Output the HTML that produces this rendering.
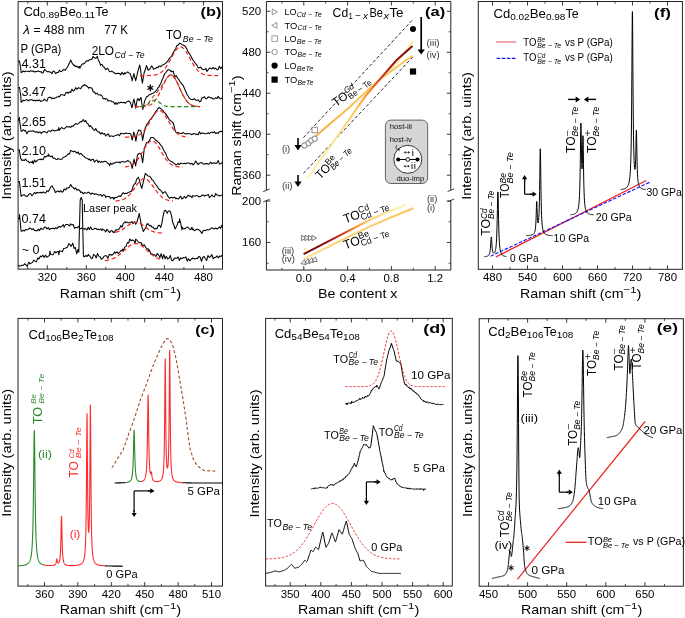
<!DOCTYPE html>
<html><head><meta charset="utf-8"><style>
html,body{margin:0;padding:0;background:#fff;}
svg{display:block;}
text{font-family:"Liberation Sans", sans-serif;}
</style></head><body>
<svg width="685" height="618" viewBox="0 0 685 618">
<rect width="685" height="618" fill="#fff"/>
<rect x="18.10" y="1.60" width="204.40" height="267.50" fill="none" stroke="#222" stroke-width="1.0"/>
<line x1="47.28" y1="269.10" x2="47.28" y2="265.10" stroke="#222" stroke-width="0.9"/>
<line x1="47.28" y1="1.60" x2="47.28" y2="5.60" stroke="#222" stroke-width="0.9"/>
<line x1="86.32" y1="269.10" x2="86.32" y2="265.10" stroke="#222" stroke-width="0.9"/>
<line x1="86.32" y1="1.60" x2="86.32" y2="5.60" stroke="#222" stroke-width="0.9"/>
<line x1="125.36" y1="269.10" x2="125.36" y2="265.10" stroke="#222" stroke-width="0.9"/>
<line x1="125.36" y1="1.60" x2="125.36" y2="5.60" stroke="#222" stroke-width="0.9"/>
<line x1="164.40" y1="269.10" x2="164.40" y2="265.10" stroke="#222" stroke-width="0.9"/>
<line x1="164.40" y1="1.60" x2="164.40" y2="5.60" stroke="#222" stroke-width="0.9"/>
<line x1="203.44" y1="269.10" x2="203.44" y2="265.10" stroke="#222" stroke-width="0.9"/>
<line x1="203.44" y1="1.60" x2="203.44" y2="5.60" stroke="#222" stroke-width="0.9"/>
<line x1="27.76" y1="269.10" x2="27.76" y2="266.90" stroke="#222" stroke-width="0.8"/>
<line x1="27.76" y1="1.60" x2="27.76" y2="3.80" stroke="#222" stroke-width="0.8"/>
<line x1="66.80" y1="269.10" x2="66.80" y2="266.90" stroke="#222" stroke-width="0.8"/>
<line x1="66.80" y1="1.60" x2="66.80" y2="3.80" stroke="#222" stroke-width="0.8"/>
<line x1="105.84" y1="269.10" x2="105.84" y2="266.90" stroke="#222" stroke-width="0.8"/>
<line x1="105.84" y1="1.60" x2="105.84" y2="3.80" stroke="#222" stroke-width="0.8"/>
<line x1="144.88" y1="269.10" x2="144.88" y2="266.90" stroke="#222" stroke-width="0.8"/>
<line x1="144.88" y1="1.60" x2="144.88" y2="3.80" stroke="#222" stroke-width="0.8"/>
<line x1="183.92" y1="269.10" x2="183.92" y2="266.90" stroke="#222" stroke-width="0.8"/>
<line x1="183.92" y1="1.60" x2="183.92" y2="3.80" stroke="#222" stroke-width="0.8"/>
<line x1="150.30" y1="84.60" x2="150.30" y2="91.20" stroke="#000" stroke-width="1.3"/>
<line x1="147.44" y1="86.25" x2="153.16" y2="89.55" stroke="#000" stroke-width="1.3"/>
<line x1="147.44" y1="89.55" x2="153.16" y2="86.25" stroke="#000" stroke-width="1.3"/>
<line x1="266.40" y1="1.50" x2="450.80" y2="1.50" stroke="#222" stroke-width="1.0"/>
<line x1="266.40" y1="1.50" x2="266.40" y2="190.00" stroke="#222" stroke-width="1.0"/>
<line x1="450.80" y1="1.50" x2="450.80" y2="190.00" stroke="#222" stroke-width="1.0"/>
<line x1="266.40" y1="200.50" x2="266.40" y2="270.00" stroke="#222" stroke-width="1.0"/>
<line x1="450.80" y1="200.50" x2="450.80" y2="270.00" stroke="#222" stroke-width="1.0"/>
<line x1="266.40" y1="270.00" x2="450.80" y2="270.00" stroke="#222" stroke-width="1.0"/>
<line x1="263.20" y1="191.60" x2="269.60" y2="189.00" stroke="#222" stroke-width="0.9"/>
<line x1="263.20" y1="201.90" x2="269.60" y2="199.30" stroke="#222" stroke-width="0.9"/>
<line x1="447.60" y1="191.50" x2="454.00" y2="188.90" stroke="#222" stroke-width="0.9"/>
<line x1="447.60" y1="201.70" x2="454.00" y2="199.10" stroke="#222" stroke-width="0.9"/>
<line x1="303.80" y1="1.50" x2="303.80" y2="5.50" stroke="#222" stroke-width="0.9"/>
<line x1="303.80" y1="270.00" x2="303.80" y2="266.00" stroke="#222" stroke-width="0.9"/>
<line x1="347.60" y1="1.50" x2="347.60" y2="5.50" stroke="#222" stroke-width="0.9"/>
<line x1="347.60" y1="270.00" x2="347.60" y2="266.00" stroke="#222" stroke-width="0.9"/>
<line x1="391.40" y1="1.50" x2="391.40" y2="5.50" stroke="#222" stroke-width="0.9"/>
<line x1="391.40" y1="270.00" x2="391.40" y2="266.00" stroke="#222" stroke-width="0.9"/>
<line x1="435.20" y1="1.50" x2="435.20" y2="5.50" stroke="#222" stroke-width="0.9"/>
<line x1="435.20" y1="270.00" x2="435.20" y2="266.00" stroke="#222" stroke-width="0.9"/>
<line x1="281.90" y1="1.50" x2="281.90" y2="3.70" stroke="#222" stroke-width="0.8"/>
<line x1="281.90" y1="270.00" x2="281.90" y2="267.80" stroke="#222" stroke-width="0.8"/>
<line x1="325.70" y1="1.50" x2="325.70" y2="3.70" stroke="#222" stroke-width="0.8"/>
<line x1="325.70" y1="270.00" x2="325.70" y2="267.80" stroke="#222" stroke-width="0.8"/>
<line x1="369.50" y1="1.50" x2="369.50" y2="3.70" stroke="#222" stroke-width="0.8"/>
<line x1="369.50" y1="270.00" x2="369.50" y2="267.80" stroke="#222" stroke-width="0.8"/>
<line x1="413.30" y1="1.50" x2="413.30" y2="3.70" stroke="#222" stroke-width="0.8"/>
<line x1="413.30" y1="270.00" x2="413.30" y2="267.80" stroke="#222" stroke-width="0.8"/>
<line x1="266.40" y1="11.30" x2="270.40" y2="11.30" stroke="#222" stroke-width="0.9"/>
<line x1="450.80" y1="11.30" x2="446.80" y2="11.30" stroke="#222" stroke-width="0.9"/>
<line x1="266.40" y1="52.28" x2="270.40" y2="52.28" stroke="#222" stroke-width="0.9"/>
<line x1="450.80" y1="52.28" x2="446.80" y2="52.28" stroke="#222" stroke-width="0.9"/>
<line x1="266.40" y1="93.25" x2="270.40" y2="93.25" stroke="#222" stroke-width="0.9"/>
<line x1="450.80" y1="93.25" x2="446.80" y2="93.25" stroke="#222" stroke-width="0.9"/>
<line x1="266.40" y1="134.23" x2="270.40" y2="134.23" stroke="#222" stroke-width="0.9"/>
<line x1="450.80" y1="134.23" x2="446.80" y2="134.23" stroke="#222" stroke-width="0.9"/>
<line x1="266.40" y1="175.20" x2="270.40" y2="175.20" stroke="#222" stroke-width="0.9"/>
<line x1="450.80" y1="175.20" x2="446.80" y2="175.20" stroke="#222" stroke-width="0.9"/>
<line x1="266.40" y1="31.79" x2="268.60" y2="31.79" stroke="#222" stroke-width="0.8"/>
<line x1="450.80" y1="31.79" x2="448.60" y2="31.79" stroke="#222" stroke-width="0.8"/>
<line x1="266.40" y1="72.76" x2="268.60" y2="72.76" stroke="#222" stroke-width="0.8"/>
<line x1="450.80" y1="72.76" x2="448.60" y2="72.76" stroke="#222" stroke-width="0.8"/>
<line x1="266.40" y1="113.74" x2="268.60" y2="113.74" stroke="#222" stroke-width="0.8"/>
<line x1="450.80" y1="113.74" x2="448.60" y2="113.74" stroke="#222" stroke-width="0.8"/>
<line x1="266.40" y1="154.72" x2="268.60" y2="154.72" stroke="#222" stroke-width="0.8"/>
<line x1="450.80" y1="154.72" x2="448.60" y2="154.72" stroke="#222" stroke-width="0.8"/>
<line x1="266.40" y1="201.00" x2="270.40" y2="201.00" stroke="#222" stroke-width="0.9"/>
<line x1="450.80" y1="201.00" x2="446.80" y2="201.00" stroke="#222" stroke-width="0.9"/>
<line x1="266.40" y1="242.50" x2="270.40" y2="242.50" stroke="#222" stroke-width="0.9"/>
<line x1="450.80" y1="242.50" x2="446.80" y2="242.50" stroke="#222" stroke-width="0.9"/>
<line x1="266.40" y1="221.75" x2="268.60" y2="221.75" stroke="#222" stroke-width="0.8"/>
<line x1="450.80" y1="221.75" x2="448.60" y2="221.75" stroke="#222" stroke-width="0.8"/>
<line x1="266.40" y1="263.25" x2="268.60" y2="263.25" stroke="#222" stroke-width="0.8"/>
<line x1="450.80" y1="263.25" x2="448.60" y2="263.25" stroke="#222" stroke-width="0.8"/>
<rect x="478.30" y="1.50" width="204.10" height="267.80" fill="none" stroke="#222" stroke-width="1.0"/>
<line x1="492.50" y1="269.30" x2="492.50" y2="265.30" stroke="#222" stroke-width="0.9"/>
<line x1="492.50" y1="1.50" x2="492.50" y2="5.50" stroke="#222" stroke-width="0.9"/>
<line x1="527.50" y1="269.30" x2="527.50" y2="265.30" stroke="#222" stroke-width="0.9"/>
<line x1="527.50" y1="1.50" x2="527.50" y2="5.50" stroke="#222" stroke-width="0.9"/>
<line x1="562.50" y1="269.30" x2="562.50" y2="265.30" stroke="#222" stroke-width="0.9"/>
<line x1="562.50" y1="1.50" x2="562.50" y2="5.50" stroke="#222" stroke-width="0.9"/>
<line x1="597.49" y1="269.30" x2="597.49" y2="265.30" stroke="#222" stroke-width="0.9"/>
<line x1="597.49" y1="1.50" x2="597.49" y2="5.50" stroke="#222" stroke-width="0.9"/>
<line x1="632.49" y1="269.30" x2="632.49" y2="265.30" stroke="#222" stroke-width="0.9"/>
<line x1="632.49" y1="1.50" x2="632.49" y2="5.50" stroke="#222" stroke-width="0.9"/>
<line x1="667.49" y1="269.30" x2="667.49" y2="265.30" stroke="#222" stroke-width="0.9"/>
<line x1="667.49" y1="1.50" x2="667.49" y2="5.50" stroke="#222" stroke-width="0.9"/>
<line x1="510.00" y1="269.30" x2="510.00" y2="267.10" stroke="#222" stroke-width="0.8"/>
<line x1="510.00" y1="1.50" x2="510.00" y2="3.70" stroke="#222" stroke-width="0.8"/>
<line x1="545.00" y1="269.30" x2="545.00" y2="267.10" stroke="#222" stroke-width="0.8"/>
<line x1="545.00" y1="1.50" x2="545.00" y2="3.70" stroke="#222" stroke-width="0.8"/>
<line x1="580.00" y1="269.30" x2="580.00" y2="267.10" stroke="#222" stroke-width="0.8"/>
<line x1="580.00" y1="1.50" x2="580.00" y2="3.70" stroke="#222" stroke-width="0.8"/>
<line x1="614.99" y1="269.30" x2="614.99" y2="267.10" stroke="#222" stroke-width="0.8"/>
<line x1="614.99" y1="1.50" x2="614.99" y2="3.70" stroke="#222" stroke-width="0.8"/>
<line x1="649.99" y1="269.30" x2="649.99" y2="267.10" stroke="#222" stroke-width="0.8"/>
<line x1="649.99" y1="1.50" x2="649.99" y2="3.70" stroke="#222" stroke-width="0.8"/>
<rect x="18.00" y="318.40" width="204.50" height="267.70" fill="none" stroke="#222" stroke-width="1.0"/>
<line x1="44.50" y1="586.10" x2="44.50" y2="582.10" stroke="#222" stroke-width="0.9"/>
<line x1="44.50" y1="318.40" x2="44.50" y2="322.40" stroke="#222" stroke-width="0.9"/>
<line x1="77.90" y1="586.10" x2="77.90" y2="582.10" stroke="#222" stroke-width="0.9"/>
<line x1="77.90" y1="318.40" x2="77.90" y2="322.40" stroke="#222" stroke-width="0.9"/>
<line x1="111.30" y1="586.10" x2="111.30" y2="582.10" stroke="#222" stroke-width="0.9"/>
<line x1="111.30" y1="318.40" x2="111.30" y2="322.40" stroke="#222" stroke-width="0.9"/>
<line x1="144.70" y1="586.10" x2="144.70" y2="582.10" stroke="#222" stroke-width="0.9"/>
<line x1="144.70" y1="318.40" x2="144.70" y2="322.40" stroke="#222" stroke-width="0.9"/>
<line x1="178.10" y1="586.10" x2="178.10" y2="582.10" stroke="#222" stroke-width="0.9"/>
<line x1="178.10" y1="318.40" x2="178.10" y2="322.40" stroke="#222" stroke-width="0.9"/>
<line x1="211.50" y1="586.10" x2="211.50" y2="582.10" stroke="#222" stroke-width="0.9"/>
<line x1="211.50" y1="318.40" x2="211.50" y2="322.40" stroke="#222" stroke-width="0.9"/>
<line x1="27.80" y1="586.10" x2="27.80" y2="583.90" stroke="#222" stroke-width="0.8"/>
<line x1="27.80" y1="318.40" x2="27.80" y2="320.60" stroke="#222" stroke-width="0.8"/>
<line x1="61.20" y1="586.10" x2="61.20" y2="583.90" stroke="#222" stroke-width="0.8"/>
<line x1="61.20" y1="318.40" x2="61.20" y2="320.60" stroke="#222" stroke-width="0.8"/>
<line x1="94.60" y1="586.10" x2="94.60" y2="583.90" stroke="#222" stroke-width="0.8"/>
<line x1="94.60" y1="318.40" x2="94.60" y2="320.60" stroke="#222" stroke-width="0.8"/>
<line x1="128.00" y1="586.10" x2="128.00" y2="583.90" stroke="#222" stroke-width="0.8"/>
<line x1="128.00" y1="318.40" x2="128.00" y2="320.60" stroke="#222" stroke-width="0.8"/>
<line x1="161.40" y1="586.10" x2="161.40" y2="583.90" stroke="#222" stroke-width="0.8"/>
<line x1="161.40" y1="318.40" x2="161.40" y2="320.60" stroke="#222" stroke-width="0.8"/>
<line x1="194.80" y1="586.10" x2="194.80" y2="583.90" stroke="#222" stroke-width="0.8"/>
<line x1="194.80" y1="318.40" x2="194.80" y2="320.60" stroke="#222" stroke-width="0.8"/>
<rect x="265.60" y="318.40" width="186.70" height="267.60" fill="none" stroke="#222" stroke-width="1.0"/>
<line x1="290.20" y1="586.00" x2="290.20" y2="582.00" stroke="#222" stroke-width="0.9"/>
<line x1="290.20" y1="318.40" x2="290.20" y2="322.40" stroke="#222" stroke-width="0.9"/>
<line x1="320.80" y1="586.00" x2="320.80" y2="582.00" stroke="#222" stroke-width="0.9"/>
<line x1="320.80" y1="318.40" x2="320.80" y2="322.40" stroke="#222" stroke-width="0.9"/>
<line x1="351.40" y1="586.00" x2="351.40" y2="582.00" stroke="#222" stroke-width="0.9"/>
<line x1="351.40" y1="318.40" x2="351.40" y2="322.40" stroke="#222" stroke-width="0.9"/>
<line x1="382.00" y1="586.00" x2="382.00" y2="582.00" stroke="#222" stroke-width="0.9"/>
<line x1="382.00" y1="318.40" x2="382.00" y2="322.40" stroke="#222" stroke-width="0.9"/>
<line x1="412.60" y1="586.00" x2="412.60" y2="582.00" stroke="#222" stroke-width="0.9"/>
<line x1="412.60" y1="318.40" x2="412.60" y2="322.40" stroke="#222" stroke-width="0.9"/>
<line x1="443.20" y1="586.00" x2="443.20" y2="582.00" stroke="#222" stroke-width="0.9"/>
<line x1="443.20" y1="318.40" x2="443.20" y2="322.40" stroke="#222" stroke-width="0.9"/>
<line x1="274.90" y1="586.00" x2="274.90" y2="583.80" stroke="#222" stroke-width="0.8"/>
<line x1="274.90" y1="318.40" x2="274.90" y2="320.60" stroke="#222" stroke-width="0.8"/>
<line x1="305.50" y1="586.00" x2="305.50" y2="583.80" stroke="#222" stroke-width="0.8"/>
<line x1="305.50" y1="318.40" x2="305.50" y2="320.60" stroke="#222" stroke-width="0.8"/>
<line x1="336.10" y1="586.00" x2="336.10" y2="583.80" stroke="#222" stroke-width="0.8"/>
<line x1="336.10" y1="318.40" x2="336.10" y2="320.60" stroke="#222" stroke-width="0.8"/>
<line x1="366.70" y1="586.00" x2="366.70" y2="583.80" stroke="#222" stroke-width="0.8"/>
<line x1="366.70" y1="318.40" x2="366.70" y2="320.60" stroke="#222" stroke-width="0.8"/>
<line x1="397.30" y1="586.00" x2="397.30" y2="583.80" stroke="#222" stroke-width="0.8"/>
<line x1="397.30" y1="318.40" x2="397.30" y2="320.60" stroke="#222" stroke-width="0.8"/>
<line x1="427.90" y1="586.00" x2="427.90" y2="583.80" stroke="#222" stroke-width="0.8"/>
<line x1="427.90" y1="318.40" x2="427.90" y2="320.60" stroke="#222" stroke-width="0.8"/>
<rect x="479.20" y="318.70" width="204.20" height="267.50" fill="none" stroke="#222" stroke-width="1.0"/>
<line x1="488.50" y1="586.20" x2="488.50" y2="582.20" stroke="#222" stroke-width="0.9"/>
<line x1="488.50" y1="318.70" x2="488.50" y2="322.70" stroke="#222" stroke-width="0.9"/>
<line x1="527.60" y1="586.20" x2="527.60" y2="582.20" stroke="#222" stroke-width="0.9"/>
<line x1="527.60" y1="318.70" x2="527.60" y2="322.70" stroke="#222" stroke-width="0.9"/>
<line x1="566.70" y1="586.20" x2="566.70" y2="582.20" stroke="#222" stroke-width="0.9"/>
<line x1="566.70" y1="318.70" x2="566.70" y2="322.70" stroke="#222" stroke-width="0.9"/>
<line x1="605.80" y1="586.20" x2="605.80" y2="582.20" stroke="#222" stroke-width="0.9"/>
<line x1="605.80" y1="318.70" x2="605.80" y2="322.70" stroke="#222" stroke-width="0.9"/>
<line x1="644.90" y1="586.20" x2="644.90" y2="582.20" stroke="#222" stroke-width="0.9"/>
<line x1="644.90" y1="318.70" x2="644.90" y2="322.70" stroke="#222" stroke-width="0.9"/>
<line x1="508.05" y1="586.20" x2="508.05" y2="584.00" stroke="#222" stroke-width="0.8"/>
<line x1="508.05" y1="318.70" x2="508.05" y2="320.90" stroke="#222" stroke-width="0.8"/>
<line x1="547.15" y1="586.20" x2="547.15" y2="584.00" stroke="#222" stroke-width="0.8"/>
<line x1="547.15" y1="318.70" x2="547.15" y2="320.90" stroke="#222" stroke-width="0.8"/>
<line x1="586.25" y1="586.20" x2="586.25" y2="584.00" stroke="#222" stroke-width="0.8"/>
<line x1="586.25" y1="318.70" x2="586.25" y2="320.90" stroke="#222" stroke-width="0.8"/>
<line x1="625.35" y1="586.20" x2="625.35" y2="584.00" stroke="#222" stroke-width="0.8"/>
<line x1="625.35" y1="318.70" x2="625.35" y2="320.90" stroke="#222" stroke-width="0.8"/>
<line x1="664.45" y1="586.20" x2="664.45" y2="584.00" stroke="#222" stroke-width="0.8"/>
<line x1="664.45" y1="318.70" x2="664.45" y2="320.90" stroke="#222" stroke-width="0.8"/>
<g>
<polyline points="18.20,60.80 19.45,61.50 19.50,61.08 20.70,68.00 21.10,72.68 21.95,72.11 23.20,71.01 24.45,71.72 25.50,71.31 26.95,71.34 28.20,71.18 29.45,71.70 30.70,70.66 31.95,71.23 33.20,71.02 34.45,72.03 35.70,71.62 36.95,71.40 38.20,71.05 39.45,71.57 40.70,71.87 41.30,71.66 41.95,73.02 43.20,72.77 44.45,69.56 45.70,70.27 46.95,71.75 48.20,71.54 49.45,72.08 50.70,72.09 51.95,73.73 53.20,70.94 54.45,71.57 55.70,73.66 56.95,72.46 58.20,72.47 58.80,71.46 59.45,70.31 60.70,71.56 61.95,71.18 63.20,69.71 64.45,69.86 65.70,70.06 65.80,69.29 66.95,67.76 68.20,65.48 69.45,62.98 70.70,60.06 71.95,62.71 73.20,64.67 74.45,65.87 74.60,65.09 75.70,66.79 76.95,66.14 78.20,67.74 79.45,66.46 79.80,68.29 80.70,66.58 81.95,64.27 83.20,63.83 83.30,64.05 84.45,63.51 85.70,61.64 86.95,60.75 88.20,61.09 89.45,59.73 90.30,59.80 91.95,59.22 93.00,56.48 94.45,57.82 95.70,58.39 96.95,56.82 97.30,56.30 98.20,59.68 99.45,62.07 100.70,65.45 100.80,64.60 101.95,64.58 103.20,66.80 104.45,67.55 105.70,69.64 106.10,69.47 106.95,68.23 108.20,69.10 109.45,71.39 110.70,71.72 111.95,71.07 113.20,72.12 114.45,73.01 114.90,73.20 115.70,73.71 116.95,73.42 118.20,73.36 119.45,73.47 120.70,74.84 121.95,72.24 123.20,74.30 123.60,74.53 124.45,72.78 125.00,73.79 125.70,73.06 126.95,72.63 127.70,71.87 128.20,72.43 129.00,73.13 129.45,73.35 130.30,73.86 131.95,79.47 132.10,80.87 133.20,76.28 133.90,73.51 134.45,75.91 135.70,80.75 136.95,75.47 137.50,72.81 138.20,70.26 139.45,65.52 139.70,64.93 140.70,70.68 141.00,72.98 141.95,80.47 142.40,83.09 143.20,77.80 144.10,72.97 145.70,68.55 146.40,65.43 146.95,66.71 148.20,70.26 149.45,69.21 149.90,69.06 150.70,67.55 151.70,65.84 153.20,68.51 153.50,69.27 154.45,68.90 155.00,68.57 155.70,68.46 156.95,67.27 158.20,67.64 158.30,66.63 159.45,65.97 160.70,66.72 161.95,65.40 163.20,64.65 164.45,64.12 165.70,63.02 166.00,62.91 166.95,61.96 168.20,60.33 169.45,58.21 170.70,57.38 171.95,55.27 172.10,54.90 173.20,52.76 174.45,50.45 175.70,48.71 176.70,45.66 178.20,45.09 179.45,43.34 180.50,43.40 181.95,44.68 183.20,45.06 184.45,45.72 185.70,46.86 185.90,47.16 186.95,49.13 188.20,51.98 189.45,53.67 190.70,55.73 191.95,58.26 192.00,58.37 193.20,60.22 194.45,62.02 195.70,63.96 196.95,65.11 198.20,67.91 199.45,67.63 200.70,67.08 201.95,68.89 203.20,69.72 204.45,69.26 205.70,69.22 205.80,68.30 206.95,71.53 208.20,69.76 209.45,67.96 210.70,68.22 211.95,68.92 213.20,67.45 214.45,68.88 215.70,68.29 216.95,69.69 218.20,69.41 219.45,66.19 220.70,68.51 221.95,67.03 222.50,69.36" fill="none" stroke="#000" stroke-width="1.05" stroke-linejoin="round"/>
<polyline points="140.00,75.60 140.50,75.60 141.00,75.60 141.50,75.60 142.00,75.59 142.50,75.59 143.00,75.59 143.50,75.59 144.00,75.59 144.50,75.58 145.00,75.58 145.50,75.58 146.00,75.57 146.50,75.56 147.00,75.56 147.50,75.55 148.00,75.54 148.50,75.52 149.00,75.51 149.50,75.49 150.00,75.47 150.50,75.44 151.00,75.41 151.50,75.38 152.00,75.34 152.50,75.29 153.00,75.24 153.50,75.18 154.00,75.10 154.50,75.02 155.00,74.93 155.50,74.83 156.00,74.71 156.50,74.57 157.00,74.42 157.50,74.25 158.00,74.06 158.50,73.85 159.00,73.62 159.50,73.36 160.00,73.07 160.50,72.76 161.00,72.41 161.50,72.04 162.00,71.63 162.50,71.19 163.00,70.71 163.50,70.20 164.00,69.65 164.50,69.07 165.00,68.44 165.50,67.78 166.00,67.09 166.50,66.36 167.00,65.59 167.50,64.80 168.00,63.97 168.50,63.12 169.00,62.24 169.50,61.34 170.00,60.43 170.50,59.50 171.00,58.57 171.50,57.63 172.00,56.70 172.50,55.78 173.00,54.87 173.50,53.98 174.00,53.12 174.50,52.29 175.00,51.50 175.50,50.76 176.00,50.07 176.50,49.44 177.00,48.86 177.50,48.36 178.00,47.92 178.50,47.56 179.00,47.27 179.50,47.07 180.00,46.94 180.50,46.90 181.00,46.94 181.50,47.07 182.00,47.27 182.50,47.56 183.00,47.92 183.50,48.36 184.00,48.86 184.50,49.44 185.00,50.07 185.50,50.76 186.00,51.50 186.50,52.29 187.00,53.12 187.50,53.98 188.00,54.87 188.50,55.78 189.00,56.70 189.50,57.63 190.00,58.57 190.50,59.50 191.00,60.43 191.50,61.34 192.00,62.24 192.50,63.12 193.00,63.97 193.50,64.80 194.00,65.59 194.50,66.36 195.00,67.09 195.50,67.78 196.00,68.44 196.50,69.07 197.00,69.65 197.50,70.20 198.00,70.71 198.50,71.19 199.00,71.63 199.50,72.04 200.00,72.41 200.50,72.76 201.00,73.07 201.50,73.36 202.00,73.62 202.50,73.85 203.00,74.06 203.50,74.25 204.00,74.42 204.50,74.57 205.00,74.71 205.50,74.83 206.00,74.93 206.50,75.02 207.00,75.10 207.50,75.18 208.00,75.24 208.50,75.29 209.00,75.34 209.50,75.38 210.00,75.41 210.50,75.44 211.00,75.47 211.50,75.49 212.00,75.51 212.50,75.52 213.00,75.54 213.50,75.55 214.00,75.56 214.50,75.56 215.00,75.57 215.50,75.58 216.00,75.58 216.50,75.58 217.00,75.59 217.50,75.59 218.00,75.59" fill="none" stroke="#f01c1c" stroke-width="1.2" stroke-linejoin="round" stroke-dasharray="4.2,2.6"/>
<polyline points="18.20,87.86 19.45,87.55 19.50,87.65 20.70,95.54 21.10,102.32 21.95,101.59 23.20,100.10 24.45,100.77 25.50,100.14 26.95,99.51 28.20,100.88 29.45,99.86 30.70,99.92 31.95,99.60 33.20,100.72 34.45,100.33 35.70,100.94 36.95,100.04 38.20,100.73 39.45,99.94 40.70,101.48 41.30,100.96 41.95,100.92 43.20,100.67 44.45,99.15 45.70,100.35 46.95,101.12 48.20,97.68 49.45,97.29 50.70,97.17 51.95,98.83 53.20,97.92 54.45,98.40 55.70,97.79 56.95,97.04 58.20,96.79 58.80,96.26 59.45,96.87 60.70,94.69 61.95,94.79 63.20,94.86 64.45,95.67 65.70,93.01 66.95,92.25 67.60,92.42 68.20,93.41 69.45,91.77 70.70,92.45 71.95,89.12 73.20,91.02 74.45,90.31 75.70,87.61 76.30,88.63 76.95,89.27 78.20,87.82 79.45,88.09 80.70,88.76 81.95,86.48 83.20,85.52 84.45,84.61 85.10,85.55 85.70,85.30 86.95,86.28 88.20,87.30 88.60,88.25 89.45,87.40 90.70,87.88 91.95,87.99 93.20,91.94 94.45,91.86 95.70,93.95 96.95,93.55 97.30,93.17 98.20,94.75 99.45,95.03 100.70,94.79 101.95,95.85 103.20,98.85 104.45,98.41 105.70,99.21 106.10,98.87 106.95,98.93 108.20,100.88 109.45,100.65 110.70,100.71 111.95,101.85 113.20,101.80 114.45,103.34 114.90,104.35 115.70,102.62 116.95,104.42 118.20,102.53 119.45,103.11 120.70,102.16 121.95,102.56 123.20,102.68 123.60,102.23 124.45,102.55 125.00,103.32 125.70,102.78 126.95,101.68 128.20,101.12 128.60,101.01 129.45,101.79 130.30,102.37 131.95,107.71 132.10,107.58 133.20,101.94 133.90,99.09 134.45,101.20 135.70,108.26 136.95,101.22 137.50,98.69 138.20,98.82 139.20,100.64 140.70,98.11 141.00,97.44 141.95,104.27 142.80,109.50 144.45,101.98 144.60,101.10 145.70,98.60 146.40,96.86 146.95,96.71 148.20,95.86 149.00,94.92 149.45,94.81 150.70,94.34 151.70,93.70 153.20,92.98 154.40,92.37 155.70,91.07 156.95,89.78 158.20,87.48 159.00,87.00 159.45,85.63 160.70,83.76 161.95,80.18 162.80,78.49 164.45,74.22 164.70,73.70 165.70,72.77 166.95,70.93 168.00,69.83 169.45,69.78 170.70,71.17 171.30,70.87 171.95,71.84 173.20,71.09 174.45,75.62 175.10,76.78 175.70,76.62 176.10,75.57 176.95,76.91 178.20,78.86 179.45,80.49 179.80,81.20 180.70,82.56 181.95,84.16 182.70,84.87 183.20,85.53 184.45,88.56 185.70,91.62 186.50,92.72 186.95,94.53 188.20,96.27 189.30,98.11 190.70,99.35 191.95,99.43 193.20,99.36 194.45,98.64 195.70,100.06 196.90,100.39 198.20,99.70 199.45,101.65 200.70,101.53 201.95,97.67 203.10,97.80 204.45,96.67 205.70,98.73 206.95,98.48 208.20,96.90 209.45,97.12 210.70,97.98 211.95,97.73 213.20,99.25 214.45,98.62 215.70,97.79 216.95,98.54 218.20,96.37 219.45,98.38 220.70,98.89 221.95,98.03 222.50,97.60" fill="none" stroke="#000" stroke-width="1.05" stroke-linejoin="round"/>
<polyline points="135.00,106.69 135.50,106.69 136.00,106.69 136.50,106.68 137.00,106.67 137.50,106.66 138.00,106.65 138.50,106.64 139.00,106.62 139.50,106.59 140.00,106.56 140.50,106.52 141.00,106.47 141.50,106.40 142.00,106.32 142.50,106.22 143.00,106.10 143.50,105.96 144.00,105.78 144.50,105.58 145.00,105.34 145.50,105.07 146.00,104.75 146.50,104.39 147.00,104.00 147.50,103.55 148.00,103.07 148.50,102.54 149.00,101.98 149.50,101.38 150.00,100.76 150.50,100.11 151.00,99.44 151.50,98.77 152.00,98.09 152.50,97.41 153.00,96.75 153.50,96.10 154.00,95.46 154.50,94.85 155.00,94.25 155.50,93.67 156.00,93.11 156.50,92.56 157.00,92.01 157.50,91.47 158.00,90.92 158.50,90.36 159.00,89.77 159.50,89.17 160.00,88.53 160.50,87.86 161.00,87.16 161.50,86.42 162.00,85.65 162.50,84.85 163.00,84.03 163.50,83.19 164.00,82.34 164.50,81.49 165.00,80.66 165.50,79.84 166.00,79.06 166.50,78.32 167.00,77.63 167.50,77.00 168.00,76.44 168.50,75.97 169.00,75.58 169.50,75.28 170.00,75.08 170.50,74.97 171.00,74.98 171.50,75.08 172.00,75.29 172.50,75.60 173.00,76.01 173.50,76.52 174.00,77.12 174.50,77.80 175.00,78.56 175.50,79.40 176.00,80.30 176.50,81.25 177.00,82.25 177.50,83.30 178.00,84.37 178.50,85.47 179.00,86.58 179.50,87.70 180.00,88.81 180.50,89.92 181.00,91.01 181.50,92.08 182.00,93.12 182.50,94.14 183.00,95.11 183.50,96.05 184.00,96.94 184.50,97.79 185.00,98.59 185.50,99.34 186.00,100.05 186.50,100.71 187.00,101.32 187.50,101.89 188.00,102.41 188.50,102.89 189.00,103.32 189.50,103.72 190.00,104.08 190.50,104.40 191.00,104.69 191.50,104.95 192.00,105.18 192.50,105.39 193.00,105.57 193.50,105.73 194.00,105.87 194.50,105.99 195.00,106.10 195.50,106.19 196.00,106.27 196.50,106.34 197.00,106.39 197.50,106.44 198.00,106.49 198.50,106.52 199.00,106.55 199.50,106.58 200.00,106.60" fill="none" stroke="#a0522d" stroke-width="1.1" stroke-linejoin="round" stroke-dasharray="4.2,2.6"/>
<polyline points="168.00,76.44 168.50,75.97 169.00,75.58 169.50,75.28 170.00,75.08 170.50,74.97 171.00,74.98 171.50,75.08 172.00,75.29 172.50,75.60 173.00,76.01 173.50,76.52 174.00,77.12 174.50,77.80 175.00,78.56 175.50,79.40 176.00,80.30 176.50,81.25 177.00,82.25 177.50,83.30 178.00,84.37 178.50,85.47 179.00,86.58 179.50,87.70 180.00,88.81 180.50,89.92 181.00,91.01 181.50,92.08 182.00,93.12 182.50,94.14 183.00,95.11 183.50,96.05 184.00,96.94 184.50,97.79 185.00,98.59 185.50,99.34 186.00,100.05 186.50,100.71 187.00,101.32 187.50,101.89 188.00,102.41 188.50,102.89 189.00,103.32 189.50,103.72 190.00,104.08 190.50,104.40 191.00,104.69 191.50,104.95 192.00,105.18 192.50,105.39 193.00,105.57 193.50,105.73 194.00,105.87 194.50,105.99 195.00,106.10 195.50,106.19 196.00,106.27 196.50,106.34 197.00,106.39 197.50,106.44 198.00,106.49 198.50,106.52 199.00,106.55 199.50,106.58 200.00,106.60" fill="none" stroke="#a0522d" stroke-width="0.9" stroke-linejoin="round"/>
<polyline points="135.00,106.69 135.50,106.69 136.00,106.69 136.50,106.69 137.00,106.69 137.50,106.68 138.00,106.68 138.50,106.67 139.00,106.67 139.50,106.66 140.00,106.65 140.50,106.64 141.00,106.62 141.50,106.60 142.00,106.58 142.50,106.56 143.00,106.53 143.50,106.49 144.00,106.45 144.50,106.40 145.00,106.35 145.50,106.28 146.00,106.20 146.50,106.11 147.00,106.01 147.50,105.89 148.00,105.76 148.50,105.60 149.00,105.42 149.50,105.22 150.00,105.00 150.50,104.74 151.00,104.46 151.50,104.14 152.00,103.79 152.50,103.41 153.00,102.98 153.50,102.51 154.00,102.00 154.50,101.44 155.00,100.84 155.50,100.19 156.00,99.49 156.50,98.74 157.00,97.95 157.50,97.11 158.00,96.23 158.50,95.30 159.00,94.33 159.50,93.33 160.00,92.29 160.50,91.23 161.00,90.14 161.50,89.03 162.00,87.92 162.50,86.80 163.00,85.69 163.50,84.59 164.00,83.51 164.50,82.46 165.00,81.45 165.50,80.48 166.00,79.57 166.50,78.72 167.00,77.95 167.50,77.25 168.00,76.64 168.50,76.11 169.00,75.69 169.50,75.36 170.00,75.14 170.50,75.02 171.00,75.01 171.50,75.10 172.00,75.31 172.50,75.61 173.00,76.02 173.50,76.52 174.00,77.12 174.50,77.80 175.00,78.56 175.50,79.40 176.00,80.30 176.50,81.25 177.00,82.25 177.50,83.30 178.00,84.37 178.50,85.47 179.00,86.58 179.50,87.70 180.00,88.81 180.50,89.92 181.00,91.01 181.50,92.08 182.00,93.12 182.50,94.14 183.00,95.11 183.50,96.05 184.00,96.94 184.50,97.79 185.00,98.59 185.50,99.34 186.00,100.05 186.50,100.71 187.00,101.32 187.50,101.89 188.00,102.41 188.50,102.89 189.00,103.32 189.50,103.72 190.00,104.08 190.50,104.40 191.00,104.69 191.50,104.95 192.00,105.18 192.50,105.39 193.00,105.57 193.50,105.73 194.00,105.87 194.50,105.99 195.00,106.10 195.50,106.19 196.00,106.27 196.50,106.34 197.00,106.39 197.50,106.44 198.00,106.49 198.50,106.52 199.00,106.55 199.50,106.58 200.00,106.60" fill="none" stroke="#f01c1c" stroke-width="1.2" stroke-linejoin="round" stroke-dasharray="4.2,2.6"/>
<polyline points="140.00,106.61 140.50,106.58 141.00,106.55 141.50,106.50 142.00,106.44 142.50,106.36 143.00,106.27 143.50,106.16 144.00,106.03 144.50,105.88 145.00,105.69 145.50,105.49 146.00,105.25 146.50,104.98 147.00,104.68 147.50,104.36 148.00,104.01 148.50,103.64 149.00,103.25 149.50,102.86 150.00,102.46 150.50,102.06 151.00,101.68 151.50,101.32 152.00,101.00 152.50,100.71 153.00,100.47 153.50,100.29 154.00,100.16 154.50,100.11 155.00,100.11 155.50,100.18 156.00,100.32 156.50,100.51 157.00,100.76 157.50,101.06 158.00,101.39 158.50,101.76 159.00,102.14 159.50,102.54 160.00,102.94 160.50,103.33 161.00,103.72 161.50,104.08 162.00,104.43 162.50,104.75 163.00,105.04 163.50,105.30 164.00,105.53 164.50,105.73 165.00,105.91 165.50,106.06 166.00,106.19 166.50,106.29 167.00,106.38 167.50,106.45 168.00,106.51 168.50,106.55 169.00,106.59 169.50,106.62 170.00,106.64 170.50,106.66 171.00,106.67 171.50,106.68 172.00,106.68 172.50,106.69 173.00,106.69 173.50,106.69 174.00,106.70 174.50,106.70 175.00,106.70 175.50,106.70 176.00,106.70 176.50,106.70 177.00,106.70 177.50,106.70 178.00,106.70 178.50,106.70 179.00,106.70 179.50,106.70 180.00,106.70 180.50,106.70 181.00,106.70 181.50,106.70 182.00,106.70 182.50,106.70 183.00,106.70 183.50,106.70 184.00,106.70 184.50,106.70 185.00,106.70 185.50,106.70 186.00,106.70 186.50,106.70 187.00,106.70 187.50,106.70 188.00,106.70 188.50,106.70 189.00,106.70 189.50,106.70 190.00,106.70 190.50,106.70 191.00,106.70 191.50,106.70 192.00,106.70 192.50,106.70 193.00,106.70 193.50,106.70 194.00,106.70 194.50,106.70 195.00,106.70 195.50,106.70 196.00,106.70 196.50,106.70 197.00,106.70" fill="none" stroke="#1f8a1f" stroke-width="1.2" stroke-linejoin="round" stroke-dasharray="4.2,2.6"/>
<polyline points="18.20,120.76 19.45,117.53 19.50,119.82 20.70,128.07 21.10,131.15 21.95,131.24 23.20,129.71 24.45,130.94 25.50,130.34 26.95,133.67 28.20,131.40 29.45,131.05 30.70,131.21 31.95,131.02 33.20,130.83 34.45,131.44 35.70,132.21 36.95,131.76 38.20,132.78 39.45,131.99 40.70,132.27 41.30,133.48 41.95,132.62 43.20,131.63 44.45,131.69 45.70,132.06 46.95,132.94 48.20,131.07 49.45,130.90 50.70,131.67 51.95,130.04 53.20,130.31 54.45,131.02 55.70,130.61 56.95,130.04 58.20,130.30 58.80,127.53 59.45,130.30 60.70,128.42 61.95,127.53 63.20,128.66 64.45,128.63 65.70,127.40 66.95,126.56 68.20,127.05 69.45,126.63 70.70,127.39 71.10,126.77 71.95,125.99 73.20,126.17 74.45,124.64 75.70,123.56 76.95,124.20 78.20,123.67 79.45,122.54 80.70,121.58 81.60,121.98 83.20,119.52 84.45,121.68 85.10,121.38 85.70,120.45 86.95,123.22 88.20,123.90 89.45,126.68 90.30,125.54 91.95,127.37 93.20,129.36 94.45,130.44 95.70,128.64 96.95,130.65 98.20,132.02 99.10,131.83 100.70,134.14 101.95,132.49 103.20,134.15 104.45,133.56 105.70,135.92 106.10,134.98 106.95,134.78 108.20,133.84 109.45,136.54 110.70,135.93 111.95,136.02 113.20,136.41 114.45,135.90 115.70,135.24 116.60,135.19 118.20,134.59 119.45,135.79 120.70,133.16 121.95,133.68 122.00,133.72 123.20,133.70 124.45,133.62 125.70,133.03 125.90,132.89 126.95,133.30 128.20,133.59 128.80,133.48 129.45,133.52 130.70,133.72 131.95,139.12 132.20,140.04 133.20,135.10 133.70,132.11 134.45,134.00 134.60,134.27 135.70,140.18 135.90,141.15 136.95,134.74 137.00,134.16 138.20,131.44 138.50,129.91 139.45,130.32 140.40,130.25 141.40,132.43 141.95,135.33 142.60,140.38 143.20,137.46 143.80,133.99 144.45,131.34 145.30,127.81 146.95,124.19 147.20,123.81 148.20,122.93 149.45,120.48 150.70,119.10 151.10,118.35 151.95,117.68 153.20,115.57 154.20,114.36 155.70,111.51 156.95,110.11 158.20,108.22 159.30,107.50 160.70,108.70 161.95,109.70 163.20,110.98 164.40,112.56 165.70,113.93 166.95,115.55 168.20,117.71 169.45,120.07 170.30,120.32 171.95,121.92 173.20,123.01 174.45,127.50 175.40,131.58 176.95,132.63 178.20,132.45 179.45,133.16 180.50,133.39 181.95,133.57 183.20,132.44 184.45,133.40 185.70,133.98 186.95,133.44 188.20,133.82 189.20,133.67 190.70,133.91 191.95,134.71 193.20,133.64 194.45,133.72 195.70,134.36 196.95,134.12 198.20,134.81 199.45,131.81 200.70,133.95 201.95,132.82 203.20,133.18 204.45,133.61 205.70,133.69 206.95,133.55 208.20,132.76 209.45,133.77 210.70,132.21 211.95,132.21 213.20,132.82 214.45,131.68 215.70,133.65 216.95,132.66 218.20,133.44 219.45,131.65 220.70,131.26 221.95,131.58 222.50,131.96" fill="none" stroke="#000" stroke-width="1.05" stroke-linejoin="round"/>
<polyline points="125.00,137.18 125.50,137.17 126.00,137.17 126.50,137.16 127.00,137.15 127.50,137.14 128.00,137.13 128.50,137.11 129.00,137.10 129.50,137.07 130.00,137.05 130.50,137.02 131.00,136.99 131.50,136.95 132.00,136.90 132.50,136.85 133.00,136.79 133.50,136.72 134.00,136.64 134.50,136.55 135.00,136.44 135.50,136.33 136.00,136.19 136.50,136.04 137.00,135.87 137.50,135.69 138.00,135.47 138.50,135.24 139.00,134.98 139.50,134.70 140.00,134.38 140.50,134.04 141.00,133.67 141.50,133.26 142.00,132.82 142.50,132.34 143.00,131.83 143.50,131.29 144.00,130.70 144.50,130.09 145.00,129.43 145.50,128.74 146.00,128.02 146.50,127.27 147.00,126.49 147.50,125.68 148.00,124.85 148.50,124.00 149.00,123.13 149.50,122.25 150.00,121.36 150.50,120.47 151.00,119.59 151.50,118.71 152.00,117.85 152.50,117.00 153.00,116.19 153.50,115.41 154.00,114.67 154.50,113.97 155.00,113.32 155.50,112.73 156.00,112.20 156.50,111.73 157.00,111.34 157.50,111.02 158.00,110.77 158.50,110.60 159.00,110.51 159.50,110.51 160.00,110.58 160.50,110.73 161.00,110.96 161.50,111.27 162.00,111.65 162.50,112.10 163.00,112.62 163.50,113.20 164.00,113.83 164.50,114.52 165.00,115.26 165.50,116.03 166.00,116.84 166.50,117.68 167.00,118.53 167.50,119.41 168.00,120.29 168.50,121.18 169.00,122.07 169.50,122.95 170.00,123.83 170.50,124.68 171.00,125.52 171.50,126.33 172.00,127.12 172.50,127.88 173.00,128.60 173.50,129.30 174.00,129.96 174.50,130.58 175.00,131.17 175.50,131.73 176.00,132.24 176.50,132.73 177.00,133.17 177.50,133.59 178.00,133.97 178.50,134.32 179.00,134.64 179.50,134.93 180.00,135.19 180.50,135.43 181.00,135.65 181.50,135.84 182.00,136.01 182.50,136.16 183.00,136.30 183.50,136.42 184.00,136.53 184.50,136.62 185.00,136.71 185.50,136.78 186.00,136.84 186.50,136.89 187.00,136.94 187.50,136.98 188.00,137.02 188.50,137.04" fill="none" stroke="#f01c1c" stroke-width="1.2" stroke-linejoin="round" stroke-dasharray="4.2,2.6"/>
<polyline points="18.20,149.38 19.45,150.05 19.50,151.52 20.70,158.37 21.10,159.10 21.95,160.40 23.20,159.91 24.45,160.52 25.50,159.12 26.95,160.96 28.20,161.28 29.45,162.66 30.70,161.99 31.95,162.46 32.50,161.02 33.20,163.77 34.45,160.08 35.70,162.09 36.95,160.57 38.20,159.75 39.45,159.55 40.70,159.15 41.30,159.80 41.95,159.06 43.20,159.64 44.45,156.34 45.70,157.11 46.95,155.73 48.20,156.37 48.30,154.02 49.45,155.84 50.70,156.74 51.95,155.84 53.20,158.25 54.45,158.07 55.70,159.18 56.95,159.59 58.20,158.51 58.80,158.87 59.45,159.10 60.70,159.39 61.95,159.00 63.20,157.30 64.45,156.92 65.70,156.30 65.80,156.44 66.95,155.28 68.20,153.81 69.45,153.99 70.70,150.40 71.95,150.95 73.20,151.92 74.45,151.18 75.70,152.03 76.30,152.51 76.95,153.29 78.20,151.96 79.45,154.42 80.70,153.38 81.60,154.03 83.20,155.85 84.45,156.70 85.70,158.02 86.95,158.32 88.20,159.16 88.60,159.75 89.45,158.86 90.70,160.82 91.95,159.46 93.20,159.29 94.45,162.13 95.70,160.61 96.95,160.00 98.20,162.61 99.10,161.04 100.70,162.54 101.95,161.35 103.20,162.12 104.45,161.29 105.70,161.42 106.95,162.47 108.20,163.49 109.45,164.50 109.60,165.82 110.70,162.99 111.95,164.50 113.20,163.11 114.45,163.36 115.70,162.20 116.95,162.10 118.20,162.55 119.45,162.11 120.10,163.00 120.70,161.97 121.95,161.85 122.00,161.54 123.20,161.66 124.45,162.03 125.70,162.01 125.90,161.89 126.95,161.10 127.80,160.47 129.45,161.85 130.70,162.59 131.95,167.41 132.20,168.50 133.20,163.27 134.10,159.13 135.60,165.95 136.95,158.39 137.50,154.72 138.20,154.22 139.45,153.39 139.50,153.20 140.70,154.08 141.40,154.99 141.95,158.49 142.60,162.67 143.20,158.03 144.30,148.38 145.70,145.31 146.30,142.94 146.95,142.37 148.20,141.88 149.20,140.85 150.70,137.85 151.10,137.42 151.95,137.46 152.50,137.58 153.20,137.56 154.45,138.74 155.70,140.21 156.95,140.96 158.20,142.21 158.60,142.51 159.45,143.20 160.70,145.19 161.95,146.47 163.20,149.19 164.40,151.56 165.70,153.32 166.95,156.63 168.20,159.05 168.80,159.88 169.45,160.32 170.70,161.17 171.95,161.65 173.20,162.54 174.45,163.54 175.40,164.69 176.95,164.69 178.20,163.37 179.45,164.50 180.70,163.12 181.95,163.49 183.20,163.81 183.40,163.48 184.45,163.38 185.70,163.67 186.95,163.00 188.20,162.90 189.45,163.23 190.70,164.13 191.95,163.27 193.20,164.83 194.45,163.47 195.70,160.92 196.95,162.91 198.20,164.56 199.45,163.22 200.70,162.84 201.95,162.48 203.20,164.20 204.45,163.92 205.70,163.63 206.95,163.42 208.20,164.20 209.45,163.68 210.70,162.04 211.95,163.60 213.20,163.10 214.45,162.86 215.70,163.53 216.95,162.92 218.20,160.55 219.45,164.09 220.70,163.66 221.95,162.71 222.50,162.50" fill="none" stroke="#000" stroke-width="1.05" stroke-linejoin="round"/>
<polyline points="125.00,166.88 125.50,166.82 126.00,166.76 126.50,166.68 127.00,166.60 127.50,166.50 128.00,166.39 128.50,166.26 129.00,166.12 129.50,165.96 130.00,165.78 130.50,165.59 131.00,165.37 131.50,165.12 132.00,164.85 132.50,164.55 133.00,164.23 133.50,163.87 134.00,163.48 134.50,163.06 135.00,162.61 135.50,162.12 136.00,161.59 136.50,161.03 137.00,160.44 137.50,159.81 138.00,159.15 138.50,158.45 139.00,157.72 139.50,156.96 140.00,156.18 140.50,155.37 141.00,154.53 141.50,153.68 142.00,152.82 142.50,151.95 143.00,151.07 143.50,150.20 144.00,149.33 144.50,148.47 145.00,147.64 145.50,146.82 146.00,146.04 146.50,145.29 147.00,144.58 147.50,143.93 148.00,143.32 148.50,142.78 149.00,142.29 149.50,141.87 150.00,141.53 150.50,141.25 151.00,141.06 151.50,140.94 152.00,140.90 152.50,140.94 153.00,141.06 153.50,141.25 154.00,141.53 154.50,141.87 155.00,142.29 155.50,142.78 156.00,143.32 156.50,143.93 157.00,144.58 157.50,145.29 158.00,146.04 158.50,146.82 159.00,147.64 159.50,148.47 160.00,149.33 160.50,150.20 161.00,151.07 161.50,151.95 162.00,152.82 162.50,153.68 163.00,154.53 163.50,155.37 164.00,156.18 164.50,156.96 165.00,157.72 165.50,158.45 166.00,159.15 166.50,159.81 167.00,160.44 167.50,161.03 168.00,161.59 168.50,162.12 169.00,162.61 169.50,163.06 170.00,163.48 170.50,163.87 171.00,164.23 171.50,164.55 172.00,164.85 172.50,165.12 173.00,165.37 173.50,165.59 174.00,165.78 174.50,165.96 175.00,166.12 175.50,166.26 176.00,166.39 176.50,166.50 177.00,166.60 177.50,166.68 178.00,166.76 178.50,166.82 179.00,166.88 179.50,166.93 180.00,166.97 180.50,167.00 181.00,167.04 181.50,167.06 182.00,167.09 182.50,167.10" fill="none" stroke="#f01c1c" stroke-width="1.2" stroke-linejoin="round" stroke-dasharray="4.2,2.6"/>
<polyline points="18.20,181.61 19.45,181.44 19.50,182.39 20.70,192.56 21.10,196.38 21.95,195.49 23.20,194.92 24.45,194.72 25.50,196.05 26.95,196.57 28.20,195.19 29.45,193.68 30.70,193.72 31.95,195.72 33.20,194.31 34.45,192.43 35.70,193.65 36.95,192.51 38.20,192.77 39.45,192.68 40.70,192.28 41.30,193.28 41.95,192.66 43.20,192.05 44.45,192.75 45.70,192.95 46.95,190.65 48.20,191.69 48.30,191.05 49.45,189.90 50.70,186.93 51.95,186.06 52.10,185.77 53.20,187.94 54.45,190.03 55.30,192.46 56.95,191.46 58.20,190.94 59.45,192.00 60.70,190.55 61.95,192.22 63.20,191.53 64.10,188.97 65.70,189.87 66.95,187.85 68.20,188.00 69.45,187.17 70.70,184.58 71.95,186.76 73.20,187.40 74.45,189.11 75.70,187.92 76.95,190.23 78.20,189.31 79.45,190.63 79.80,190.37 80.70,192.52 81.95,191.99 83.20,193.83 84.45,192.52 85.70,192.93 86.95,193.15 88.20,192.14 89.45,192.83 90.70,194.29 91.95,193.01 93.20,193.75 93.80,193.68 94.45,194.38 95.70,193.83 96.95,194.30 98.20,194.93 99.45,195.10 100.70,194.55 101.95,196.37 103.20,194.76 104.45,195.13 105.00,195.19 105.70,197.34 106.95,196.56 108.20,196.41 109.45,196.63 110.70,198.35 111.95,197.44 113.20,197.62 113.80,199.43 114.45,197.54 115.70,197.66 116.95,197.30 118.20,196.29 119.45,196.00 120.70,196.57 121.95,194.33 122.50,193.41 123.20,192.71 124.45,193.75 125.70,193.25 126.95,193.41 128.20,192.41 129.45,192.03 130.70,191.45 131.30,191.45 131.95,190.01 133.00,186.27 134.45,183.98 135.70,183.20 136.00,181.21 136.95,178.67 138.20,177.92 138.30,177.15 139.45,180.34 140.70,185.21 141.80,188.41 143.20,182.33 144.45,177.15 145.30,173.47 146.95,174.89 148.20,176.06 149.45,176.19 150.60,177.18 151.95,179.84 153.20,180.37 154.45,182.89 155.70,184.52 156.95,186.07 157.60,187.06 158.20,188.10 159.45,189.57 160.70,190.20 161.95,191.98 162.80,193.42 164.45,191.91 165.40,191.75 166.95,194.44 168.10,196.72 169.45,198.21 170.70,197.47 171.95,197.35 173.20,198.15 174.45,197.05 175.10,197.71 175.70,198.63 176.95,198.37 178.20,199.04 179.45,197.59 180.70,196.19 181.95,199.02 183.20,198.16 184.45,196.18 185.70,198.16 186.95,196.88 188.20,195.16 189.45,196.24 190.70,196.04 191.95,197.74 192.60,195.62 193.20,196.06 194.45,196.01 195.70,195.88 196.95,195.38 198.20,196.32 199.45,197.02 200.70,196.60 201.95,195.22 203.20,194.99 204.45,196.05 205.70,195.29 206.95,195.32 208.20,194.38 209.45,197.48 210.70,196.55 211.95,194.88 213.20,196.47 214.45,196.80 215.70,193.54 216.95,195.09 218.20,195.19 219.45,196.05 220.70,195.35 221.95,195.22 222.50,195.35" fill="none" stroke="#000" stroke-width="1.05" stroke-linejoin="round"/>
<polyline points="115.50,200.98 116.00,200.94 116.50,200.90 117.00,200.85 117.50,200.79 118.00,200.73 118.50,200.66 119.00,200.57 119.50,200.48 120.00,200.37 120.50,200.25 121.00,200.12 121.50,199.97 122.00,199.81 122.50,199.63 123.00,199.43 123.50,199.21 124.00,198.97 124.50,198.70 125.00,198.42 125.50,198.10 126.00,197.77 126.50,197.40 127.00,197.01 127.50,196.60 128.00,196.15 128.50,195.68 129.00,195.18 129.50,194.65 130.00,194.10 130.50,193.52 131.00,192.92 131.50,192.29 132.00,191.64 132.50,190.98 133.00,190.30 133.50,189.60 134.00,188.90 134.50,188.19 135.00,187.47 135.50,186.76 136.00,186.05 136.50,185.35 137.00,184.66 137.50,183.99 138.00,183.35 138.50,182.73 139.00,182.14 139.50,181.59 140.00,181.08 140.50,180.61 141.00,180.19 141.50,179.82 142.00,179.50 142.50,179.24 143.00,179.04 143.50,178.90 144.00,178.82 144.50,178.80 145.00,178.84 145.50,178.95 146.00,179.12 146.50,179.34 147.00,179.62 147.50,179.96 148.00,180.35 148.50,180.79 149.00,181.28 149.50,181.81 150.00,182.37 150.50,182.97 151.00,183.60 151.50,184.26 152.00,184.93 152.50,185.63 153.00,186.33 153.50,187.04 154.00,187.76 154.50,188.47 155.00,189.18 155.50,189.88 156.00,190.57 156.50,191.25 157.00,191.90 157.50,192.54 158.00,193.16 158.50,193.75 159.00,194.32 159.50,194.87 160.00,195.38 160.50,195.87 161.00,196.33 161.50,196.77 162.00,197.17 162.50,197.55 163.00,197.91 163.50,198.23 164.00,198.53 164.50,198.81 165.00,199.07 165.50,199.30 166.00,199.51 166.50,199.70 167.00,199.88 167.50,200.03 168.00,200.18 168.50,200.30 169.00,200.42 169.50,200.52 170.00,200.61 170.50,200.69 171.00,200.76 171.50,200.82 172.00,200.87 172.50,200.92 173.00,200.96" fill="none" stroke="#f01c1c" stroke-width="1.2" stroke-linejoin="round" stroke-dasharray="4.2,2.6"/>
<polyline points="18.20,217.99 19.45,219.03 19.50,214.55 20.70,226.66 21.10,231.05 21.95,231.25 23.20,230.30 24.45,230.95 25.50,229.50 26.95,229.77 28.20,229.39 29.45,228.08 30.70,228.32 31.95,229.59 33.20,228.60 34.45,230.52 35.70,230.54 36.95,231.07 38.20,229.17 39.45,230.64 40.70,228.26 41.30,228.35 41.95,229.22 43.20,229.30 44.45,227.22 45.70,226.95 46.95,228.99 48.20,227.59 49.45,229.62 50.70,228.64 51.95,228.42 53.20,228.19 54.45,228.78 55.70,227.56 56.95,228.72 58.20,226.92 58.80,227.17 59.45,226.41 60.70,227.20 61.95,226.07 63.20,224.60 64.10,227.18 65.70,224.45 66.95,224.49 68.20,224.81 69.45,226.00 70.70,223.81 71.10,224.63 71.95,224.85 73.20,224.48 74.45,228.07 74.60,228.46 75.70,227.38 76.95,227.86 78.20,226.58 79.00,226.72 79.45,227.89 80.70,228.95 81.95,227.81 83.20,228.60 84.45,229.31 85.10,228.40 85.70,228.95 86.95,229.98 88.20,227.31 89.45,229.50 90.70,226.89 91.95,229.41 93.20,229.30 94.45,228.64 95.70,228.21 96.95,229.39 98.20,229.15 99.45,229.80 100.70,228.87 101.95,230.50 102.60,228.92 103.20,229.80 104.45,229.96 105.70,231.93 106.95,229.30 108.20,230.67 109.45,232.57 110.70,230.91 111.95,230.55 113.20,232.38 113.80,231.90 114.45,232.56 115.70,229.75 116.95,229.92 118.20,229.43 119.45,228.83 120.70,225.62 121.95,227.27 123.20,223.87 124.45,222.25 125.70,221.84 126.00,222.76 126.95,222.14 128.20,222.77 129.45,222.67 130.70,222.33 131.95,221.57 133.00,223.58 134.45,221.76 135.70,224.30 136.95,221.93 138.20,217.51 139.20,213.25 140.70,221.67 141.95,227.22 142.70,228.76 143.20,231.38 144.45,229.80 145.70,227.70 146.95,223.85 147.00,224.45 148.20,223.73 149.45,225.72 150.70,225.42 151.95,227.17 153.20,227.00 154.10,228.87 155.70,228.45 156.95,228.72 158.20,225.61 159.45,225.22 160.70,227.37 161.10,226.30 161.95,222.66 163.00,216.59 164.30,210.85 165.60,210.27 166.95,212.87 167.20,213.34 168.20,211.31 168.80,211.11 169.45,210.82 170.20,211.33 170.70,212.83 171.50,215.88 171.95,218.20 172.40,221.03 173.20,223.55 174.45,226.75 175.10,229.01 175.70,228.12 176.95,225.40 178.20,221.75 179.45,222.46 179.50,218.88 180.70,223.23 181.95,229.88 182.10,227.11 183.20,228.78 184.45,228.89 185.70,228.20 186.95,227.15 188.20,227.23 189.45,229.05 190.70,229.71 191.95,227.25 192.60,229.76 193.20,228.97 194.45,230.67 195.70,230.02 196.95,229.10 198.20,229.59 199.45,230.17 200.70,231.62 201.95,233.48 203.10,230.78 204.45,230.24 205.70,230.56 206.95,229.59 208.20,230.01 209.45,229.48 210.70,228.81 211.95,227.70 213.20,228.42 214.45,228.92 215.70,227.78 216.95,229.00 218.20,228.13 219.45,226.74 220.70,228.41 221.95,225.16 222.50,227.42" fill="none" stroke="#000" stroke-width="1.05" stroke-linejoin="round"/>
<polyline points="115.50,232.31 116.00,232.20 116.50,232.07 117.00,231.93 117.50,231.78 118.00,231.61 118.50,231.43 119.00,231.23 119.50,231.02 120.00,230.80 120.50,230.56 121.00,230.30 121.50,230.03 122.00,229.75 122.50,229.45 123.00,229.14 123.50,228.81 124.00,228.47 124.50,228.13 125.00,227.77 125.50,227.41 126.00,227.05 126.50,226.68 127.00,226.31 127.50,225.94 128.00,225.57 128.50,225.21 129.00,224.86 129.50,224.52 130.00,224.20 130.50,223.89 131.00,223.60 131.50,223.33 132.00,223.09 132.50,222.87 133.00,222.68 133.50,222.52 134.00,222.39 134.50,222.30 135.00,222.23 135.50,222.20 136.00,222.21 136.50,222.24 137.00,222.31 137.50,222.42 138.00,222.55 138.50,222.72 139.00,222.92 139.50,223.14 140.00,223.39 140.50,223.66 141.00,223.95 141.50,224.26 142.00,224.59 142.50,224.93 143.00,225.28 143.50,225.64 144.00,226.01 144.50,226.38 145.00,226.75 145.50,227.12 146.00,227.49 146.50,227.85 147.00,228.20 147.50,228.54 148.00,228.88 148.50,229.20 149.00,229.51 149.50,229.80 150.00,230.09 150.50,230.35 151.00,230.61 151.50,230.84 152.00,231.07 152.50,231.27 153.00,231.47 153.50,231.64 154.00,231.81 154.50,231.96 155.00,232.10 155.50,232.22 156.00,232.34 156.50,232.44 157.00,232.53 157.50,232.61 158.00,232.69 158.50,232.76 159.00,232.81 159.50,232.87 160.00,232.91 160.50,232.95 161.00,232.99 161.50,233.02 162.00,233.05 162.50,233.07" fill="none" stroke="#f01c1c" stroke-width="1.2" stroke-linejoin="round" stroke-dasharray="4.2,2.6"/>
<polyline points="18.20,265.10 19.50,266.19 20.80,265.79 22.00,265.28 23.40,265.32 24.70,263.75 26.00,264.90 27.30,266.44 28.60,262.66 29.00,262.24 29.90,263.82 31.20,263.14 32.50,262.26 33.80,260.03 35.10,261.12 36.40,261.90 37.70,257.96 39.00,259.02 40.30,256.10 41.30,256.79 42.90,255.19 44.20,257.40 45.50,255.09 46.80,257.19 48.10,256.45 49.40,255.33 50.00,251.10 50.70,254.27 52.00,254.73 53.30,254.62 54.60,251.42 55.90,252.84 57.20,251.60 58.50,251.51 58.80,254.61 59.80,250.73 61.10,251.15 62.40,251.82 63.70,248.41 65.00,248.31 66.30,247.79 67.60,246.81 68.90,243.64 70.20,244.90 71.10,246.42 72.80,243.15 74.10,248.57 74.60,247.80 75.40,247.58 76.70,253.85 77.20,252.40 78.00,249.50 78.80,252.13 79.30,233.43 80.20,200.00 81.20,197.50 81.90,199.25 82.20,200.00 83.20,246.92 83.40,256.30 84.50,256.65 85.80,255.51 87.10,256.52 88.40,254.27 88.60,255.31 89.70,256.04 91.00,257.99 92.30,258.50 93.60,254.36 94.90,255.35 96.20,257.89 97.50,253.46 98.80,256.16 100.10,256.87 101.40,259.27 102.60,258.38 104.00,256.25 105.30,255.82 106.60,255.66 107.90,258.34 109.20,254.64 110.50,254.49 111.80,255.26 113.10,254.09 113.80,253.76 114.40,251.89 115.70,253.12 117.00,251.72 118.30,253.82 119.60,252.28 120.90,250.47 122.20,250.99 122.50,249.12 123.50,250.37 124.80,247.10 126.10,246.37 127.40,242.55 128.70,243.14 129.50,239.68 130.00,239.11 131.30,240.92 132.60,239.82 133.90,240.80 135.20,243.05 135.70,239.06 136.50,239.78 137.80,241.56 139.10,242.67 140.40,242.58 141.70,243.28 141.80,244.48 143.00,245.45 144.30,244.80 145.60,247.30 146.90,248.74 148.20,248.68 148.80,250.93 149.50,250.13 150.80,254.01 152.10,253.81 153.40,254.76 154.70,254.73 155.80,256.50 157.30,253.42 158.60,255.03 159.90,257.70 161.20,253.56 162.50,258.77 163.80,254.46 165.10,258.86 166.40,256.24 167.70,259.14 169.00,258.16 170.30,255.42 171.60,260.31 172.90,260.76 174.20,258.30 175.10,258.03 176.80,258.30 178.10,256.97 179.40,260.58 180.70,257.83 182.00,258.73 183.30,257.52 184.60,257.86 185.90,256.81 187.20,261.20 188.50,258.85 189.80,260.82 191.10,259.25 192.40,258.10 192.60,258.74 193.70,258.25 195.00,259.10 196.30,258.34 197.60,258.35 198.90,256.39 200.20,257.26 201.50,261.35 202.80,257.27 204.10,256.50 205.40,258.76 206.70,260.48 208.00,255.47 209.30,257.49 210.60,256.65 211.90,254.61 213.20,258.77 214.50,257.36 215.80,257.40 217.10,255.88 218.40,257.83 219.70,256.02 221.00,256.59 222.30,254.82 222.50,254.62" fill="none" stroke="#000" stroke-width="1.05" stroke-linejoin="round"/>
<polyline points="105.00,260.60 105.50,260.54 106.00,260.48 106.50,260.40 107.00,260.32 107.50,260.23 108.00,260.14 108.50,260.03 109.00,259.92 109.50,259.79 110.00,259.66 110.50,259.51 111.00,259.36 111.50,259.19 112.00,259.01 112.50,258.81 113.00,258.61 113.50,258.38 114.00,258.15 114.50,257.90 115.00,257.64 115.50,257.36 116.00,257.07 116.50,256.76 117.00,256.43 117.50,256.10 118.00,255.75 118.50,255.38 119.00,255.00 119.50,254.61 120.00,254.21 120.50,253.79 121.00,253.37 121.50,252.93 122.00,252.49 122.50,252.04 123.00,251.59 123.50,251.13 124.00,250.67 124.50,250.21 125.00,249.75 125.50,249.29 126.00,248.84 126.50,248.39 127.00,247.96 127.50,247.53 128.00,247.11 128.50,246.71 129.00,246.33 129.50,245.97 130.00,245.62 130.50,245.30 131.00,245.00 131.50,244.73 132.00,244.48 132.50,244.26 133.00,244.08 133.50,243.92 134.00,243.79 134.50,243.70 135.00,243.63 135.50,243.60 136.00,243.61 136.50,243.64 137.00,243.71 137.50,243.81 138.00,243.95 138.50,244.11 139.00,244.31 139.50,244.53 140.00,244.78 140.50,245.06 141.00,245.36 141.50,245.69 142.00,246.04 142.50,246.41 143.00,246.79 143.50,247.20 144.00,247.61 144.50,248.04 145.00,248.48 145.50,248.93 146.00,249.38 146.50,249.84 147.00,250.30 147.50,250.76 148.00,251.22 148.50,251.68 149.00,252.13 149.50,252.58 150.00,253.02 150.50,253.45 151.00,253.88 151.50,254.29 152.00,254.69 152.50,255.08 153.00,255.46 153.50,255.82 154.00,256.17 154.50,256.50 155.00,256.82 155.50,257.13 156.00,257.42 156.50,257.69 157.00,257.95 157.50,258.20 158.00,258.43 158.50,258.65 159.00,258.85 159.50,259.04 160.00,259.22 160.50,259.39 161.00,259.54 161.50,259.69" fill="none" stroke="#f01c1c" stroke-width="1.2" stroke-linejoin="round" stroke-dasharray="4.2,2.6"/>
</g>
<line x1="303.40" y1="137.60" x2="413.70" y2="18.60" stroke="#111" stroke-width="0.9" stroke-dasharray="3.2,2.2"/>
<line x1="303.40" y1="173.40" x2="412.90" y2="56.80" stroke="#111" stroke-width="0.9" stroke-dasharray="3.2,2.2"/>
<polyline points="384.50,77.00 400.00,58.80 413.20,40.60" fill="none" stroke="#fde9a6" stroke-width="1.8" stroke-linejoin="round"/>
<defs><linearGradient id="ga1" gradientUnits="userSpaceOnUse" x1="315.8" y1="136" x2="412.5" y2="55.8"><stop offset="0" stop-color="#f7ab3c"/><stop offset="0.5" stop-color="#fbc55c"/><stop offset="1" stop-color="#fbc560"/></linearGradient></defs>
<polyline points="315.80,136.00 331.60,122.60 348.60,108.00 365.60,92.20 380.20,78.90 397.20,66.70 412.50,55.80" fill="none" stroke="url(#ga1)" stroke-width="2.0" stroke-linejoin="round" stroke-linecap="butt"/>
<defs><linearGradient id="ga2" gradientUnits="userSpaceOnUse" x1="307.3" y1="178.4" x2="412.5" y2="46.1"><stop offset="0" stop-color="#fff4b8"/><stop offset="0.3" stop-color="#fee391"/><stop offset="0.5" stop-color="#fdc25a"/><stop offset="0.62" stop-color="#f98a2a"/><stop offset="0.72" stop-color="#e4441e"/><stop offset="0.82" stop-color="#a31515"/><stop offset="1" stop-color="#7a0a0a"/></linearGradient></defs>
<polyline points="307.30,178.40 331.60,144.40 348.60,120.20 365.60,95.90 380.20,78.90 397.20,59.40 412.50,46.10" fill="none" stroke="url(#ga2)" stroke-width="2.0" stroke-linejoin="round" stroke-linecap="butt"/>
<polyline points="303.60,250.00 307.00,248.30" fill="none" stroke="#fde9a6" stroke-width="2.0" stroke-linejoin="round"/>
<defs><linearGradient id="ga3" gradientUnits="userSpaceOnUse" x1="303.6" y1="254.1" x2="406.7" y2="204.5"><stop offset="0" stop-color="#7a0a0a"/><stop offset="0.22" stop-color="#8f0f0f"/><stop offset="0.38" stop-color="#d3361b"/><stop offset="0.5" stop-color="#f7902f"/><stop offset="0.62" stop-color="#fcc65e"/><stop offset="0.8" stop-color="#fee8a0"/><stop offset="1" stop-color="#fff3bd"/></linearGradient></defs>
<polyline points="303.60,254.10 336.00,237.40 370.00,219.80 388.00,212.00 406.70,204.50" fill="none" stroke="url(#ga3)" stroke-width="2.1" stroke-linejoin="round" stroke-linecap="butt"/>
<defs><linearGradient id="ga4" gradientUnits="userSpaceOnUse" x1="303.6" y1="259.2" x2="413.3" y2="208.2"><stop offset="0" stop-color="#fde49a"/><stop offset="0.3" stop-color="#fcd47a"/><stop offset="1" stop-color="#fbc560"/></linearGradient></defs>
<polyline points="303.60,259.20 336.00,243.00 370.00,226.40 392.00,217.00 413.30,208.20" fill="none" stroke="url(#ga4)" stroke-width="2.1" stroke-linejoin="round" stroke-linecap="butt"/>
<circle cx="304.5" cy="145.5" r="2.7" fill="#fff" stroke="#666" stroke-width="0.9"/>
<circle cx="308.5" cy="143.2" r="2.7" fill="#fff" stroke="#666" stroke-width="0.9"/>
<circle cx="311.3" cy="140.4" r="2.7" fill="#fff" stroke="#666" stroke-width="0.9"/>
<circle cx="314.7" cy="138.7" r="2.7" fill="#fff" stroke="#666" stroke-width="0.9"/>
<rect x="312.0" y="127.3" width="5.4" height="5.4" fill="#fff" stroke="#888" stroke-width="0.9"/>
<circle cx="413" cy="29.1" r="3.0" fill="#000"/>
<rect x="409.9" y="68.4" width="6.2" height="6.2" fill="#000"/>
<polygon points="301.42,235.40 301.42,240.60 306.10,238.00" fill="#fff" stroke="#555" stroke-width="0.8"/>
<polygon points="304.92,235.40 304.92,240.60 309.60,238.00" fill="#fff" stroke="#555" stroke-width="0.8"/>
<polygon points="308.42,235.40 308.42,240.60 313.10,238.00" fill="#fff" stroke="#555" stroke-width="0.8"/>
<polygon points="311.92,235.40 311.92,240.60 316.60,238.00" fill="#fff" stroke="#555" stroke-width="0.8"/>
<polygon points="304.57,259.65 306.34,264.53 301.06,263.69" fill="#fff" stroke="#555" stroke-width="0.8"/>
<polygon points="308.27,258.65 310.04,263.53 304.76,262.69" fill="#fff" stroke="#555" stroke-width="0.8"/>
<polygon points="311.87,257.65 313.64,262.53 308.36,261.69" fill="#fff" stroke="#555" stroke-width="0.8"/>
<polygon points="315.47,256.85 317.24,261.73 311.96,260.89" fill="#fff" stroke="#555" stroke-width="0.8"/>
<line x1="298.00" y1="138.00" x2="298.00" y2="146.00" stroke="#000" stroke-width="1.6"/>
<polygon points="294.40,145.00 301.60,145.00 298.00,150.50" fill="#000"/>
<line x1="298.00" y1="175.00" x2="298.00" y2="182.50" stroke="#000" stroke-width="1.6"/>
<polygon points="294.40,181.50 301.60,181.50 298.00,187.00" fill="#000"/>
<line x1="421.20" y1="17.00" x2="421.20" y2="50.50" stroke="#000" stroke-width="1.7"/>
<polygon points="417.50,49.50 424.90,49.50 421.20,54.50" fill="#000"/>
<polygon points="272.28,8.95 272.28,14.75 277.50,11.85" fill="#fff" stroke="#888" stroke-width="0.9"/>
<polygon points="276.92,22.50 276.92,28.30 271.70,25.40" fill="#fff" stroke="#888" stroke-width="0.9"/>
<rect x="271.9" y="35.800000000000004" width="5.6" height="5.6" fill="#fff" stroke="#999" stroke-width="0.9"/>
<circle cx="274.6" cy="52.0" r="2.7" fill="#fff" stroke="#888" stroke-width="0.9"/>
<circle cx="274.6" cy="65.6" r="3.1" fill="#000"/>
<rect x="271.5" y="76.5" width="6.2" height="6.2" fill="#000"/>
<rect x="385.4" y="120.1" width="42.3" height="63.4" rx="5.5" ry="5.5" fill="#d5d5d5" stroke="#555" stroke-width="0.9"/>
<circle cx="407.8" cy="159.3" r="14.0" fill="#fff" stroke="#222" stroke-width="0.9"/>
<line x1="398.20" y1="159.50" x2="417.50" y2="159.50" stroke="#000" stroke-width="1.0"/>
<circle cx="398.2" cy="159.5" r="2.1" fill="#000"/>
<circle cx="417.5" cy="159.5" r="2.1" fill="#000"/>
<circle cx="407.8" cy="159.5" r="1.9" fill="#fff" stroke="#000" stroke-width="0.9"/>
<line x1="404.60" y1="152.40" x2="409.20" y2="152.40" stroke="#333" stroke-width="0.7"/>
<polygon points="403.60,152.40 405.80,151.10 405.80,153.70" fill="#333"/>
<polygon points="410.20,152.40 408.00,151.10 408.00,153.70" fill="#333"/>
<line x1="404.40" y1="166.20" x2="409.00" y2="166.20" stroke="#333" stroke-width="0.7"/>
<polygon points="403.40,166.20 405.60,164.90 405.60,167.50" fill="#333"/>
<polygon points="410.00,166.20 407.80,164.90 407.80,167.50" fill="#333"/>
<path d="M396.8,145.2 q-2.0,2.4 0.2,4.4 l2.8,0" fill="none" stroke="#222" stroke-width="0.8"/>
<path d="M398.0,149.5 l1.6,-1.2 m-1.6,1.2 l1.6,1.2" fill="none" stroke="#222" stroke-width="0.8"/>
<line x1="495.80" y1="257.00" x2="646.30" y2="180.50" stroke="#ee2222" stroke-width="1.3"/>
<line x1="490.50" y1="256.20" x2="649.50" y2="182.30" stroke="#1a1aee" stroke-width="1.15" stroke-dasharray="3.6,1.6"/>
<polyline points="484.20,256.76 484.40,256.74 484.60,256.72 484.80,256.70 485.00,256.67 485.20,256.65 485.40,256.62 485.60,256.59 485.80,256.56 486.00,256.52 486.20,256.48 486.40,256.44 486.60,256.39 486.80,256.33 487.00,256.27 487.20,256.20 487.40,256.12 487.60,256.03 487.80,255.93 488.00,255.81 488.20,255.68 488.40,255.51 488.60,255.32 488.80,255.08 489.00,254.80 489.20,254.44 489.40,253.99 489.60,253.42 489.80,252.66 490.00,251.66 490.20,250.31 490.40,248.47 490.60,246.00 490.80,242.87 491.00,239.51 491.20,237.11 491.40,237.06 491.60,239.34 491.80,242.58 492.00,245.59 492.20,247.93 492.40,249.64 492.60,250.86 492.80,251.72 493.00,252.31 493.20,252.71 493.40,252.97 493.60,253.12 493.80,253.17 494.00,253.14 494.20,253.03 494.40,252.84 494.60,252.58 494.80,252.22 495.00,251.76 495.20,251.18 495.40,250.44 495.60,249.50 495.80,248.31 496.00,246.78 496.20,244.79 496.40,242.17 496.60,238.69 496.80,234.01 497.00,227.74 497.20,219.51 497.40,209.45 497.60,199.06 497.80,191.96 498.00,191.97 498.20,199.11 498.40,209.52 498.60,219.62 498.80,227.88 499.00,234.18 499.20,238.90 499.40,242.42 499.60,245.08 499.80,247.11 500.00,248.69 500.20,249.94 500.40,250.94 500.60,251.75 500.80,252.41 501.00,252.96 501.20,253.43 501.40,253.82 501.60,254.15 501.80,254.44 502.00,254.68 502.20,254.90 502.40,255.09 502.60,255.26 502.80,255.40 503.00,255.54 503.20,255.65 503.40,255.76 503.60,255.85 503.80,255.94 504.00,256.02 504.20,256.09 504.40,256.15 504.60,256.21 504.80,256.26 505.00,256.31 505.20,256.36 505.40,256.40 505.60,256.44 505.80,256.48 506.00,256.51 506.20,256.54 506.40,256.57" fill="none" stroke="#000" stroke-width="1.0" stroke-linejoin="round"/>
<polyline points="526.00,235.69 526.20,235.68 526.40,235.67 526.60,235.66 526.80,235.65 527.00,235.63 527.20,235.62 527.40,235.61 527.60,235.59 527.80,235.58 528.00,235.56 528.20,235.55 528.40,235.53 528.60,235.51 528.80,235.49 529.00,235.47 529.20,235.45 529.40,235.42 529.60,235.40 529.80,235.37 530.00,235.34 530.20,235.31 530.40,235.27 530.60,235.24 530.80,235.20 531.00,235.15 531.20,235.11 531.40,235.05 531.60,235.00 531.80,234.93 532.00,234.87 532.20,234.79 532.40,234.70 532.60,234.61 532.80,234.50 533.00,234.38 533.20,234.24 533.40,234.08 533.60,233.89 533.80,233.68 534.00,233.42 534.20,233.11 534.40,232.74 534.60,232.28 534.80,231.70 535.00,230.95 535.20,229.96 535.40,228.62 535.60,226.75 535.80,224.07 536.00,220.18 536.20,214.62 536.40,207.65 536.60,201.82 536.80,201.48 537.00,206.61 537.20,212.85 537.40,217.60 537.60,220.61 537.80,222.26 538.00,222.92 538.20,222.79 538.40,221.94 538.60,220.34 538.80,217.85 539.00,214.18 539.20,208.89 539.40,201.32 539.60,190.69 539.80,176.57 540.00,160.63 540.20,148.85 540.40,148.94 540.60,160.92 540.80,177.06 541.00,191.39 541.20,202.27 541.40,210.12 541.60,215.75 541.80,219.83 542.00,222.84 542.20,225.11 542.40,226.85 542.60,228.21 542.80,229.30 543.00,230.17 543.20,230.88 543.40,231.48 543.60,231.97 543.80,232.39 544.00,232.74 544.20,233.05 544.40,233.31 544.60,233.54 544.80,233.75 545.00,233.92 545.20,234.08 545.40,234.22 545.60,234.35 545.80,234.46 546.00,234.56 546.20,234.65 546.40,234.73 546.60,234.81 546.80,234.88 547.00,234.94 547.20,235.00 547.40,235.05 547.60,235.10 547.80,235.15 548.00,235.19 548.20,235.23 548.40,235.26 548.60,235.30 548.80,235.33 549.00,235.36 549.20,235.39 549.40,235.41 549.60,235.44 549.80,235.46 550.00,235.48 550.20,235.50 550.40,235.52 550.60,235.54 550.80,235.55 551.00,235.57 551.20,235.58 551.40,235.60 551.60,235.61 551.80,235.62 552.00,235.64 552.20,235.65 552.40,235.66 552.60,235.67" fill="none" stroke="#000" stroke-width="1.0" stroke-linejoin="round"/>
<polyline points="570.50,214.82 570.70,214.80 570.90,214.77 571.10,214.75 571.30,214.72 571.50,214.70 571.70,214.67 571.90,214.64 572.10,214.60 572.30,214.57 572.50,214.53 572.70,214.49 572.90,214.45 573.10,214.40 573.30,214.35 573.50,214.30 573.70,214.24 573.90,214.18 574.10,214.12 574.30,214.04 574.50,213.96 574.70,213.88 574.90,213.78 575.10,213.68 575.30,213.57 575.50,213.44 575.70,213.30 575.90,213.15 576.10,212.98 576.30,212.78 576.50,212.56 576.70,212.32 576.90,212.04 577.10,211.71 577.30,211.34 577.50,210.91 577.70,210.41 577.90,209.81 578.10,209.10 578.30,208.24 578.50,207.19 578.70,205.89 578.90,204.25 579.10,202.16 579.30,199.43 579.50,195.80 579.70,190.88 579.90,184.09 580.10,174.66 580.30,161.88 580.50,146.01 580.70,130.57 580.90,123.11 581.10,128.35 581.30,141.39 581.50,154.44 581.70,163.71 581.90,168.48 582.10,168.88 582.30,164.86 582.50,156.35 582.70,144.75 582.90,135.68 583.10,137.16 583.30,149.30 583.50,164.35 583.70,177.00 583.90,186.28 584.10,192.84 584.30,197.50 584.50,200.88 584.70,203.39 584.90,205.30 585.10,206.78 585.30,207.95 585.50,208.89 585.70,209.66 585.90,210.30 586.10,210.84 586.30,211.29 586.50,211.68 586.70,212.01 586.90,212.30 587.10,212.55 587.30,212.77 587.50,212.97 587.70,213.15 587.90,213.30 588.10,213.44 588.30,213.57 588.50,213.68 588.70,213.79 588.90,213.88 589.10,213.97 589.30,214.05 589.50,214.12 589.70,214.19 589.90,214.25 590.10,214.31 590.30,214.36 590.50,214.41 590.70,214.45 590.90,214.50 591.10,214.54 591.30,214.57 591.50,214.61 591.70,214.64 591.90,214.67 592.10,214.70 592.30,214.73 592.50,214.75 592.70,214.78 592.90,214.80 593.10,214.82 593.30,214.84 593.50,214.86 593.70,214.88" fill="none" stroke="#000" stroke-width="1.0" stroke-linejoin="round"/>
<polyline points="620.70,189.57 620.90,189.55 621.10,189.52 621.30,189.49 621.50,189.47 621.70,189.44 621.90,189.40 622.10,189.37 622.30,189.33 622.50,189.30 622.70,189.26 622.90,189.21 623.10,189.17 623.30,189.12 623.50,189.07 623.70,189.01 623.90,188.95 624.10,188.89 624.30,188.82 624.50,188.75 624.70,188.67 624.90,188.58 625.10,188.49 625.30,188.39 625.50,188.29 625.70,188.17 625.90,188.04 626.10,187.90 626.30,187.75 626.50,187.58 626.70,187.40 626.90,187.19 627.10,186.96 627.30,186.71 627.50,186.43 627.70,186.11 627.90,185.75 628.10,185.34 628.30,184.87 628.50,184.33 628.70,183.71 628.90,182.98 629.10,182.13 629.30,181.12 629.50,179.91 629.70,178.45 629.90,176.67 630.10,174.45 630.30,171.66 630.50,168.10 630.70,163.45 630.90,157.27 631.10,148.91 631.30,137.36 631.50,121.25 631.70,98.90 631.90,69.47 632.10,36.32 632.30,11.75 632.50,11.63 632.70,35.95 632.90,68.85 633.10,98.01 633.30,120.05 633.50,135.83 633.70,146.98 633.90,154.88 634.10,160.49 634.30,164.44 634.50,167.12 634.70,168.75 634.90,169.42 635.10,169.07 635.30,167.49 635.50,164.29 635.70,158.79 635.90,150.29 636.10,139.25 636.30,130.16 636.50,130.69 636.70,140.83 636.90,152.97 637.10,162.65 637.30,169.45 637.50,174.11 637.70,177.36 637.90,179.69 638.10,181.41 638.30,182.71 638.50,183.72 638.70,184.52 638.90,185.17 639.10,185.71 639.30,186.16 639.50,186.54 639.70,186.86 639.90,187.14 640.10,187.38 640.30,187.60 640.50,187.78 640.70,187.95 640.90,188.10 641.10,188.24 641.30,188.36 641.50,188.47 641.70,188.57 641.90,188.66 642.10,188.75 642.30,188.83 642.50,188.90 642.70,188.96 642.90,189.03 643.10,189.08 643.30,189.14 643.50,189.19 643.70,189.23 643.90,189.28 644.10,189.32 644.30,189.35 644.50,189.39 644.70,189.42 644.90,189.46 645.10,189.49 645.30,189.52 645.50,189.54 645.70,189.57 645.90,189.59" fill="none" stroke="#000" stroke-width="1.0" stroke-linejoin="round"/>
<line x1="568.10" y1="99.40" x2="576.50" y2="99.40" stroke="#000" stroke-width="1.4"/>
<polygon points="575.70,102.40 575.70,96.40 580.20,99.40" fill="#000"/>
<line x1="596.00" y1="99.40" x2="587.60" y2="99.40" stroke="#000" stroke-width="1.4"/>
<polygon points="588.40,96.40 588.40,102.40 583.90,99.40" fill="#000"/>
<line x1="524.60" y1="194.20" x2="524.60" y2="179.00" stroke="#000" stroke-width="1.2"/>
<line x1="524.60" y1="194.20" x2="532.50" y2="194.20" stroke="#000" stroke-width="1.2"/>
<line x1="524.60" y1="182.00" x2="524.60" y2="178.50" stroke="#000" stroke-width="1.2"/>
<polygon points="527.20,179.30 522.00,179.30 524.60,175.10" fill="#000"/>
<line x1="530.00" y1="194.20" x2="533.30" y2="194.20" stroke="#000" stroke-width="1.2"/>
<polygon points="532.50,196.80 532.50,191.60 536.70,194.20" fill="#000"/>
<line x1="496.10" y1="42.00" x2="516.30" y2="42.00" stroke="#f39a9a" stroke-width="1.7"/>
<line x1="496.60" y1="58.40" x2="515.60" y2="58.40" stroke="#1010ee" stroke-width="1.15" stroke-dasharray="3.6,1.5"/>
<polyline points="18.00,565.85 18.15,565.84 18.30,565.84 18.45,565.83 18.60,565.82 18.75,565.81 18.90,565.80 19.05,565.79 19.20,565.78 19.35,565.77 19.50,565.76 19.65,565.75 19.80,565.74 19.95,565.73 20.10,565.72 20.25,565.71 20.40,565.69 20.55,565.68 20.70,565.67 20.85,565.66 21.00,565.64 21.15,565.63 21.30,565.61 21.45,565.60 21.60,565.58 21.75,565.56 21.90,565.55 22.05,565.53 22.20,565.51 22.35,565.49 22.50,565.47 22.65,565.45 22.80,565.43 22.95,565.41 23.10,565.39 23.25,565.36 23.40,565.34 23.55,565.31 23.70,565.28 23.85,565.26 24.00,565.23 24.15,565.20 24.30,565.16 24.45,565.13 24.60,565.09 24.75,565.06 24.90,565.02 25.05,564.98 25.20,564.94 25.35,564.89 25.50,564.85 25.65,564.80 25.80,564.75 25.95,564.69 26.10,564.63 26.25,564.57 26.40,564.51 26.55,564.44 26.70,564.37 26.85,564.30 27.00,564.21 27.15,564.13 27.30,564.04 27.45,563.94 27.60,563.84 27.75,563.73 27.90,563.61 28.05,563.49 28.20,563.35 28.35,563.21 28.50,563.05 28.65,562.88 28.80,562.70 28.95,562.50 29.10,562.29 29.25,562.06 29.40,561.81 29.55,561.53 29.70,561.23 29.85,560.90 30.00,560.54 30.15,560.13 30.30,559.69 30.45,559.20 30.60,558.64 30.75,558.03 30.90,557.34 31.05,556.55 31.20,555.67 31.35,554.66 31.50,553.50 31.65,552.17 31.80,550.64 31.95,548.84 32.10,546.74 32.25,544.26 32.40,541.31 32.55,537.79 32.70,533.55 32.85,528.41 33.00,522.17 33.15,514.58 33.30,505.37 33.45,494.35 33.60,481.49 33.75,467.21 33.90,452.66 34.05,439.97 34.20,431.89 34.35,430.65 34.50,436.63 34.65,448.09 34.80,462.30 34.95,476.85 35.10,490.25 35.25,501.90 35.40,511.69 35.55,519.79 35.70,526.46 35.85,531.93 36.00,536.45 36.15,540.20 36.30,543.32 36.45,545.94 36.60,548.16 36.75,550.05 36.90,551.67 37.05,553.06 37.20,554.27 37.35,555.32 37.50,556.25 37.65,557.06 37.80,557.78 37.95,558.42 38.10,558.99 38.25,559.50 38.40,559.96 38.55,560.37 38.70,560.75 38.85,561.09 39.00,561.40 39.15,561.68 39.30,561.94 39.45,562.17 39.60,562.39 39.75,562.59 39.90,562.78 40.05,562.95 40.20,563.11 40.35,563.25 40.50,563.39 40.65,563.52 40.80,563.64 40.95,563.75 41.10,563.85 41.25,563.95 41.40,564.04 41.55,564.12 41.70,564.20 41.85,564.28 42.00,564.35 42.15,564.42 42.30,564.48 42.45,564.54 42.60,564.60 42.75,564.65 42.90,564.70 43.05,564.75 43.20,564.80 43.35,564.84 43.50,564.88 43.65,564.92 43.80,564.96 43.95,564.99 44.10,565.02" fill="none" stroke="#2a8a2a" stroke-width="1.1" stroke-linejoin="round"/>
<polyline points="44.10,565.02 44.25,565.06 44.40,565.09 44.55,565.12 44.70,565.14 44.85,565.17 45.00,565.19 45.15,565.22 45.30,565.24 45.45,565.26 45.60,565.28 45.75,565.30 45.90,565.32 46.05,565.34 46.20,565.36 46.35,565.37 46.50,565.39 46.65,565.40 46.80,565.42 46.95,565.43 47.10,565.44 47.25,565.45 47.40,565.47 47.55,565.48 47.70,565.49 47.85,565.50 48.00,565.51 48.15,565.51 48.30,565.52 48.45,565.53 48.60,565.54 48.75,565.54 48.90,565.55 49.05,565.55 49.20,565.56 49.35,565.56 49.50,565.57 49.65,565.57 49.80,565.57 49.95,565.57 50.10,565.58 50.25,565.58 50.40,565.58 50.55,565.58 50.70,565.58 50.85,565.58 51.00,565.57 51.15,565.57 51.30,565.57 51.45,565.56 51.60,565.56 51.75,565.55 51.90,565.55 52.05,565.54 52.20,565.53 52.35,565.52 52.50,565.51 52.65,565.50 52.80,565.48 52.95,565.47 53.10,565.45 53.25,565.43 53.40,565.41 53.55,565.38 53.70,565.35 53.85,565.32 54.00,565.28 54.15,565.24 54.30,565.19 54.45,565.14 54.60,565.07 54.75,565.00 54.90,564.91 55.05,564.80 55.20,564.66 55.35,564.50 55.50,564.29 55.65,564.03 55.80,563.68 55.95,563.23 56.10,562.63 56.25,561.85 56.40,560.89 56.55,559.85 56.70,559.05 56.85,558.87 57.00,559.38 57.15,560.27 57.30,561.16 57.45,561.89 57.60,562.41 57.75,562.77 57.90,563.00 58.05,563.13 58.20,563.18 58.35,563.16 58.50,563.08 58.65,562.95 58.80,562.77 58.95,562.53 59.10,562.22 59.25,561.83 59.40,561.36 59.55,560.77 59.70,560.03 59.85,559.12 60.00,557.96 60.15,556.49 60.30,554.59 60.45,552.12 60.60,548.88 60.75,544.63 60.90,539.14 61.05,532.42 61.20,525.08 61.35,518.90 61.50,516.40 61.65,518.91 61.80,525.11 61.95,532.46 62.10,539.20 62.25,544.69 62.40,548.96 62.55,552.22 62.70,554.71 62.85,556.62 63.00,558.12 63.15,559.29 63.30,560.23 63.45,561.00 63.60,561.62 63.75,562.14 63.90,562.57 64.05,562.93 64.20,563.24 64.35,563.50 64.50,563.73 64.65,563.93 64.80,564.10 64.95,564.26 65.10,564.39 65.25,564.51 65.40,564.61 65.55,564.71 65.70,564.79 65.85,564.87 66.00,564.94 66.15,565.00 66.30,565.05 66.45,565.11 66.60,565.15 66.75,565.19 66.90,565.23 67.05,565.27 67.20,565.30 67.35,565.33 67.50,565.36 67.65,565.38 67.80,565.41 67.95,565.43 68.10,565.45 68.25,565.47 68.40,565.48 68.55,565.50 68.70,565.51 68.85,565.52 69.00,565.54 69.15,565.55 69.30,565.56 69.45,565.57 69.60,565.57 69.75,565.58 69.90,565.59 70.05,565.59 70.20,565.60 70.35,565.60 70.50,565.61 70.65,565.61 70.80,565.61 70.95,565.62 71.10,565.62 71.25,565.62 71.40,565.62 71.55,565.62 71.70,565.62 71.85,565.62 72.00,565.62 72.15,565.62 72.30,565.62 72.45,565.61 72.60,565.61 72.75,565.61 72.90,565.60 73.05,565.60 73.20,565.60 73.35,565.59 73.50,565.58 73.65,565.58 73.80,565.57 73.95,565.57 74.10,565.56 74.25,565.55 74.40,565.54 74.55,565.53 74.70,565.52 74.85,565.51 75.00,565.50 75.15,565.49 75.30,565.48 75.45,565.47 75.60,565.46 75.75,565.44 75.90,565.43 76.05,565.41 76.20,565.40 76.35,565.38 76.50,565.36 76.65,565.35 76.80,565.33 76.95,565.31 77.10,565.29 77.25,565.26 77.40,565.24 77.55,565.22 77.70,565.19 77.85,565.16 78.00,565.14 78.15,565.11 78.30,565.08 78.45,565.04 78.60,565.01 78.75,564.97 78.90,564.93 79.05,564.89 79.20,564.85 79.35,564.81 79.50,564.76 79.65,564.71 79.80,564.65 79.95,564.60 80.10,564.54 80.25,564.47 80.40,564.41 80.55,564.33 80.70,564.26 80.85,564.17 81.00,564.08 81.15,563.99 81.30,563.89 81.45,563.78 81.60,563.66 81.75,563.53 81.90,563.39 82.05,563.24 82.20,563.08 82.35,562.90 82.50,562.71 82.65,562.50 82.80,562.27 82.95,562.01 83.10,561.72 83.25,561.41 83.40,561.06 83.55,560.66 83.70,560.22 83.85,559.71 84.00,559.14 84.15,558.49 84.30,557.73 84.45,556.86 84.60,555.84 84.75,554.63 84.90,553.19 85.05,551.45 85.20,549.34 85.35,546.73 85.50,543.47 85.65,539.33 85.80,533.98 85.95,526.97 86.10,517.67 86.25,505.23 86.40,488.75 86.55,467.76 86.70,443.78 86.85,422.54 87.00,413.45 87.15,421.72 87.30,442.12 87.45,465.23 87.60,485.29 87.75,500.77 87.90,512.09 88.05,520.13 88.20,525.69 88.35,529.35 88.50,531.49 88.65,532.33 88.80,531.95 88.95,530.33 89.10,527.32 89.25,522.60 89.40,515.71 89.55,505.93 89.70,492.35 89.85,474.10 90.00,451.16 90.15,426.43 90.30,407.77 90.45,404.98 90.60,420.04 90.75,444.66 90.90,469.57 91.05,490.37 91.20,506.40 91.35,518.42 91.50,527.43 91.65,534.23 91.80,539.45 91.95,543.51 92.10,546.72 92.25,549.30 92.40,551.39 92.55,553.12 92.70,554.56 92.85,555.76 93.00,556.79 93.15,557.67 93.30,558.43 93.45,559.09 93.60,559.67 93.75,560.18 93.90,560.63 94.05,561.03 94.20,561.38 94.35,561.71 94.50,561.99 94.65,562.26 94.80,562.49 94.95,562.71 95.10,562.91 95.25,563.09 95.40,563.26 95.55,563.41 95.70,563.55 95.85,563.68 96.00,563.80 96.15,563.92 96.30,564.02 96.45,564.12 96.60,564.21 96.75,564.30 96.90,564.38 97.05,564.45 97.20,564.52 97.35,564.59 97.50,564.65 97.65,564.71 97.80,564.77 97.95,564.82 98.10,564.87 98.25,564.92 98.40,564.96 98.55,565.01 98.70,565.05 98.85,565.09 99.00,565.12 99.15,565.16 99.30,565.19 99.45,565.22 99.60,565.25 99.75,565.28 99.90,565.31 100.05,565.34 100.20,565.36 100.35,565.39 100.50,565.41 100.65,565.44 100.80,565.46 100.95,565.48 101.10,565.50 101.25,565.52 101.40,565.54 101.55,565.55 101.70,565.57 101.85,565.59 102.00,565.60 102.15,565.62 102.30,565.63 102.45,565.65 102.60,565.66 102.75,565.68 102.90,565.69 103.05,565.70 103.20,565.71 103.35,565.73 103.50,565.74 103.65,565.75 103.80,565.76 103.95,565.77 104.10,565.78 104.25,565.79 104.40,565.80 104.55,565.81 104.70,565.82 104.85,565.83 105.00,565.84 105.15,565.84" fill="none" stroke="#ff2a2a" stroke-width="1.1" stroke-linejoin="round"/>
<polyline points="105.15,565.84 105.30,565.85 105.45,565.86 105.60,565.87 105.75,565.87 105.90,565.88 106.05,565.89 106.20,565.90 106.35,565.90 106.50,565.91 106.65,565.91 106.80,565.92 106.95,565.93 107.10,565.93 107.25,565.94 107.40,565.94 107.55,565.95 107.70,565.95 107.85,565.96 108.00,565.97 108.15,565.97 108.30,565.97 108.45,565.98 108.60,565.98 108.75,565.99 108.90,565.99 109.05,566.00 109.20,566.00 109.35,566.01 109.50,566.01 109.65,566.01 109.80,566.02 109.95,566.02 110.10,566.02 110.25,566.03 110.40,566.03 110.55,566.04 110.70,566.04 110.85,566.04 111.00,566.05 111.15,566.05 111.30,566.05 111.45,566.06 111.60,566.06 111.75,566.06 111.90,566.06 112.05,566.07 112.20,566.07 112.35,566.07 112.50,566.07 112.65,566.08 112.80,566.08 112.95,566.08 113.10,566.09 113.25,566.09 113.40,566.09 113.55,566.09 113.70,566.09 113.85,566.10 114.00,566.10 114.15,566.10 114.30,566.10 114.45,566.11 114.60,566.11 114.75,566.11 114.90,566.11 115.05,566.11 115.20,566.12 115.35,566.12 115.50,566.12 115.65,566.12 115.80,566.12 115.95,566.13 116.10,566.13 116.25,566.13 116.40,566.13 116.55,566.13 116.70,566.13 116.85,566.14 117.00,566.14 117.15,566.14 117.30,566.14 117.45,566.14 117.60,566.14 117.75,566.14 117.90,566.15 118.05,566.15 118.20,566.15 118.35,566.15 118.50,566.15 118.65,566.15 118.80,566.15 118.95,566.16 119.10,566.16 119.25,566.16 119.40,566.16 119.55,566.16 119.70,566.16 119.85,566.16 120.00,566.16 120.15,566.17 120.30,566.17 120.45,566.17 120.60,566.17 120.75,566.17 120.90,566.17 121.05,566.17 121.20,566.17 121.35,566.17 121.50,566.18 121.65,566.18 121.80,566.18 121.95,566.18 122.10,566.18 122.25,566.18 122.40,566.18 122.55,566.18 122.70,566.18 122.85,566.18 123.00,566.19" fill="none" stroke="#000" stroke-width="1.1" stroke-linejoin="round"/>
<polyline points="114.70,482.95 114.85,482.95 115.00,482.95 115.15,482.95 115.30,482.94 115.45,482.94 115.60,482.94 115.75,482.94 115.90,482.94 116.05,482.93 116.20,482.93 116.35,482.93 116.50,482.93 116.65,482.93 116.80,482.92 116.95,482.92 117.10,482.92 117.25,482.92 117.40,482.91 117.55,482.91 117.70,482.91 117.85,482.91 118.00,482.90 118.15,482.90 118.30,482.90 118.45,482.89 118.60,482.89 118.75,482.89 118.90,482.88 119.05,482.88 119.20,482.88 119.35,482.87 119.50,482.87 119.65,482.87 119.80,482.86 119.95,482.86 120.10,482.86 120.25,482.85 120.40,482.85 120.55,482.84 120.70,482.84 120.85,482.83 121.00,482.83 121.15,482.82 121.30,482.82 121.45,482.81 121.60,482.81 121.75,482.80 121.90,482.80 122.05,482.79 122.20,482.78 122.35,482.78 122.50,482.77 122.65,482.76 122.80,482.76 122.95,482.75 123.10,482.74 123.25,482.73 123.40,482.73 123.55,482.72 123.70,482.71 123.85,482.70 124.00,482.69 124.15,482.68 124.30,482.67 124.45,482.66 124.60,482.65 124.75,482.63 124.90,482.62 125.05,482.61 125.20,482.60 125.35,482.58 125.50,482.57" fill="none" stroke="#000" stroke-width="1.1" stroke-linejoin="round"/>
<polyline points="125.50,482.57 125.65,482.55 125.80,482.53 125.95,482.52 126.10,482.50 126.25,482.48 126.40,482.46 126.55,482.44 126.70,482.41 126.85,482.39 127.00,482.37 127.15,482.34 127.30,482.31 127.45,482.28 127.60,482.25 127.75,482.21 127.90,482.17 128.05,482.13 128.20,482.09 128.35,482.05 128.50,482.00 128.65,481.94 128.80,481.89 128.95,481.82 129.10,481.75 129.25,481.68 129.40,481.60 129.55,481.51 129.70,481.41 129.85,481.31 130.00,481.19 130.15,481.06 130.30,480.91 130.45,480.75 130.60,480.57 130.75,480.36 130.90,480.13 131.05,479.86 131.20,479.56 131.35,479.21 131.50,478.80 131.65,478.33 131.80,477.77 131.95,477.11 132.10,476.33 132.25,475.38 132.40,474.22 132.55,472.79 132.70,471.03 132.85,468.81 133.00,466.02 133.15,462.48 133.30,458.03 133.45,452.56 133.60,446.12 133.75,439.29 133.90,433.33 134.05,430.04 134.20,430.72 134.35,435.09 134.50,441.52 134.65,448.31 134.80,454.45 134.95,459.57 135.10,463.68 135.25,466.94 135.40,469.51 135.55,471.55 135.70,473.18 135.85,474.50 136.00,475.57 136.15,476.45 136.30,477.18 136.45,477.79 136.60,478.30 136.75,478.74 136.90,479.11 137.05,479.43 137.20,479.71 137.35,479.95 137.50,480.16 137.65,480.34 137.80,480.50 137.95,480.64 138.10,480.76 138.25,480.87 138.40,480.97 138.55,481.05 138.70,481.13 138.85,481.19 139.00,481.25 139.15,481.30 139.30,481.35 139.45,481.38 139.60,481.42 139.75,481.44 139.90,481.47 140.05,481.48 140.20,481.50 140.35,481.50 140.50,481.51 140.65,481.51 140.80,481.51 140.95,481.50" fill="none" stroke="#2a8a2a" stroke-width="1.1" stroke-linejoin="round"/>
<polyline points="140.95,481.50 141.10,481.49 141.25,481.47 141.40,481.45 141.55,481.43 141.70,481.40 141.85,481.37 142.00,481.33 142.15,481.29 142.30,481.24 142.45,481.18 142.60,481.12 142.75,481.06 142.90,480.98 143.05,480.90 143.20,480.81 143.35,480.70 143.50,480.59 143.65,480.46 143.80,480.32 143.95,480.17 144.10,479.99 144.25,479.80 144.40,479.57 144.55,479.33 144.70,479.04 144.85,478.72 145.00,478.36 145.15,477.94 145.30,477.45 145.45,476.89 145.60,476.23 145.75,475.46 145.90,474.54 146.05,473.44 146.20,472.11 146.35,470.48 146.50,468.48 146.65,465.98 146.80,462.83 146.95,458.81 147.10,453.65 147.25,447.02 147.40,438.57 147.55,428.15 147.70,416.21 147.85,404.49 148.00,396.28 148.15,394.94 148.30,401.12 148.45,412.05 148.60,424.15 148.75,435.13 148.90,444.18 149.05,451.33 149.20,456.87 149.35,461.16 149.50,464.48 149.65,467.07 149.80,469.09 149.95,470.67 150.10,471.87 150.25,472.77 150.40,473.39 150.55,473.73 150.70,473.78 150.85,473.53 151.00,473.00 151.15,472.31 151.30,471.85 151.45,472.04 151.60,472.98 151.75,474.32 151.90,475.64 152.05,476.75 152.20,477.63 152.35,478.32 152.50,478.86 152.65,479.28 152.80,479.62 152.95,479.90 153.10,480.14 153.25,480.33 153.40,480.50 153.55,480.65 153.70,480.77 153.85,480.88 154.00,480.97 154.15,481.06 154.30,481.13 154.45,481.20 154.60,481.26 154.75,481.31 154.90,481.36 155.05,481.40 155.20,481.43 155.35,481.47 155.50,481.49 155.65,481.52 155.80,481.54 155.95,481.56 156.10,481.57 156.25,481.58 156.40,481.59 156.55,481.60 156.70,481.60 156.85,481.60 157.00,481.60 157.15,481.59 157.30,481.58 157.45,481.57 157.60,481.56 157.75,481.54 157.90,481.53 158.05,481.50 158.20,481.48 158.35,481.45 158.50,481.42 158.65,481.39 158.80,481.35 158.95,481.31 159.10,481.26 159.25,481.21 159.40,481.15 159.55,481.09 159.70,481.02 159.85,480.95 160.00,480.87 160.15,480.78 160.30,480.68 160.45,480.58 160.60,480.46 160.75,480.33 160.90,480.18 161.05,480.03 161.20,479.85 161.35,479.65 161.50,479.43 161.65,479.18 161.80,478.90 161.95,478.58 162.10,478.22 162.25,477.81 162.40,477.33 162.55,476.77 162.70,476.13 162.85,475.36 163.00,474.45 163.15,473.36 163.30,472.03 163.45,470.39 163.60,468.34 163.75,465.75 163.90,462.41 164.05,458.02 164.20,452.17 164.35,444.23 164.50,433.38 164.65,418.69 164.80,399.75 164.95,378.53 165.10,361.78 165.25,358.82 165.40,371.63 165.55,392.11 165.70,411.94 165.85,427.79 166.00,439.52 166.15,448.00 166.30,454.13 166.45,458.57 166.60,461.80 166.75,464.14 166.90,465.82 167.05,466.98 167.20,467.70 167.35,468.04 167.50,468.03 167.65,467.68 167.80,466.95 167.95,465.80 168.10,464.13 168.25,461.82 168.40,458.65 168.55,454.32 168.70,448.38 168.85,440.19 169.00,428.84 169.15,413.36 169.30,393.31 169.45,370.81 169.60,353.09 169.75,350.19 169.90,364.19 170.05,386.44 170.20,408.01 170.35,425.31 170.50,438.22 170.65,447.66 170.80,454.60 170.95,459.77 171.10,463.69 171.25,466.71 171.40,469.08 171.55,470.97 171.70,472.49 171.85,473.74 172.00,474.78 172.15,475.65 172.30,476.39 172.45,477.02 172.60,477.56 172.75,478.03 172.90,478.44 173.05,478.79 173.20,479.11 173.35,479.39 173.50,479.65 173.65,479.87 173.80,480.07 173.95,480.26 174.10,480.42 174.25,480.57 174.40,480.71 174.55,480.84 174.70,480.96 174.85,481.06 175.00,481.16 175.15,481.25 175.30,481.34 175.45,481.41 175.60,481.49 175.75,481.56 175.90,481.62 176.05,481.68 176.20,481.73 176.35,481.79 176.50,481.84 176.65,481.88 176.80,481.93 176.95,481.97 177.10,482.01 177.25,482.04 177.40,482.08 177.55,482.11 177.70,482.14 177.85,482.17 178.00,482.20 178.15,482.23 178.30,482.25 178.45,482.28 178.60,482.30 178.75,482.32 178.90,482.34 179.05,482.36 179.20,482.38 179.35,482.40 179.50,482.42 179.65,482.44 179.80,482.45 179.95,482.47 180.10,482.49 180.25,482.50 180.40,482.51 180.55,482.53 180.70,482.54 180.85,482.55 181.00,482.57 181.15,482.58 181.30,482.59 181.45,482.60 181.60,482.61 181.75,482.62 181.90,482.63 182.05,482.64 182.20,482.65 182.35,482.66 182.50,482.67 182.65,482.68 182.80,482.68" fill="none" stroke="#ff2a2a" stroke-width="1.1" stroke-linejoin="round"/>
<polyline points="182.80,482.68 182.95,482.69 183.10,482.70 183.25,482.71 183.40,482.71 183.55,482.72 183.70,482.73 183.85,482.73 184.00,482.74 184.15,482.75 184.30,482.75 184.45,482.76 184.60,482.77 184.75,482.77 184.90,482.78 185.05,482.78 185.20,482.79 185.35,482.79 185.50,482.80 185.65,482.80 185.80,482.81 185.95,482.81 186.10,482.82 186.25,482.82 186.40,482.82 186.55,482.83 186.70,482.83 186.85,482.84 187.00,482.84 187.15,482.84 187.30,482.85 187.45,482.85 187.60,482.85 187.75,482.86 187.90,482.86 188.05,482.86 188.20,482.87 188.35,482.87 188.50,482.87 188.65,482.88 188.80,482.88 188.95,482.88 189.10,482.89 189.25,482.89 189.40,482.89 189.55,482.89 189.70,482.90 189.85,482.90 190.00,482.90 190.15,482.90 190.30,482.91 190.45,482.91 190.60,482.91 190.75,482.91 190.90,482.92 191.05,482.92 191.20,482.92 191.35,482.92 191.50,482.92 191.65,482.93 191.80,482.93 191.95,482.93 192.10,482.93 192.25,482.93 192.40,482.94 192.55,482.94 192.70,482.94 192.85,482.94 193.00,482.94 193.15,482.94 193.30,482.95 193.45,482.95 193.60,482.95 193.75,482.95 193.90,482.95 194.05,482.95 194.20,482.96 194.35,482.96 194.50,482.96 194.65,482.96 194.80,482.96 194.95,482.96 195.10,482.96 195.25,482.97 195.40,482.97 195.55,482.97 195.70,482.97 195.85,482.97 196.00,482.97 196.15,482.97 196.30,482.97 196.45,482.98 196.60,482.98 196.75,482.98 196.90,482.98 197.05,482.98 197.20,482.98 197.35,482.98 197.50,482.98 197.65,482.98 197.80,482.99 197.95,482.99 198.10,482.99 198.25,482.99 198.40,482.99 198.55,482.99 198.70,482.99 198.85,482.99 199.00,482.99 199.15,482.99 199.30,483.00 199.45,483.00 199.60,483.00 199.75,483.00 199.90,483.00 200.05,483.00 200.20,483.00 200.35,483.00 200.50,483.00 200.65,483.00 200.80,483.00 200.95,483.00 201.10,483.01 201.25,483.01 201.40,483.01 201.55,483.01 201.70,483.01 201.85,483.01 202.00,483.01 202.15,483.01 202.30,483.01 202.45,483.01 202.60,483.01 202.75,483.01 202.90,483.01 203.05,483.01 203.20,483.02 203.35,483.02 203.50,483.02 203.65,483.02 203.80,483.02 203.95,483.02 204.10,483.02 204.25,483.02 204.40,483.02 204.55,483.02 204.70,483.02 204.85,483.02 205.00,483.02 205.15,483.02 205.30,483.02 205.45,483.02 205.60,483.02 205.75,483.03 205.90,483.03 206.05,483.03 206.20,483.03 206.35,483.03 206.50,483.03 206.65,483.03 206.80,483.03 206.95,483.03 207.10,483.03 207.25,483.03 207.40,483.03 207.55,483.03 207.70,483.03 207.85,483.03 208.00,483.03 208.15,483.03 208.30,483.03 208.45,483.03 208.60,483.03 208.75,483.03 208.90,483.04 209.05,483.04 209.20,483.04 209.35,483.04 209.50,483.04 209.65,483.04 209.80,483.04 209.95,483.04 210.10,483.04 210.25,483.04 210.40,483.04 210.55,483.04 210.70,483.04 210.85,483.04 211.00,483.04 211.15,483.04 211.30,483.04 211.45,483.04 211.60,483.04 211.75,483.04 211.90,483.04 212.05,483.04 212.20,483.04 212.35,483.04 212.50,483.04 212.65,483.04 212.80,483.04 212.95,483.05 213.10,483.05 213.25,483.05 213.40,483.05 213.55,483.05 213.70,483.05 213.85,483.05 214.00,483.05 214.15,483.05 214.30,483.05 214.45,483.05 214.60,483.05 214.75,483.05 214.90,483.05 215.05,483.05 215.20,483.05 215.35,483.05 215.50,483.05 215.65,483.05 215.80,483.05 215.95,483.05 216.10,483.05 216.25,483.05 216.40,483.05 216.55,483.05 216.70,483.05 216.85,483.05 217.00,483.05 217.15,483.05 217.30,483.05 217.45,483.05 217.60,483.05 217.75,483.05 217.90,483.05 218.05,483.05 218.20,483.06 218.35,483.06 218.50,483.06 218.65,483.06 218.80,483.06 218.95,483.06 219.10,483.06 219.25,483.06 219.40,483.06 219.55,483.06 219.70,483.06 219.85,483.06 220.00,483.06 220.15,483.06 220.30,483.06 220.45,483.06 220.60,483.06 220.75,483.06 220.90,483.06 221.05,483.06 221.20,483.06 221.35,483.06 221.50,483.06 221.65,483.06 221.80,483.06 221.95,483.06 222.10,483.06 222.25,483.06 222.40,483.06" fill="none" stroke="#000" stroke-width="1.1" stroke-linejoin="round"/>
<polyline points="111.80,467.70 112.30,467.20 112.80,466.53 113.30,465.69 113.80,464.85 114.30,464.02 114.80,463.18 115.30,462.34 115.80,461.51 116.30,460.77 116.80,460.11 117.00,459.45 117.30,458.81 117.80,458.17 118.30,457.45 118.80,456.66 119.30,455.87 119.80,455.08 120.30,454.29 120.80,453.50 121.30,452.71 121.80,451.93 122.30,451.14 122.80,450.47 123.30,449.73 123.40,448.86 123.80,447.85 124.30,446.71 124.80,445.31 125.30,443.85 125.80,442.39 126.30,440.93 126.80,439.47 127.30,438.01 127.80,436.72 128.30,435.56 128.50,434.43 128.80,433.31 129.30,432.22 129.80,430.97 130.30,429.61 130.80,428.26 131.30,426.90 131.80,425.54 132.30,424.19 132.80,422.83 133.30,421.58 133.80,420.48 134.10,419.34 134.30,418.16 134.80,416.94 135.30,415.58 135.80,414.03 136.30,412.48 136.80,410.93 137.30,409.37 137.80,407.82 138.30,406.27 138.80,404.72 139.30,403.36 139.80,402.15 140.00,400.98 140.30,399.86 140.80,398.79 141.30,397.59 141.80,396.27 142.30,394.96 142.80,393.64 143.30,392.33 143.80,391.02 144.30,389.70 144.80,388.39 145.30,387.08 145.80,385.82 146.30,384.48 146.70,383.13 147.30,381.75 147.80,380.36 148.30,378.90 148.80,377.50 149.30,376.09 149.80,374.68 150.30,373.28 150.80,371.87 151.30,370.64 151.80,369.53 152.00,368.46 152.30,367.43 152.80,366.43 153.30,365.30 153.80,364.07 154.30,362.84 154.80,361.60 155.30,360.37 155.80,359.14 156.30,357.91 156.80,356.87 157.30,355.92 157.40,355.00 157.80,354.11 158.30,353.26 158.80,352.25 159.30,351.19 159.80,350.14 160.30,349.08 160.80,348.03 161.30,347.10 161.80,346.28 162.00,345.49 162.30,344.74 162.80,344.02 163.30,343.20 163.80,342.32 164.30,341.54 164.80,340.88 165.00,340.31 165.30,339.81 165.80,339.40 166.30,339.00 166.80,338.68 167.10,338.51 167.30,338.48 167.80,338.61 168.30,338.85 168.80,339.09 169.30,339.37 169.50,339.75 169.80,340.25 170.30,340.84 170.80,341.58 171.30,342.28 171.80,343.01 172.00,343.90 172.30,344.93 172.80,346.11 173.30,347.29 173.80,348.64 173.90,350.13 174.30,351.75 174.80,353.50 175.30,355.65 175.80,357.61 176.30,359.48 176.50,361.50 176.80,363.66 177.30,365.96 177.80,368.68 178.30,371.64 178.80,374.59 179.30,377.54 179.80,380.47 180.30,383.40 180.80,386.31 181.30,389.22 181.80,392.12 182.30,395.03 182.80,397.58 183.30,399.97 183.50,402.46 183.80,405.05 184.30,407.74 184.80,410.89 185.30,414.31 185.80,417.46 186.30,420.24 186.60,423.14 186.80,426.16 187.30,429.31 187.80,432.84 188.30,436.86 188.80,440.39 189.30,443.33 189.50,445.81 189.80,447.82 190.30,449.38 190.80,450.96 191.30,452.67 191.80,454.39 192.30,455.89 192.80,457.17 193.00,458.27 193.30,459.20 193.80,459.97 194.30,460.78 194.80,461.65 195.30,462.53 195.80,463.40 196.30,464.17 196.80,464.81 197.00,465.35 197.30,465.78 197.80,466.11 198.30,466.45 198.80,466.81 199.30,467.18 199.80,467.54 200.30,467.90 200.80,468.27 201.30,468.63 201.80,469.00 202.30,469.36 202.80,469.73 203.30,470.05 203.80,470.30 204.00,470.48 204.30,470.59 204.80,470.64 205.30,470.66 205.80,470.68 206.30,470.70 206.80,470.72 207.30,470.75 207.80,470.77 208.30,470.79 208.80,470.81 209.30,470.83 209.80,470.86 210.30,470.88 210.80,470.90 211.30,470.92 211.80,470.94 212.30,470.97 212.80,470.99 213.30,471.01 213.80,471.03 214.30,471.05 214.80,471.08 215.30,471.10 215.80,471.12 216.30,471.14 216.80,471.16 217.30,471.18 217.60,471.19" fill="none" stroke="#a0522d" stroke-width="1.15" stroke-linejoin="round" stroke-dasharray="3.0,2.2"/>
<line x1="134.10" y1="490.90" x2="150.00" y2="490.90" stroke="#000" stroke-width="1.2"/>
<line x1="134.10" y1="490.90" x2="134.10" y2="512.00" stroke="#000" stroke-width="1.2"/>
<line x1="148.00" y1="490.90" x2="151.10" y2="490.90" stroke="#000" stroke-width="1.2"/>
<polygon points="150.30,493.50 150.30,488.30 154.50,490.90" fill="#000"/>
<line x1="134.10" y1="510.00" x2="134.10" y2="513.70" stroke="#000" stroke-width="1.2"/>
<polygon points="131.50,512.90 136.70,512.90 134.10,517.10" fill="#000"/>
<polyline points="265.80,573.37 266.20,573.32 266.60,573.23 267.00,573.15 267.40,573.07 267.80,572.98 268.20,572.90 268.60,572.82 269.00,572.74 269.40,572.65 269.80,572.57 270.20,572.49 270.60,572.40 271.00,572.34 271.10,572.27 271.40,572.19 271.80,572.06 272.20,571.92 272.60,571.79 273.00,571.65 273.40,571.51 273.80,571.38 274.20,571.24 274.60,571.10 275.00,570.99 275.20,570.94 275.40,570.97 275.80,571.05 276.20,571.14 276.60,571.24 277.00,571.34 277.40,571.44 277.80,571.53 278.20,571.63 278.60,571.73 279.00,571.82 279.30,571.82 279.80,571.75 280.20,571.62 280.60,571.49 281.00,571.37 281.40,571.24 281.80,571.12 282.20,570.99 282.60,570.86 283.00,570.74 283.40,570.61 283.80,570.49 284.20,570.38 284.40,570.28 284.60,570.12 285.00,569.89 285.40,569.62 285.80,569.35 286.20,569.08 286.60,568.81 287.00,568.54 287.40,568.34 287.50,568.13 287.80,567.87 288.20,567.52 288.60,567.13 289.00,566.74 289.40,566.35 289.80,565.96 290.20,565.57 290.60,565.18 291.00,564.79 291.40,564.46 291.60,564.35 291.80,564.56 292.20,565.00 292.60,565.53 293.00,566.07 293.40,566.60 293.80,567.13 294.20,567.67 294.60,568.02 294.60,568.17 295.00,568.10 295.40,568.00 295.80,567.91 296.20,567.81 296.60,567.71 297.00,567.61 297.40,567.52 297.80,567.42 298.20,567.32 298.60,567.25 298.70,567.11 299.00,566.88 299.40,566.52 299.80,566.14 300.20,565.75 300.60,565.36 301.00,564.97 301.40,564.59 301.80,564.33 301.80,564.02 302.20,563.67 302.60,563.14 303.00,562.61 303.40,562.08 303.80,561.55 304.20,561.03 304.60,560.54 304.90,560.40 305.40,560.57 305.80,561.00 306.20,561.40 306.60,561.77 306.90,561.50 307.40,560.71 307.80,559.42 308.20,558.23 308.60,557.04 309.00,555.85 309.40,554.66 309.80,553.47 310.20,552.28 310.60,551.09 311.00,550.30 311.00,550.03 311.40,550.30 311.80,550.70 312.20,551.10 312.60,551.50 313.00,551.77 313.00,551.65 313.40,551.14 313.80,550.39 314.20,549.63 314.60,548.88 315.00,548.12 315.40,547.43 315.70,547.17 316.20,547.32 316.60,547.80 317.00,548.24 317.40,548.68 317.80,549.12 318.20,549.53 318.50,549.08 319.00,547.90 319.40,546.05 319.80,544.34 320.20,542.63 320.60,540.91 321.00,539.20 321.40,537.49 321.80,535.78 322.20,534.07 322.60,532.64 322.80,532.14 323.00,532.90 323.40,534.65 323.80,536.76 324.20,538.86 324.60,540.96 325.00,543.07 325.40,545.17 325.80,546.75 325.90,547.45 326.20,547.21 326.60,546.57 327.00,545.87 327.40,545.16 327.80,544.46 328.20,543.76 328.60,543.17 328.80,542.60 329.00,541.85 329.40,540.79 329.80,539.51 330.20,538.24 330.60,536.96 331.00,535.69 331.40,534.41 331.80,533.35 332.00,532.90 332.20,533.25 332.60,534.18 333.00,535.30 333.40,536.42 333.80,537.54 334.20,538.66 334.60,539.78 335.00,540.90 335.40,541.74 335.50,541.84 335.80,541.07 336.20,539.72 336.60,538.25 337.00,536.77 337.40,535.30 337.80,533.82 338.20,532.35 338.60,530.87 339.00,529.89 339.00,529.61 339.40,530.02 339.80,530.64 340.20,531.25 340.60,531.87 341.00,532.49 341.40,533.11 341.80,533.73 342.20,534.19 342.30,534.10 342.60,533.34 343.00,532.07 343.40,530.68 343.80,529.29 344.20,527.90 344.60,526.51 345.00,525.12 345.40,523.73 345.80,522.34 346.20,521.30 346.30,521.20 346.60,522.20 347.00,523.96 347.40,525.87 347.80,527.79 348.20,529.71 348.60,531.62 349.00,533.22 349.20,534.28 349.40,534.90 349.80,535.41 350.20,536.02 350.60,536.63 351.00,537.23 351.40,537.84 351.80,538.30 351.90,538.86 352.20,539.62 352.60,540.75 353.00,541.97 353.40,543.20 353.80,544.43 354.20,545.65 354.60,546.78 354.90,547.82 355.40,548.72 355.80,549.57 356.20,550.36 356.60,551.15 357.00,551.93 357.40,552.72 357.80,553.38 358.00,554.01 358.20,554.86 358.60,556.06 359.00,557.50 359.40,558.94 359.80,560.14 360.00,560.84 360.20,561.02 360.60,560.93 361.00,560.81 361.40,560.70 361.80,560.59 362.20,560.47 362.60,560.36 363.00,560.24 363.40,560.16 363.50,560.34 363.80,560.85 364.20,561.68 364.60,562.59 365.00,563.49 365.40,564.39 365.80,565.30 366.20,565.90 366.20,566.33 366.60,566.60 367.00,567.00 367.40,567.40 367.80,567.80 368.20,568.20 368.60,568.60 369.00,569.00 369.40,569.40 369.80,569.80 370.20,570.20 370.60,570.60 371.00,570.97 371.30,571.24 371.80,571.42 372.20,571.53 372.60,571.64 373.00,571.74 373.40,571.84 373.80,571.95 374.20,572.05 374.60,572.16 375.00,572.26 375.40,572.36 375.80,572.47 376.20,572.57 376.60,572.67 377.00,572.78 377.40,572.88 377.80,572.99 378.20,573.09 378.60,573.19 379.00,573.30 379.40,573.37 379.40,573.40 379.80,573.40 380.20,573.40 380.60,573.40 381.00,573.40 381.40,573.40 381.80,573.40 382.20,573.40 382.60,573.40 383.00,573.40 383.40,573.40 383.80,573.40 384.20,573.40 384.60,573.40 385.00,573.40 385.40,573.40 385.80,573.40 386.20,573.40 386.60,573.40 387.00,573.40 387.40,573.40 387.80,573.40 388.20,573.40 388.60,573.40 389.00,573.40 389.40,573.40 389.80,573.40 390.20,573.40 390.60,573.40 391.00,573.40 391.40,573.40 391.80,573.40 392.20,573.40 392.60,573.40 393.00,573.40 393.40,573.40 393.80,573.40 394.20,573.40 394.60,573.40 395.00,573.40 395.40,573.40 395.80,573.40 396.20,573.40 396.60,573.40 397.00,573.40 397.40,573.40 397.80,573.40 398.20,573.40 398.60,573.40 399.00,573.40 399.40,573.40 399.80,573.40 400.20,573.40 400.60,573.40 400.90,573.40" fill="none" stroke="#000" stroke-width="1.0" stroke-linejoin="round"/>
<polyline points="265.80,558.91 266.30,558.91 266.80,558.90 267.30,558.89 267.80,558.88 268.30,558.86 268.80,558.85 269.30,558.83 269.80,558.82 270.30,558.80 270.80,558.78 271.30,558.76 271.80,558.74 272.30,558.72 272.80,558.69 273.30,558.66 273.80,558.63 274.30,558.60 274.80,558.56 275.30,558.53 275.80,558.49 276.30,558.44 276.80,558.39 277.30,558.34 277.80,558.29 278.30,558.23 278.80,558.17 279.30,558.10 279.80,558.03 280.30,557.95 280.80,557.87 281.30,557.78 281.80,557.68 282.30,557.58 282.80,557.47 283.30,557.36 283.80,557.24 284.30,557.11 284.80,556.97 285.30,556.83 285.80,556.67 286.30,556.51 286.80,556.34 287.30,556.16 287.80,555.96 288.30,555.76 288.80,555.55 289.30,555.32 289.80,555.08 290.30,554.83 290.80,554.57 291.30,554.30 291.80,554.01 292.30,553.70 292.80,553.39 293.30,553.05 293.80,552.71 294.30,552.34 294.80,551.96 295.30,551.57 295.80,551.16 296.30,550.73 296.80,550.29 297.30,549.82 297.80,549.35 298.30,548.85 298.80,548.33 299.30,547.80 299.80,547.25 300.30,546.68 300.80,546.10 301.30,545.49 301.80,544.87 302.30,544.23 302.80,543.57 303.30,542.89 303.80,542.20 304.30,541.49 304.80,540.76 305.30,540.02 305.80,539.26 306.30,538.48 306.80,537.69 307.30,536.89 307.80,536.07 308.30,535.24 308.80,534.40 309.30,533.55 309.80,532.68 310.30,531.81 310.80,530.93 311.30,530.04 311.80,529.14 312.30,528.24 312.80,527.34 313.30,526.43 313.80,525.52 314.30,524.61 314.80,523.70 315.30,522.80 315.80,521.89 316.30,521.00 316.80,520.11 317.30,519.22 317.80,518.35 318.30,517.49 318.80,516.64 319.30,515.81 319.80,514.99 320.30,514.19 320.80,513.40 321.30,512.64 321.80,511.90 322.30,511.18 322.80,510.49 323.30,509.82 323.80,509.18 324.30,508.57 324.80,507.99 325.30,507.44 325.80,506.92 326.30,506.44 326.80,505.99 327.30,505.57 327.80,505.19 328.30,504.85 328.80,504.54 329.30,504.27 329.80,504.05 330.30,503.86 330.80,503.71 331.30,503.60 331.80,503.53 332.30,503.50 332.80,503.51 333.30,503.57 333.80,503.66 334.30,503.79 334.80,503.97 335.30,504.18 335.80,504.43 336.30,504.72 336.80,505.05 337.30,505.41 337.80,505.81 338.30,506.25 338.80,506.72 339.30,507.23 339.80,507.77 340.30,508.34 340.80,508.94 341.30,509.56 341.80,510.22 342.30,510.90 342.80,511.61 343.30,512.34 343.80,513.10 344.30,513.87 344.80,514.67 345.30,515.48 345.80,516.31 346.30,517.15 346.80,518.01 347.30,518.87 347.80,519.75 348.30,520.64 348.80,521.53 349.30,522.43 349.80,523.34 350.30,524.25 350.80,525.16 351.30,526.07 351.80,526.97 352.30,527.88 352.80,528.78 353.30,529.68 353.80,530.57 354.30,531.46 354.80,532.34 355.30,533.20 355.80,534.06 356.30,534.91 356.80,535.74 357.30,536.57 357.80,537.37 358.30,538.17 358.80,538.95 359.30,539.72 359.80,540.47 360.30,541.20 360.80,541.92 361.30,542.62 361.80,543.30 362.30,543.97 362.80,544.61 363.30,545.24 363.80,545.86 364.30,546.45 364.80,547.03 365.30,547.58 365.80,548.12 366.30,548.64 366.80,549.15 367.30,549.64 367.80,550.10 368.30,550.56 368.80,550.99 369.30,551.41 369.80,551.81 370.30,552.19 370.80,552.56 371.30,552.92 371.80,553.25 372.30,553.58 372.80,553.89 373.30,554.18 373.80,554.46 374.30,554.73 374.80,554.99 375.30,555.23 375.80,555.46 376.30,555.68 376.80,555.88 377.30,556.08 377.80,556.27 378.30,556.44 378.80,556.61 379.30,556.77 379.80,556.92 380.30,557.06 380.80,557.19 381.30,557.31 381.80,557.43 382.30,557.54 382.80,557.64 383.30,557.74 383.80,557.83 384.30,557.92 384.80,557.99 385.30,558.07 385.80,558.14 386.30,558.20 386.80,558.26 387.30,558.32 387.80,558.37 388.30,558.42 388.80,558.47 389.30,558.51 389.80,558.55 390.30,558.59 390.80,558.62 391.30,558.65 391.80,558.68 392.30,558.71 392.80,558.73 393.30,558.75 393.80,558.77 394.30,558.79 394.80,558.81 395.30,558.83 395.80,558.84 396.30,558.86 396.80,558.87 397.30,558.88 397.80,558.89 398.30,558.90 398.80,558.91 399.30,558.92 399.80,558.93 400.30,558.93 400.80,558.94" fill="none" stroke="#ee2222" stroke-width="0.95" stroke-linejoin="round" stroke-dasharray="2.4,1.6"/>
<polyline points="311.20,488.71 311.60,489.15 312.00,489.06 312.40,488.41 312.80,488.44 313.20,488.32 313.60,488.66 314.00,488.40 314.40,488.64 314.80,487.68 315.20,488.84 315.60,488.21 316.00,488.44 316.40,488.11 316.80,487.98 317.20,488.23 317.60,488.31 318.00,487.91 318.40,487.89 318.80,488.14 319.20,487.55 319.60,487.28 320.00,487.90 320.40,487.49 320.40,487.03 320.80,487.42 321.20,487.57 321.60,487.33 322.00,487.25 322.40,487.80 322.80,488.12 323.20,487.74 323.60,487.58 324.00,488.00 324.40,488.13 324.80,487.80 325.20,488.11 325.60,488.31 326.00,487.89 326.40,487.70 326.60,488.12 326.80,487.99 327.20,487.99 327.60,486.77 328.00,486.60 328.40,486.15 328.80,485.44 329.20,485.70 329.60,485.45 330.00,484.62 330.40,484.97 330.70,484.43 331.20,484.38 331.60,484.60 332.00,485.05 332.40,484.51 332.80,485.45 333.00,485.65 333.20,484.80 333.60,485.32 334.00,484.80 334.40,484.86 334.80,484.13 335.20,483.97 335.60,483.79 336.00,483.06 336.40,483.27 336.80,482.72 336.80,482.77 337.20,482.32 337.60,482.68 338.00,482.30 338.40,481.83 338.80,481.91 339.20,481.92 339.60,481.91 340.00,480.52 340.40,481.18 340.80,480.83 341.20,480.43 341.60,479.91 342.00,480.50 342.40,479.41 342.80,479.85 342.90,479.98 343.20,478.79 343.60,478.89 344.00,478.14 344.40,478.29 344.80,478.33 345.20,478.11 345.60,476.38 346.00,476.40 346.40,476.45 346.80,476.35 347.20,475.55 347.60,474.74 348.00,474.70 348.40,474.19 348.80,473.73 349.00,473.24 349.20,473.35 349.60,472.75 350.00,471.84 350.40,471.04 350.80,469.90 351.20,469.42 351.60,469.25 352.00,468.00 352.40,466.80 352.80,467.01 353.20,465.97 353.60,465.76 354.00,464.28 354.20,463.53 354.40,463.16 354.80,464.62 355.20,465.72 355.60,465.19 356.00,465.91 356.20,466.84 356.40,466.12 356.80,465.15 357.20,463.58 357.60,462.21 358.00,460.98 358.40,459.05 358.80,457.81 359.20,455.79 359.60,454.50 360.00,452.09 360.30,450.97 360.80,450.68 361.20,449.29 361.60,448.90 362.00,448.09 362.40,447.56 362.80,446.58 363.20,445.86 363.40,444.86 363.60,444.47 364.00,444.51 364.40,444.66 364.80,444.50 365.20,444.78 365.60,445.00 366.00,445.19 366.40,445.05 366.40,444.53 366.80,445.39 367.20,445.94 367.60,446.67 368.00,446.94 368.40,446.95 368.50,447.19 368.80,448.15 369.20,447.59 369.60,447.83 370.00,447.79 370.40,446.62 370.50,446.95 370.80,445.80 371.20,443.13 371.60,440.02 372.00,436.81 372.40,433.70 372.80,430.02 373.20,427.39 373.20,425.64 373.60,426.39 374.00,427.08 374.40,428.35 374.80,429.32 375.20,430.03 375.60,430.93 376.00,431.74 376.40,432.45 376.60,433.22 376.80,433.89 377.20,435.88 377.60,438.00 378.00,440.44 378.40,442.02 378.80,445.04 379.20,446.70 379.60,448.96 379.70,450.55 380.00,451.45 380.40,453.49 380.80,455.18 381.20,456.99 381.60,459.06 382.00,461.81 382.40,463.35 382.80,464.92 383.20,467.32 383.60,468.77 383.80,471.43 384.00,470.96 384.40,472.24 384.80,473.03 385.20,473.10 385.60,474.49 386.00,475.50 386.40,476.09 386.50,476.50 386.80,476.96 387.20,477.00 387.60,477.41 388.00,477.60 388.40,478.22 388.80,478.02 389.20,478.98 389.60,478.88 389.90,478.99 390.40,479.66 390.80,480.19 391.20,479.99 391.60,479.53 392.00,480.02 392.00,479.64 392.40,479.65 392.80,479.51 393.20,478.45 393.60,479.11 394.00,478.46 394.40,478.36 394.40,477.98 394.80,478.39 395.20,479.44 395.60,480.90 396.00,482.04 396.40,482.30 396.80,483.54 397.00,483.70 397.20,483.41 397.60,484.39 398.00,484.83 398.40,484.86 398.80,485.45 399.20,485.88 399.60,485.71 400.00,485.83 400.10,486.48 400.40,486.56 400.80,486.59 401.20,487.15 401.60,487.49 402.00,486.83 402.40,487.31 402.80,487.48 403.20,487.49 403.60,487.70 404.00,487.29 404.40,487.77 404.80,488.31 405.20,487.97 405.60,487.56 406.00,488.08 406.40,488.40 406.80,488.17 407.20,487.94 407.60,488.76 408.00,487.87 408.40,488.58 408.80,488.48 409.20,488.16 409.60,489.09 410.00,488.88 410.00,488.39 410.40,489.02 410.80,488.67 411.20,488.17 411.60,488.60 412.00,488.95 412.40,489.09 412.80,488.94 413.20,488.91 413.60,489.07 414.00,488.85 414.40,489.35 414.80,489.00 415.20,489.06 415.60,489.16 416.00,488.61 416.40,488.75 416.80,489.55 417.20,489.14 417.60,488.94 418.00,489.17 418.40,488.89 418.80,489.17 419.20,488.85 419.60,489.20 420.00,488.56 420.40,489.59 420.80,488.96 421.20,488.60 421.60,489.08 422.00,489.05 422.40,489.24 422.80,488.80 423.20,489.35 423.60,490.50 424.00,488.79 424.40,489.37 424.80,489.16 425.20,489.35 425.60,488.66 425.70,488.90" fill="none" stroke="#000" stroke-width="1.0" stroke-linejoin="round"/>
<polyline points="345.30,403.91 345.70,403.65 346.10,404.33 346.50,403.20 346.90,403.53 347.30,404.69 347.70,402.96 348.10,402.83 348.50,403.15 348.90,403.07 349.30,403.40 349.70,403.01 350.10,402.54 350.50,402.90 350.90,403.92 351.30,403.23 351.70,401.34 352.00,402.46 352.50,402.00 352.90,402.49 353.30,401.96 353.70,402.74 354.10,402.13 354.50,401.94 354.90,401.46 355.30,401.19 355.70,401.19 356.10,401.46 356.50,400.95 356.90,400.38 357.30,400.95 357.70,400.29 358.00,400.03 358.50,399.54 358.90,399.45 359.30,399.26 359.70,398.12 360.10,399.67 360.50,399.30 360.90,398.78 361.30,399.18 361.70,398.74 362.10,398.54 362.50,397.09 362.90,397.94 363.30,398.11 363.70,398.43 364.00,398.39 364.50,398.04 364.90,396.70 365.30,396.07 365.70,397.16 366.10,396.75 366.50,397.01 366.90,396.36 367.30,396.36 367.70,395.43 368.10,396.14 368.50,395.58 368.90,395.78 369.00,395.73 369.30,395.12 369.70,394.54 370.10,393.51 370.50,392.98 370.90,391.99 371.30,390.63 371.50,389.96 371.70,390.68 372.10,389.55 372.50,389.65 372.90,388.98 373.30,388.15 373.70,387.66 374.00,387.70 374.50,387.50 374.90,387.45 375.30,386.42 375.70,386.54 376.10,386.58 376.50,387.15 376.80,385.21 377.30,386.66 377.70,386.69 378.10,387.54 378.50,387.55 378.90,388.35 379.00,389.15 379.30,388.25 379.70,387.32 380.10,386.19 380.50,384.59 380.90,384.07 381.00,383.04 381.30,382.26 381.70,381.73 382.10,380.65 382.50,380.09 382.90,378.73 383.30,377.51 383.70,377.41 383.80,376.57 384.10,375.67 384.50,373.25 384.90,370.52 385.30,367.96 385.70,365.61 386.10,363.75 386.40,361.26 386.90,358.64 387.30,357.51 387.70,355.31 388.10,354.43 388.50,352.23 388.90,350.62 389.00,350.25 389.30,349.55 389.70,347.88 390.10,347.87 390.50,347.41 390.90,344.68 391.30,345.07 391.30,343.39 391.70,344.05 392.10,345.34 392.50,345.91 392.90,348.29 393.30,349.08 393.50,349.38 393.70,350.30 394.10,351.01 394.50,353.24 394.90,355.51 395.30,356.01 395.70,358.28 396.00,360.03 396.50,361.18 396.90,361.52 397.30,360.89 397.70,360.94 398.00,361.64 398.50,361.48 398.90,361.77 399.30,362.63 399.70,363.14 400.10,362.73 400.40,362.73 400.90,364.58 401.30,366.03 401.70,369.15 402.00,370.67 402.50,374.45 402.90,376.17 403.30,378.11 403.70,380.16 404.00,381.04 404.50,383.57 404.90,384.43 405.30,383.77 405.70,384.81 406.10,385.23 406.50,384.60 406.90,386.12 407.30,386.71 407.70,386.60 408.00,386.82 408.50,387.54 408.90,386.83 409.30,387.87 409.70,388.60 410.10,387.87 410.50,389.17 410.90,388.84 411.30,388.39 411.70,389.58 412.00,389.45 412.50,390.35 412.90,390.05 413.30,391.37 413.70,390.89 414.10,391.71 414.50,391.61 414.90,392.06 415.30,393.07 415.30,392.80 415.70,392.69 416.10,392.65 416.50,394.07 416.90,394.22 417.30,394.09 417.70,394.68 418.00,394.41 418.50,394.88 418.90,395.56 419.30,396.63 419.70,397.13 420.10,397.20 420.50,398.40 420.90,398.95 421.00,399.01 421.30,399.59 421.70,399.27 422.10,399.67 422.50,400.26 422.90,400.36 423.30,401.05 423.70,400.45 424.10,401.98 424.10,401.15 424.50,401.48 424.90,401.03 425.30,402.02 425.70,402.43 426.10,402.44 426.50,402.43 426.90,401.46 427.30,401.91 427.70,402.16 428.10,402.05 428.50,403.07 428.90,402.75 429.30,402.76 429.70,403.09 430.00,402.53 430.50,402.63 430.90,402.72 431.30,403.41 431.70,403.40 432.10,403.58 432.50,403.87 432.90,402.84 433.30,403.26 433.70,403.65 434.10,403.04 434.50,403.48 434.90,404.24 435.30,404.35 435.70,404.40 436.00,403.99 436.50,403.94 436.90,404.58 437.30,403.98 437.70,404.35 438.10,404.85 438.50,404.15 438.90,404.09 439.30,404.41 439.70,404.74 440.10,404.74 440.50,404.65 440.90,404.89 441.30,403.97 441.70,404.36 442.10,404.87 442.50,404.43 442.90,404.30 443.30,404.42 443.40,404.58" fill="none" stroke="#000" stroke-width="1.0" stroke-linejoin="round"/>
<polyline points="345.30,386.60 345.80,386.60 346.30,386.60 346.80,386.60 347.30,386.60 347.80,386.60 348.30,386.60 348.80,386.60 349.30,386.60 349.80,386.60 350.30,386.60 350.80,386.60 351.30,386.60 351.80,386.60 352.30,386.60 352.80,386.60 353.30,386.60 353.80,386.60 354.30,386.60 354.80,386.60 355.30,386.60 355.80,386.60 356.30,386.60 356.80,386.60 357.30,386.60 357.80,386.60 358.30,386.60 358.80,386.60 359.30,386.60 359.80,386.59 360.30,386.59 360.80,386.59 361.30,386.59 361.80,386.58 362.30,386.58 362.80,386.57 363.30,386.56 363.80,386.55 364.30,386.54 364.80,386.52 365.30,386.50 365.80,386.47 366.30,386.43 366.80,386.39 367.30,386.34 367.80,386.27 368.30,386.19 368.80,386.10 369.30,385.98 369.80,385.84 370.30,385.68 370.80,385.48 371.30,385.24 371.80,384.97 372.30,384.65 372.80,384.28 373.30,383.84 373.80,383.35 374.30,382.78 374.80,382.13 375.30,381.40 375.80,380.58 376.30,379.66 376.80,378.64 377.30,377.51 377.80,376.27 378.30,374.91 378.80,373.44 379.30,371.85 379.80,370.15 380.30,368.33 380.80,366.41 381.30,364.39 381.80,362.29 382.30,360.11 382.80,357.87 383.30,355.59 383.80,353.28 384.30,350.97 384.80,348.67 385.30,346.42 385.80,344.23 386.30,342.13 386.80,340.15 387.30,338.31 387.80,336.63 388.30,335.13 388.80,333.83 389.30,332.76 389.80,331.91 390.30,331.32 390.80,330.98 391.30,330.91 391.80,331.09 392.30,331.53 392.80,332.22 393.30,333.16 393.80,334.32 394.30,335.70 394.80,337.28 395.30,339.03 395.80,340.93 396.30,342.96 396.80,345.10 397.30,347.31 397.80,349.59 398.30,351.89 398.80,354.20 399.30,356.50 399.80,358.77 400.30,360.99 400.80,363.14 401.30,365.21 401.80,367.19 402.30,369.07 402.80,370.84 403.30,372.50 403.80,374.04 404.30,375.47 404.80,376.78 405.30,377.98 405.80,379.06 406.30,380.04 406.80,380.92 407.30,381.71 407.80,382.40 408.30,383.02 408.80,383.55 409.30,384.02 409.80,384.43 410.30,384.78 410.80,385.08 411.30,385.34 411.80,385.56 412.30,385.75 412.80,385.90 413.30,386.03 413.80,386.14 414.30,386.23 414.80,386.30 415.30,386.36 415.80,386.41 416.30,386.45 416.80,386.48 417.30,386.51 417.80,386.53 418.30,386.54 418.80,386.56 419.30,386.57 419.80,386.57 420.30,386.58 420.80,386.59 421.30,386.59 421.80,386.59 422.30,386.59 422.80,386.60 423.30,386.60 423.80,386.60 424.30,386.60 424.80,386.60 425.30,386.60 425.80,386.60 426.30,386.60 426.80,386.60 427.30,386.60 427.80,386.60 428.30,386.60 428.80,386.60 429.30,386.60 429.80,386.60 430.30,386.60 430.80,386.60 431.30,386.60 431.80,386.60 432.30,386.60 432.80,386.60 433.30,386.60 433.80,386.60 434.30,386.60 434.80,386.60 435.30,386.60 435.80,386.60 436.30,386.60 436.80,386.60 437.30,386.60 437.80,386.60 438.30,386.60 438.80,386.60 439.30,386.60 439.80,386.60 440.30,386.60 440.80,386.60 441.30,386.60 441.80,386.60 442.30,386.60 442.80,386.60 443.30,386.60 443.80,386.60 444.30,386.60 444.80,386.60 445.30,386.60 445.80,386.60" fill="none" stroke="#ee2222" stroke-width="0.95" stroke-linejoin="round" stroke-dasharray="2.4,1.6"/>
<line x1="366.40" y1="481.90" x2="376.00" y2="481.90" stroke="#000" stroke-width="1.2"/>
<line x1="366.40" y1="481.90" x2="366.40" y2="500.00" stroke="#000" stroke-width="1.2"/>
<line x1="374.00" y1="481.90" x2="377.30" y2="481.90" stroke="#000" stroke-width="1.2"/>
<polygon points="376.50,484.50 376.50,479.30 380.70,481.90" fill="#000"/>
<line x1="366.40" y1="498.00" x2="366.40" y2="501.60" stroke="#000" stroke-width="1.2"/>
<polygon points="363.80,500.80 369.00,500.80 366.40,505.00" fill="#000"/>
<line x1="517.40" y1="579.30" x2="645.10" y2="421.50" stroke="#ee2222" stroke-width="1.2"/>
<polyline points="492.00,578.40 492.15,578.37 492.30,578.33 492.45,578.30 492.60,578.26 492.75,578.23 492.90,578.20 493.05,578.16 493.20,578.13 493.35,578.10 493.50,578.06 493.65,578.03 493.80,578.00 493.95,577.96 494.10,577.93 494.25,577.89 494.40,577.86 494.55,577.83 494.70,577.79 494.85,577.76 495.00,577.73 495.15,577.69 495.30,577.66 495.45,577.63 495.60,577.59 495.75,577.56 495.90,577.53 496.05,577.49 496.20,577.46 496.35,577.43 496.50,577.40 496.65,577.36 496.80,577.33 496.95,577.30 497.10,577.26 497.25,577.23 497.40,577.20 497.55,577.16 497.70,577.13 497.85,577.10 498.00,577.07 498.15,577.03 498.30,577.00 498.45,576.97 498.60,576.94 498.75,576.90 498.90,576.87 499.05,576.84 499.20,576.81 499.35,576.79 499.50,576.76 499.65,576.73 499.80,576.70 499.95,576.67 500.10,576.64 500.25,576.61 500.40,576.58 500.55,576.55 500.70,576.51 500.85,576.48 501.00,576.45 501.15,576.42 501.30,576.38 501.45,576.34 501.60,576.31 501.75,576.27 501.90,576.23 502.05,576.19 502.20,576.14 502.35,576.10 502.50,576.06 502.65,576.02 502.80,575.97 502.95,575.93 503.10,575.88 503.25,575.83 503.40,575.77 503.55,575.71 503.70,575.65 503.85,575.59 504.00,575.52 504.15,575.44 504.30,575.36 504.45,575.27 504.60,575.16 504.75,575.04 504.90,574.90 505.05,574.75 505.20,574.57 505.35,574.39 505.50,574.18 505.65,573.97 505.80,573.74 505.95,573.49 506.10,573.24 506.25,572.97 506.40,572.69 506.55,572.40 506.70,572.07 506.85,571.68 507.00,571.25 507.15,570.78 507.30,570.26 507.45,569.70 507.60,569.08 507.75,568.37 507.90,567.57 508.05,566.68 508.20,565.70 508.35,564.63 508.50,563.32 508.65,561.82 508.80,560.21 508.95,558.57 509.10,556.98 509.25,555.50 509.40,553.76 509.55,552.06 509.70,550.87 509.85,550.61 510.00,550.76 510.15,551.04 510.30,551.42 510.45,551.85 510.60,552.42 510.75,553.39 510.90,554.54 511.05,555.61 511.20,556.34 511.35,556.47 511.50,556.07 511.65,555.32 511.80,554.36 511.95,553.33 512.10,552.27 512.25,550.94 512.40,549.40 512.55,547.74 512.70,546.06 512.85,544.45 513.00,543.00 513.15,541.75 513.30,540.60 513.45,539.49 513.60,538.31 513.75,536.99 513.90,535.45 514.05,533.70 514.20,531.78 514.35,529.72 514.50,527.55 514.65,525.31 514.80,523.04 514.95,520.76 515.10,518.54 515.25,516.46 515.40,514.43 515.55,512.35 515.70,510.09 515.85,507.56 516.00,504.65 516.15,501.26 516.30,497.11 516.45,491.66 516.60,484.85 516.75,476.67 516.90,467.13 517.05,455.68 517.20,437.10 517.35,414.08 517.50,391.84 517.65,374.68 517.80,359.26 517.95,355.57 518.10,362.89 518.25,375.40 518.40,393.71 518.55,423.56 518.70,450.00 518.85,469.23 519.00,486.24 519.15,497.87 519.30,503.04 519.45,506.92 519.60,510.11 519.75,512.74 519.90,514.93 520.05,516.82 520.20,518.54 520.35,520.22 520.50,522.00 520.65,523.80 520.80,525.48 520.95,527.04 521.10,528.51 521.25,529.88 521.40,531.18 521.55,532.39 521.70,533.45 521.85,534.41 522.00,535.34 522.15,536.34 522.30,537.50 522.45,538.88 522.60,540.45 522.75,542.14 522.90,543.87 523.05,545.56 523.20,547.24 523.35,548.96 523.50,550.75 523.65,552.67 523.80,554.93 523.95,557.42 524.10,559.92 524.25,562.21 524.40,564.09 524.55,565.37 524.70,566.38 524.85,567.27 525.00,568.05 525.15,568.73 525.30,569.32 525.45,569.84 525.60,570.30 525.75,570.74 525.90,571.15 526.05,571.54 526.20,571.91 526.35,572.25 526.50,572.57 526.65,572.86 526.80,573.12 526.95,573.36 527.10,573.56 527.25,573.75 527.40,573.90 527.55,574.05 527.70,574.19 527.85,574.32 528.00,574.44 528.15,574.56 528.30,574.67 528.45,574.77 528.60,574.87 528.75,574.96 528.90,575.05 529.05,575.14 529.20,575.22 529.35,575.29 529.50,575.37 529.65,575.44 529.80,575.51 529.95,575.58 530.10,575.64 530.25,575.71 530.40,575.77 530.55,575.83 530.70,575.89 530.85,575.95 531.00,576.00 531.15,576.06 531.30,576.11 531.45,576.16 531.60,576.21 531.75,576.26 531.90,576.31 532.05,576.36 532.20,576.40 532.35,576.45 532.50,576.49 532.65,576.53 532.80,576.58 532.95,576.62 533.10,576.66 533.25,576.70 533.40,576.75 533.55,576.79 533.70,576.83 533.85,576.87 534.00,576.91 534.15,576.96 534.30,577.00 534.45,577.04 534.60,577.09 534.75,577.13 534.90,577.17 535.05,577.21 535.20,577.26 535.35,577.30 535.50,577.34 535.65,577.38 535.80,577.42 535.95,577.47 536.10,577.51 536.25,577.55 536.40,577.59 536.55,577.63 536.70,577.67 536.85,577.71 537.00,577.75 537.15,577.78 537.30,577.82 537.45,577.86 537.60,577.90 537.75,577.94 537.90,577.98 538.05,578.01 538.20,578.05 538.35,578.09 538.50,578.12 538.65,578.16 538.80,578.19 538.95,578.23 539.10,578.26 539.25,578.30 539.40,578.33 539.55,578.37 539.70,578.40" fill="none" stroke="#000" stroke-width="1.0" stroke-linejoin="round"/>
<polyline points="557.80,508.70 557.95,508.69 558.10,508.68 558.25,508.66 558.40,508.65 558.55,508.64 558.70,508.62 558.85,508.61 559.00,508.59 559.15,508.58 559.30,508.56 559.45,508.54 559.60,508.53 559.75,508.51 559.90,508.49 560.05,508.47 560.20,508.45 560.35,508.43 560.50,508.41 560.65,508.39 560.80,508.37 560.95,508.35 561.10,508.33 561.25,508.31 561.40,508.29 561.55,508.27 561.70,508.25 561.85,508.22 562.00,508.20 562.15,508.18 562.30,508.15 562.45,508.13 562.60,508.11 562.75,508.08 562.90,508.06 563.05,508.03 563.20,508.01 563.35,507.98 563.50,507.95 563.65,507.92 563.80,507.90 563.95,507.87 564.10,507.84 564.25,507.81 564.40,507.78 564.55,507.74 564.70,507.71 564.85,507.68 565.00,507.64 565.15,507.61 565.30,507.57 565.45,507.53 565.60,507.49 565.75,507.45 565.90,507.41 566.05,507.37 566.20,507.33 566.35,507.29 566.50,507.24 566.65,507.19 566.80,507.14 566.95,507.09 567.10,507.04 567.25,506.99 567.40,506.93 567.55,506.87 567.70,506.81 567.85,506.75 568.00,506.68 568.15,506.61 568.30,506.54 568.45,506.47 568.60,506.39 568.75,506.31 568.90,506.23 569.05,506.14 569.20,506.05 569.35,505.95 569.50,505.86 569.65,505.75 569.80,505.65 569.95,505.54 570.10,505.42 570.25,505.30 570.40,505.16 570.55,505.01 570.70,504.85 570.85,504.68 571.00,504.49 571.15,504.29 571.30,504.08 571.45,503.85 571.60,503.61 571.75,503.35 571.90,503.08 572.05,502.79 572.20,502.49 572.35,502.17 572.50,501.83 572.65,501.48 572.80,501.05 572.95,500.55 573.10,499.98 573.25,499.34 573.40,498.64 573.55,497.88 573.70,497.06 573.85,496.20 574.00,495.28 574.15,494.33 574.30,493.30 574.45,492.08 574.60,490.71 574.75,489.20 574.90,487.59 575.05,485.90 575.20,484.15 575.35,482.39 575.50,480.58 575.65,478.61 575.80,476.52 575.95,474.36 576.10,472.18 576.25,470.04 576.40,468.00 576.55,466.06 576.70,464.17 576.85,462.29 577.00,460.39 577.15,458.42 577.30,456.23 577.45,454.00 577.60,452.03 577.75,450.55 577.90,449.21 578.05,448.14 578.20,447.70 578.35,447.91 578.50,448.46 578.65,449.20 578.80,450.00 578.95,451.11 579.10,452.68 579.25,454.43 579.40,456.05 579.55,457.24 579.70,457.70 579.85,456.95 580.00,454.98 580.15,452.21 580.30,449.06 580.45,445.95 580.60,443.17 580.75,440.40 580.90,437.50 581.05,434.31 581.20,430.71 581.35,426.54 581.50,421.40 581.65,414.59 581.80,406.59 581.95,397.93 582.10,388.31 582.25,376.60 582.40,365.53 582.55,357.72 582.70,351.54 582.85,350.13 583.00,353.13 583.15,358.17 583.30,364.94 583.45,375.74 583.60,387.81 583.75,398.25 583.90,408.03 584.05,417.21 584.20,425.00 584.35,431.55 584.50,437.56 584.65,443.09 584.80,448.18 584.95,452.89 585.10,457.25 585.25,461.35 585.40,465.47 585.55,469.52 585.70,473.32 585.85,476.69 586.00,479.43 586.15,481.37 586.30,482.52 586.45,483.47 586.60,484.30 586.75,485.02 586.90,485.64 587.05,486.18 587.20,486.66 587.35,487.09 587.50,487.50 587.65,487.86 587.80,488.17 587.95,488.43 588.10,488.66 588.25,488.88 588.40,489.11 588.55,489.34 588.70,489.61 588.85,489.93 589.00,490.30 589.15,490.78 589.30,491.37 589.45,492.06 589.60,492.82 589.75,493.62 589.90,494.43 590.05,495.24 590.20,496.00 590.35,496.79 590.50,497.64 590.65,498.53 590.80,499.40 590.95,500.20 591.10,500.90 591.25,501.46 591.40,501.86 591.55,502.21 591.70,502.53 591.85,502.82 592.00,503.09 592.15,503.33 592.30,503.56 592.45,503.76 592.60,503.96 592.75,504.14 592.90,504.32 593.05,504.49 593.20,504.65 593.35,504.80 593.50,504.95 593.65,505.09 593.80,505.22 593.95,505.34 594.10,505.47 594.25,505.58 594.40,505.69 594.55,505.80 594.70,505.90 594.85,506.00 595.00,506.10 595.15,506.19 595.30,506.29 595.45,506.38 595.60,506.47 595.75,506.56 595.90,506.65 596.05,506.74 596.20,506.82 596.35,506.90 596.50,506.98 596.65,507.05 596.80,507.12 596.95,507.19 597.10,507.26 597.25,507.33 597.40,507.39 597.55,507.45 597.70,507.50 597.85,507.55 598.00,507.60 598.15,507.65 598.30,507.69 598.45,507.74 598.60,507.78 598.75,507.83 598.90,507.87 599.05,507.92 599.20,507.96 599.35,508.01 599.50,508.05 599.65,508.09 599.80,508.13 599.95,508.17 600.10,508.21 600.25,508.25 600.40,508.29 600.55,508.32 600.70,508.36 600.85,508.39 601.00,508.42 601.15,508.45 601.30,508.48 601.45,508.51 601.60,508.54 601.75,508.56 601.90,508.58 602.05,508.61 602.20,508.62 602.35,508.64 602.50,508.66 602.65,508.67 602.80,508.68 602.95,508.69 603.10,508.70" fill="none" stroke="#000" stroke-width="1.0" stroke-linejoin="round"/>
<polyline points="606.80,437.70 606.95,437.67 607.10,437.64 607.25,437.61 607.40,437.57 607.55,437.54 607.70,437.51 607.85,437.48 608.00,437.45 608.15,437.42 608.30,437.38 608.45,437.35 608.60,437.32 608.75,437.29 608.90,437.26 609.05,437.22 609.20,437.19 609.35,437.16 609.50,437.13 609.65,437.09 609.80,437.06 609.95,437.03 610.10,437.00 610.25,436.96 610.40,436.93 610.55,436.90 610.70,436.87 610.85,436.83 611.00,436.80 611.15,436.77 611.30,436.74 611.45,436.71 611.60,436.68 611.75,436.65 611.90,436.62 612.05,436.59 612.20,436.56 612.35,436.54 612.50,436.51 612.65,436.48 612.80,436.46 612.95,436.43 613.10,436.40 613.25,436.38 613.40,436.35 613.55,436.32 613.70,436.29 613.85,436.26 614.00,436.23 614.15,436.20 614.30,436.17 614.45,436.14 614.60,436.10 614.75,436.07 614.90,436.03 615.05,435.99 615.20,435.95 615.35,435.91 615.50,435.87 615.65,435.82 615.80,435.77 615.95,435.72 616.10,435.67 616.25,435.62 616.40,435.56 616.55,435.50 616.70,435.42 616.85,435.34 617.00,435.26 617.15,435.17 617.30,435.07 617.45,434.96 617.60,434.85 617.75,434.73 617.90,434.61 618.05,434.48 618.20,434.34 618.35,434.20 618.50,434.06 618.65,433.91 618.80,433.76 618.95,433.60 619.10,433.44 619.25,433.28 619.40,433.11 619.55,432.94 619.70,432.77 619.85,432.58 620.00,432.39 620.15,432.20 620.30,431.99 620.45,431.77 620.60,431.54 620.75,431.30 620.90,431.05 621.05,430.79 621.20,430.52 621.35,430.23 621.50,429.92 621.65,429.60 621.80,429.27 621.95,428.92 622.10,428.55 622.25,428.17 622.40,427.77 622.55,427.34 622.70,426.89 622.85,426.35 623.00,425.74 623.15,425.05 623.30,424.30 623.45,423.48 623.60,422.61 623.75,421.69 623.90,420.73 624.05,419.73 624.20,418.70 624.35,417.64 624.50,416.50 624.65,415.25 624.80,413.91 624.95,412.49 625.10,410.97 625.25,409.37 625.40,407.69 625.55,405.93 625.70,404.10 625.85,402.13 626.00,399.98 626.15,397.66 626.30,395.18 626.45,392.58 626.60,389.86 626.75,387.05 626.90,384.04 627.05,380.81 627.20,377.38 627.35,373.75 627.50,369.77 627.65,365.18 627.80,360.49 627.95,356.23 628.10,352.49 628.25,348.64 628.40,345.85 628.55,345.38 628.70,347.69 628.85,351.41 629.00,355.00 629.15,358.47 629.30,362.50 629.45,366.56 629.60,370.12 629.75,372.64 629.90,373.60 630.05,372.69 630.20,370.47 630.35,367.71 630.50,365.18 630.65,363.56 630.80,362.22 630.95,360.95 631.10,359.90 631.25,359.17 631.40,358.90 631.55,359.56 631.70,361.28 631.85,363.71 632.00,366.46 632.15,369.17 632.30,371.67 632.45,374.40 632.60,377.32 632.75,380.34 632.90,383.37 633.05,386.34 633.20,389.22 633.35,392.13 633.50,395.06 633.65,397.97 633.80,400.84 633.95,403.63 634.10,406.30 634.25,408.85 634.40,411.56 634.55,414.36 634.70,417.07 634.85,419.49 635.00,421.44 635.15,422.74 635.30,423.40 635.45,423.92 635.60,424.38 635.75,424.77 635.90,425.10 636.05,425.39 636.20,425.63 636.35,425.83 636.50,426.00 636.65,426.15 636.80,426.28 636.95,426.39 637.10,426.48 637.25,426.57 637.40,426.65 637.55,426.72 637.70,426.80 637.85,426.89 638.00,426.98 638.15,427.08 638.30,427.20 638.45,427.34 638.60,427.50 638.75,427.67 638.90,427.86 639.05,428.05 639.20,428.25 639.35,428.45 639.50,428.66 639.65,428.86 639.80,429.05 639.95,429.23 640.10,429.40 640.25,429.55 640.40,429.69 640.55,429.83 640.70,429.96 640.85,430.09 641.00,430.21 641.15,430.33 641.30,430.45 641.45,430.57 641.60,430.68 641.75,430.80 641.90,430.91 642.05,431.03 642.20,431.15 642.35,431.27 642.50,431.40 642.65,431.53 642.80,431.66 642.95,431.80 643.10,431.93 643.25,432.07 643.40,432.21 643.55,432.36 643.70,432.50 643.85,432.64 644.00,432.78 644.15,432.92 644.30,433.07 644.45,433.21 644.60,433.35 644.75,433.48 644.90,433.62 645.05,433.75 645.20,433.88 645.35,434.00 645.50,434.13 645.65,434.24 645.80,434.36 645.95,434.46 646.10,434.57 646.25,434.67 646.40,434.77 646.55,434.87 646.70,434.97 646.85,435.07 647.00,435.16 647.15,435.26 647.30,435.35 647.45,435.44 647.60,435.53 647.75,435.62 647.90,435.70 648.05,435.79 648.20,435.87 648.35,435.95 648.50,436.03 648.65,436.10 648.80,436.18 648.95,436.25 649.10,436.32 649.25,436.39 649.40,436.46 649.55,436.52 649.70,436.59 649.85,436.65 650.00,436.71 650.15,436.77 650.30,436.83 650.45,436.89 650.60,436.95 650.75,437.01 650.90,437.06 651.05,437.12 651.20,437.17 651.35,437.22 651.50,437.27 651.65,437.32 651.80,437.37 651.95,437.42 652.10,437.46 652.25,437.51 652.40,437.55 652.55,437.59 652.70,437.63 652.85,437.66 653.00,437.70" fill="none" stroke="#000" stroke-width="1.0" stroke-linejoin="round"/>
<line x1="511.10" y1="564.90" x2="511.10" y2="570.70" stroke="#000" stroke-width="1.0"/>
<line x1="508.59" y1="566.35" x2="513.61" y2="569.25" stroke="#000" stroke-width="1.0"/>
<line x1="508.59" y1="569.25" x2="513.61" y2="566.35" stroke="#000" stroke-width="1.0"/>
<line x1="527.00" y1="545.30" x2="527.00" y2="551.10" stroke="#000" stroke-width="1.0"/>
<line x1="524.49" y1="546.75" x2="529.51" y2="549.65" stroke="#000" stroke-width="1.0"/>
<line x1="524.49" y1="549.65" x2="529.51" y2="546.75" stroke="#000" stroke-width="1.0"/>
<line x1="559.30" y1="492.20" x2="559.30" y2="474.00" stroke="#000" stroke-width="1.2"/>
<line x1="559.30" y1="492.20" x2="568.00" y2="492.20" stroke="#000" stroke-width="1.2"/>
<line x1="559.30" y1="476.00" x2="559.30" y2="473.00" stroke="#000" stroke-width="1.2"/>
<polygon points="561.90,473.80 556.70,473.80 559.30,469.60" fill="#000"/>
<line x1="566.00" y1="492.20" x2="569.50" y2="492.20" stroke="#000" stroke-width="1.2"/>
<polygon points="568.70,494.80 568.70,489.60 572.90,492.20" fill="#000"/>
<line x1="565.50" y1="542.30" x2="586.50" y2="542.30" stroke="#ee2222" stroke-width="1.3"/>
<g opacity="0.999">
<text x="47.28" y="280.80" font-size="10.60" fill="#000" text-anchor="middle" textLength="19.09" lengthAdjust="spacingAndGlyphs">320</text>
<text x="86.32" y="280.80" font-size="10.60" fill="#000" text-anchor="middle" textLength="19.09" lengthAdjust="spacingAndGlyphs">360</text>
<text x="125.36" y="280.80" font-size="10.60" fill="#000" text-anchor="middle" textLength="19.09" lengthAdjust="spacingAndGlyphs">400</text>
<text x="164.40" y="280.80" font-size="10.60" fill="#000" text-anchor="middle" textLength="19.09" lengthAdjust="spacingAndGlyphs">440</text>
<text x="203.44" y="280.80" font-size="10.60" fill="#000" text-anchor="middle" textLength="19.09" lengthAdjust="spacingAndGlyphs">480</text>
<text x="59.80" y="298.00" font-size="13.57" fill="#000" text-anchor="start" textLength="103.51" lengthAdjust="spacingAndGlyphs">Raman shift (cm</text>
<text x="163.31" y="292.62" font-size="9.50" fill="#000" text-anchor="start" textLength="13.00" lengthAdjust="spacingAndGlyphs">−1</text>
<text x="176.31" y="298.00" font-size="13.57" fill="#000" text-anchor="start" textLength="4.92" lengthAdjust="spacingAndGlyphs">)</text>
<g transform="translate(10.90,199.50) rotate(-90)">
<text x="0.00" y="0.00" font-size="12.72" fill="#000" text-anchor="start" textLength="128.00" lengthAdjust="spacingAndGlyphs">Intensity (arb. units)</text>
</g>
<text x="23.40" y="15.70" font-size="13.58" fill="#000" text-anchor="start" textLength="16.66" lengthAdjust="spacingAndGlyphs">Cd</text>
<text x="40.06" y="17.60" font-size="9.51" fill="#000" text-anchor="start" textLength="19.48" lengthAdjust="spacingAndGlyphs">0.89</text>
<text x="59.55" y="15.70" font-size="13.58" fill="#000" text-anchor="start" textLength="16.27" lengthAdjust="spacingAndGlyphs">Be</text>
<text x="75.81" y="17.60" font-size="9.51" fill="#000" text-anchor="start" textLength="19.48" lengthAdjust="spacingAndGlyphs">0.11</text>
<text x="95.30" y="15.70" font-size="13.58" fill="#000" text-anchor="start" textLength="13.20" lengthAdjust="spacingAndGlyphs">Te</text>
<text x="23.30" y="33.80" font-size="12.19" fill="#000" text-anchor="start" textLength="6.60" lengthAdjust="spacingAndGlyphs" font-style="italic">λ</text>
<text x="33.40" y="33.80" font-size="12.19" fill="#000" text-anchor="start" textLength="51.20" lengthAdjust="spacingAndGlyphs">= 488 nm</text>
<text x="104.20" y="33.80" font-size="12.19" fill="#000" text-anchor="start" textLength="23.90" lengthAdjust="spacingAndGlyphs">77 K</text>
<text x="200.60" y="16.30" font-size="12.68" fill="#000" text-anchor="start" textLength="20.80" lengthAdjust="spacingAndGlyphs" font-weight="bold">(b)</text>
<text x="20.50" y="53.40" font-size="12.19" fill="#000" text-anchor="start" textLength="40.90" lengthAdjust="spacingAndGlyphs">P (GPa)</text>
<text x="91.70" y="55.20" font-size="12.19" fill="#000" text-anchor="start" textLength="22.37" lengthAdjust="spacingAndGlyphs">2LO</text>
<text x="114.57" y="57.60" font-size="8.69" fill="#000" text-anchor="start" textLength="30.03" lengthAdjust="spacingAndGlyphs" font-style="italic">Cd − Te</text>
<text x="166.10" y="39.20" font-size="12.19" fill="#000" text-anchor="start" textLength="15.60" lengthAdjust="spacingAndGlyphs">TO</text>
<text x="182.80" y="41.50" font-size="8.69" fill="#000" text-anchor="start" textLength="30.20" lengthAdjust="spacingAndGlyphs" font-style="italic">Be − Te</text>
<text x="21.40" y="68.00" font-size="12.19" fill="#000" text-anchor="start" textLength="24.50" lengthAdjust="spacingAndGlyphs">4.31</text>
<text x="21.40" y="96.10" font-size="12.19" fill="#000" text-anchor="start" textLength="24.50" lengthAdjust="spacingAndGlyphs">3.47</text>
<text x="21.40" y="126.00" font-size="12.19" fill="#000" text-anchor="start" textLength="24.50" lengthAdjust="spacingAndGlyphs">2.65</text>
<text x="21.40" y="154.50" font-size="12.19" fill="#000" text-anchor="start" textLength="24.50" lengthAdjust="spacingAndGlyphs">2.10</text>
<text x="21.40" y="186.60" font-size="12.19" fill="#000" text-anchor="start" textLength="24.50" lengthAdjust="spacingAndGlyphs">1.51</text>
<text x="21.40" y="222.90" font-size="12.19" fill="#000" text-anchor="start" textLength="24.50" lengthAdjust="spacingAndGlyphs">0.74</text>
<text x="21.80" y="253.60" font-size="12.19" fill="#000" text-anchor="start" textLength="17.80" lengthAdjust="spacingAndGlyphs">~ 0</text>
<text x="83.00" y="212.20" font-size="10.60" fill="#000" text-anchor="start" textLength="54.00" lengthAdjust="spacingAndGlyphs">Laser peak</text>
<text x="261.20" y="14.90" font-size="10.60" fill="#000" text-anchor="end" textLength="19.09" lengthAdjust="spacingAndGlyphs">520</text>
<text x="261.20" y="55.88" font-size="10.60" fill="#000" text-anchor="end" textLength="19.09" lengthAdjust="spacingAndGlyphs">480</text>
<text x="261.20" y="96.85" font-size="10.60" fill="#000" text-anchor="end" textLength="19.09" lengthAdjust="spacingAndGlyphs">440</text>
<text x="261.20" y="137.83" font-size="10.60" fill="#000" text-anchor="end" textLength="19.09" lengthAdjust="spacingAndGlyphs">400</text>
<text x="261.20" y="178.80" font-size="10.60" fill="#000" text-anchor="end" textLength="19.09" lengthAdjust="spacingAndGlyphs">360</text>
<text x="261.20" y="204.60" font-size="10.60" fill="#000" text-anchor="end" textLength="19.09" lengthAdjust="spacingAndGlyphs">200</text>
<text x="261.20" y="246.10" font-size="10.60" fill="#000" text-anchor="end" textLength="19.09" lengthAdjust="spacingAndGlyphs">160</text>
<text x="303.80" y="281.80" font-size="10.60" fill="#000" text-anchor="middle" textLength="15.90" lengthAdjust="spacingAndGlyphs">0.0</text>
<text x="347.60" y="281.80" font-size="10.60" fill="#000" text-anchor="middle" textLength="15.90" lengthAdjust="spacingAndGlyphs">0.4</text>
<text x="391.40" y="281.80" font-size="10.60" fill="#000" text-anchor="middle" textLength="15.90" lengthAdjust="spacingAndGlyphs">0.8</text>
<text x="435.20" y="281.80" font-size="10.60" fill="#000" text-anchor="middle" textLength="15.90" lengthAdjust="spacingAndGlyphs">1.2</text>
<text x="357.80" y="297.80" font-size="13.25" fill="#000" text-anchor="middle" textLength="79.47" lengthAdjust="spacingAndGlyphs">Be content x</text>
<g transform="translate(240.6,195.8) rotate(-90)">
<text x="0.00" y="0.00" font-size="13.25" fill="#000" text-anchor="start" textLength="102.69" lengthAdjust="spacingAndGlyphs">Raman shift (cm</text>
<text x="102.69" y="-5.20" font-size="9.28" fill="#000" text-anchor="start" textLength="12.90" lengthAdjust="spacingAndGlyphs">−1</text>
<text x="115.59" y="0.00" font-size="13.25" fill="#000" text-anchor="start" textLength="4.88" lengthAdjust="spacingAndGlyphs">)</text>
</g>
<text x="332.60" y="17.00" font-size="13.58" fill="#000" text-anchor="start" textLength="15.60" lengthAdjust="spacingAndGlyphs">Cd</text>
<text x="348.40" y="18.90" font-size="9.51" fill="#000" text-anchor="start" textLength="4.30" lengthAdjust="spacingAndGlyphs">1</text>
<text x="355.10" y="18.90" font-size="9.51" fill="#000" text-anchor="start" textLength="5.90" lengthAdjust="spacingAndGlyphs">−</text>
<text x="363.00" y="18.90" font-size="9.51" fill="#000" text-anchor="start" textLength="5.00" lengthAdjust="spacingAndGlyphs" font-style="italic">x</text>
<text x="369.50" y="17.00" font-size="13.58" fill="#000" text-anchor="start" textLength="13.50" lengthAdjust="spacingAndGlyphs">Be</text>
<text x="383.60" y="18.90" font-size="9.51" fill="#000" text-anchor="start" textLength="5.60" lengthAdjust="spacingAndGlyphs" font-style="italic">x</text>
<text x="389.40" y="17.00" font-size="13.58" fill="#000" text-anchor="start" textLength="14.10" lengthAdjust="spacingAndGlyphs">Te</text>
<text x="425.00" y="16.10" font-size="12.68" fill="#000" text-anchor="start" textLength="20.20" lengthAdjust="spacingAndGlyphs" font-weight="bold">(a)</text>
<text x="492.50" y="280.80" font-size="10.60" fill="#000" text-anchor="middle" textLength="19.09" lengthAdjust="spacingAndGlyphs">480</text>
<text x="527.50" y="280.80" font-size="10.60" fill="#000" text-anchor="middle" textLength="19.09" lengthAdjust="spacingAndGlyphs">540</text>
<text x="562.50" y="280.80" font-size="10.60" fill="#000" text-anchor="middle" textLength="19.09" lengthAdjust="spacingAndGlyphs">600</text>
<text x="597.49" y="280.80" font-size="10.60" fill="#000" text-anchor="middle" textLength="19.09" lengthAdjust="spacingAndGlyphs">660</text>
<text x="632.49" y="280.80" font-size="10.60" fill="#000" text-anchor="middle" textLength="19.09" lengthAdjust="spacingAndGlyphs">720</text>
<text x="667.49" y="280.80" font-size="10.60" fill="#000" text-anchor="middle" textLength="19.09" lengthAdjust="spacingAndGlyphs">780</text>
<text x="520.00" y="297.90" font-size="13.57" fill="#000" text-anchor="start" textLength="103.51" lengthAdjust="spacingAndGlyphs">Raman shift (cm</text>
<text x="623.51" y="292.52" font-size="9.50" fill="#000" text-anchor="start" textLength="13.00" lengthAdjust="spacingAndGlyphs">−1</text>
<text x="636.51" y="297.90" font-size="13.57" fill="#000" text-anchor="start" textLength="4.92" lengthAdjust="spacingAndGlyphs">)</text>
<g transform="translate(470.70,199.80) rotate(-90)">
<text x="0.00" y="0.00" font-size="12.72" fill="#000" text-anchor="start" textLength="127.70" lengthAdjust="spacingAndGlyphs">Intensity (arb. uints)</text>
</g>
<text x="493.50" y="17.60" font-size="13.58" fill="#000" text-anchor="start" textLength="16.66" lengthAdjust="spacingAndGlyphs">Cd</text>
<text x="510.16" y="19.60" font-size="9.51" fill="#000" text-anchor="start" textLength="19.48" lengthAdjust="spacingAndGlyphs">0.02</text>
<text x="529.65" y="17.60" font-size="13.58" fill="#000" text-anchor="start" textLength="16.27" lengthAdjust="spacingAndGlyphs">Be</text>
<text x="545.91" y="19.60" font-size="9.51" fill="#000" text-anchor="start" textLength="19.48" lengthAdjust="spacingAndGlyphs">0.98</text>
<text x="565.40" y="17.60" font-size="13.58" fill="#000" text-anchor="start" textLength="13.20" lengthAdjust="spacingAndGlyphs">Te</text>
<text x="654.00" y="17.10" font-size="12.68" fill="#000" text-anchor="start" textLength="16.90" lengthAdjust="spacingAndGlyphs" font-weight="bold">(f)</text>
<text x="44.50" y="598.30" font-size="10.60" fill="#000" text-anchor="middle" textLength="19.09" lengthAdjust="spacingAndGlyphs">360</text>
<text x="77.90" y="598.30" font-size="10.60" fill="#000" text-anchor="middle" textLength="19.09" lengthAdjust="spacingAndGlyphs">390</text>
<text x="111.30" y="598.30" font-size="10.60" fill="#000" text-anchor="middle" textLength="19.09" lengthAdjust="spacingAndGlyphs">420</text>
<text x="144.70" y="598.30" font-size="10.60" fill="#000" text-anchor="middle" textLength="19.09" lengthAdjust="spacingAndGlyphs">450</text>
<text x="178.10" y="598.30" font-size="10.60" fill="#000" text-anchor="middle" textLength="19.09" lengthAdjust="spacingAndGlyphs">480</text>
<text x="211.50" y="598.30" font-size="10.60" fill="#000" text-anchor="middle" textLength="19.09" lengthAdjust="spacingAndGlyphs">510</text>
<text x="59.80" y="614.40" font-size="13.57" fill="#000" text-anchor="start" textLength="103.51" lengthAdjust="spacingAndGlyphs">Raman shift (cm</text>
<text x="163.31" y="609.02" font-size="9.50" fill="#000" text-anchor="start" textLength="13.00" lengthAdjust="spacingAndGlyphs">−1</text>
<text x="176.31" y="614.40" font-size="13.57" fill="#000" text-anchor="start" textLength="4.92" lengthAdjust="spacingAndGlyphs">)</text>
<g transform="translate(10.90,516.80) rotate(-90)">
<text x="0.00" y="0.00" font-size="12.72" fill="#000" text-anchor="start" textLength="128.00" lengthAdjust="spacingAndGlyphs">Intensity (arb. units)</text>
</g>
<text x="28.50" y="339.10" font-size="13.58" fill="#000" text-anchor="start" textLength="16.66" lengthAdjust="spacingAndGlyphs">Cd</text>
<text x="45.16" y="340.80" font-size="9.51" fill="#000" text-anchor="start" textLength="16.70" lengthAdjust="spacingAndGlyphs">106</text>
<text x="61.87" y="339.10" font-size="13.58" fill="#000" text-anchor="start" textLength="16.27" lengthAdjust="spacingAndGlyphs">Be</text>
<text x="78.13" y="340.80" font-size="9.51" fill="#000" text-anchor="start" textLength="5.57" lengthAdjust="spacingAndGlyphs">2</text>
<text x="83.70" y="339.10" font-size="13.58" fill="#000" text-anchor="start" textLength="13.20" lengthAdjust="spacingAndGlyphs">Te</text>
<text x="96.90" y="340.80" font-size="9.51" fill="#000" text-anchor="start" textLength="16.70" lengthAdjust="spacingAndGlyphs">108</text>
<text x="195.30" y="334.10" font-size="12.68" fill="#000" text-anchor="start" textLength="19.40" lengthAdjust="spacingAndGlyphs" font-weight="bold">(c)</text>
<text x="290.20" y="598.30" font-size="10.60" fill="#000" text-anchor="middle" textLength="19.09" lengthAdjust="spacingAndGlyphs">350</text>
<text x="320.80" y="598.30" font-size="10.60" fill="#000" text-anchor="middle" textLength="19.09" lengthAdjust="spacingAndGlyphs">400</text>
<text x="351.40" y="598.30" font-size="10.60" fill="#000" text-anchor="middle" textLength="19.09" lengthAdjust="spacingAndGlyphs">450</text>
<text x="382.00" y="598.30" font-size="10.60" fill="#000" text-anchor="middle" textLength="19.09" lengthAdjust="spacingAndGlyphs">500</text>
<text x="412.60" y="598.30" font-size="10.60" fill="#000" text-anchor="middle" textLength="19.09" lengthAdjust="spacingAndGlyphs">550</text>
<text x="443.20" y="598.30" font-size="10.60" fill="#000" text-anchor="middle" textLength="19.09" lengthAdjust="spacingAndGlyphs">600</text>
<text x="297.90" y="614.40" font-size="13.57" fill="#000" text-anchor="start" textLength="103.51" lengthAdjust="spacingAndGlyphs">Raman shift (cm</text>
<text x="401.41" y="609.02" font-size="9.50" fill="#000" text-anchor="start" textLength="13.00" lengthAdjust="spacingAndGlyphs">−1</text>
<text x="414.41" y="614.40" font-size="13.57" fill="#000" text-anchor="start" textLength="4.92" lengthAdjust="spacingAndGlyphs">)</text>
<g transform="translate(258.90,517.50) rotate(-90)">
<text x="0.00" y="0.00" font-size="12.72" fill="#000" text-anchor="start" textLength="128.00" lengthAdjust="spacingAndGlyphs">Intensity (arb. units)</text>
</g>
<text x="274.70" y="337.60" font-size="13.58" fill="#000" text-anchor="start" textLength="16.66" lengthAdjust="spacingAndGlyphs">Cd</text>
<text x="291.36" y="339.50" font-size="9.51" fill="#000" text-anchor="start" textLength="11.13" lengthAdjust="spacingAndGlyphs">54</text>
<text x="302.50" y="337.60" font-size="13.58" fill="#000" text-anchor="start" textLength="16.27" lengthAdjust="spacingAndGlyphs">Be</text>
<text x="318.77" y="339.50" font-size="9.51" fill="#000" text-anchor="start" textLength="11.13" lengthAdjust="spacingAndGlyphs">54</text>
<text x="329.90" y="337.60" font-size="13.58" fill="#000" text-anchor="start" textLength="13.20" lengthAdjust="spacingAndGlyphs">Te</text>
<text x="343.10" y="339.50" font-size="9.51" fill="#000" text-anchor="start" textLength="16.70" lengthAdjust="spacingAndGlyphs">108</text>
<text x="423.20" y="333.10" font-size="12.68" fill="#000" text-anchor="start" textLength="22.80" lengthAdjust="spacingAndGlyphs" font-weight="bold">(d)</text>
<text x="488.50" y="598.30" font-size="10.60" fill="#000" text-anchor="middle" textLength="19.09" lengthAdjust="spacingAndGlyphs">450</text>
<text x="527.60" y="598.30" font-size="10.60" fill="#000" text-anchor="middle" textLength="19.09" lengthAdjust="spacingAndGlyphs">500</text>
<text x="566.70" y="598.30" font-size="10.60" fill="#000" text-anchor="middle" textLength="19.09" lengthAdjust="spacingAndGlyphs">550</text>
<text x="605.80" y="598.30" font-size="10.60" fill="#000" text-anchor="middle" textLength="19.09" lengthAdjust="spacingAndGlyphs">600</text>
<text x="644.90" y="598.30" font-size="10.60" fill="#000" text-anchor="middle" textLength="19.09" lengthAdjust="spacingAndGlyphs">650</text>
<text x="520.90" y="614.40" font-size="13.57" fill="#000" text-anchor="start" textLength="103.51" lengthAdjust="spacingAndGlyphs">Raman shift (cm</text>
<text x="624.41" y="609.02" font-size="9.50" fill="#000" text-anchor="start" textLength="13.00" lengthAdjust="spacingAndGlyphs">−1</text>
<text x="637.41" y="614.40" font-size="13.57" fill="#000" text-anchor="start" textLength="4.92" lengthAdjust="spacingAndGlyphs">)</text>
<g transform="translate(471.90,517.10) rotate(-90)">
<text x="0.00" y="0.00" font-size="12.72" fill="#000" text-anchor="start" textLength="128.00" lengthAdjust="spacingAndGlyphs">Intensity (arb. units)</text>
</g>
<text x="488.30" y="336.30" font-size="13.58" fill="#000" text-anchor="start" textLength="16.66" lengthAdjust="spacingAndGlyphs">Cd</text>
<text x="504.96" y="338.10" font-size="9.51" fill="#000" text-anchor="start" textLength="5.57" lengthAdjust="spacingAndGlyphs">2</text>
<text x="510.53" y="336.30" font-size="13.58" fill="#000" text-anchor="start" textLength="16.27" lengthAdjust="spacingAndGlyphs">Be</text>
<text x="526.80" y="338.10" font-size="9.51" fill="#000" text-anchor="start" textLength="16.70" lengthAdjust="spacingAndGlyphs">106</text>
<text x="543.50" y="336.30" font-size="13.58" fill="#000" text-anchor="start" textLength="13.20" lengthAdjust="spacingAndGlyphs">Te</text>
<text x="556.70" y="338.10" font-size="9.51" fill="#000" text-anchor="start" textLength="16.70" lengthAdjust="spacingAndGlyphs">108</text>
<text x="656.80" y="331.70" font-size="12.68" fill="#000" text-anchor="start" textLength="21.10" lengthAdjust="spacingAndGlyphs" font-weight="bold">(e)</text>
<text x="281.90" y="152.20" font-size="9.12" fill="#333" text-anchor="start" textLength="8.20" lengthAdjust="spacingAndGlyphs">(i)</text>
<text x="281.90" y="188.80" font-size="9.12" fill="#333" text-anchor="start" textLength="10.60" lengthAdjust="spacingAndGlyphs">(ii)</text>
<text x="426.60" y="46.20" font-size="9.12" fill="#333" text-anchor="start" textLength="13.00" lengthAdjust="spacingAndGlyphs">(iii)</text>
<text x="426.60" y="57.50" font-size="9.12" fill="#333" text-anchor="start" textLength="13.00" lengthAdjust="spacingAndGlyphs">(iv)</text>
<text x="426.90" y="202.30" font-size="9.12" fill="#333" text-anchor="start" textLength="10.40" lengthAdjust="spacingAndGlyphs">(ii)</text>
<text x="426.90" y="211.00" font-size="9.12" fill="#333" text-anchor="start" textLength="8.20" lengthAdjust="spacingAndGlyphs">(i)</text>
<text x="281.70" y="253.50" font-size="9.12" fill="#333" text-anchor="start" textLength="12.50" lengthAdjust="spacingAndGlyphs">(iii)</text>
<text x="281.70" y="262.10" font-size="9.12" fill="#333" text-anchor="start" textLength="13.10" lengthAdjust="spacingAndGlyphs">(iv)</text>
<text x="284.40" y="15.15" font-size="9.75" fill="#000" text-anchor="start" textLength="12.04" lengthAdjust="spacingAndGlyphs">LO</text>
<text x="296.74" y="16.75" font-size="6.78" fill="#000" text-anchor="start" textLength="24.86" lengthAdjust="spacingAndGlyphs" font-style="italic">Cd − Te</text>
<text x="284.40" y="28.70" font-size="9.75" fill="#000" text-anchor="start" textLength="12.86" lengthAdjust="spacingAndGlyphs">TO</text>
<text x="297.56" y="30.30" font-size="6.78" fill="#000" text-anchor="start" textLength="24.04" lengthAdjust="spacingAndGlyphs" font-style="italic">Cd − Te</text>
<text x="284.40" y="41.90" font-size="9.75" fill="#000" text-anchor="start" textLength="12.04" lengthAdjust="spacingAndGlyphs">LO</text>
<text x="296.74" y="43.50" font-size="6.78" fill="#000" text-anchor="start" textLength="24.86" lengthAdjust="spacingAndGlyphs" font-style="italic">Be − Te</text>
<text x="284.40" y="55.30" font-size="9.75" fill="#000" text-anchor="start" textLength="12.86" lengthAdjust="spacingAndGlyphs">TO</text>
<text x="297.56" y="56.90" font-size="6.78" fill="#000" text-anchor="start" textLength="24.04" lengthAdjust="spacingAndGlyphs" font-style="italic">Be − Te</text>
<text x="284.40" y="68.90" font-size="9.75" fill="#000" text-anchor="start" textLength="12.04" lengthAdjust="spacingAndGlyphs">LO</text>
<text x="296.74" y="70.50" font-size="6.78" fill="#000" text-anchor="start" textLength="16.56" lengthAdjust="spacingAndGlyphs" font-style="italic">BeTe</text>
<text x="284.40" y="82.90" font-size="9.75" fill="#000" text-anchor="start" textLength="12.86" lengthAdjust="spacingAndGlyphs">TO</text>
<text x="297.56" y="84.50" font-size="6.78" fill="#000" text-anchor="start" textLength="15.74" lengthAdjust="spacingAndGlyphs" font-style="italic">BeTe</text>
<g transform="translate(335.9,107.0) rotate(-36)">
<text x="0.00" y="0.00" font-size="12.19" fill="#000" text-anchor="start" textLength="16.08" lengthAdjust="spacingAndGlyphs">TO</text>
<text x="16.08" y="-4.60" font-size="8.48" fill="#000" text-anchor="start" textLength="10.66" lengthAdjust="spacingAndGlyphs" font-style="italic">Cd</text>
<text x="16.08" y="2.60" font-size="8.48" fill="#000" text-anchor="start" textLength="27.00" lengthAdjust="spacingAndGlyphs">Be − Te</text>
</g>
<g transform="translate(320.2,180.0) rotate(-45)">
<text x="0.00" y="0.00" font-size="12.19" fill="#000" text-anchor="start" textLength="16.08" lengthAdjust="spacingAndGlyphs">TO</text>
<text x="16.08" y="-4.60" font-size="8.48" fill="#000" text-anchor="start" textLength="10.41" lengthAdjust="spacingAndGlyphs">Be</text>
<text x="16.08" y="2.60" font-size="8.48" fill="#000" text-anchor="start" textLength="27.00" lengthAdjust="spacingAndGlyphs" font-style="italic">Be − Te</text>
</g>
<g transform="translate(345.2,223.5) rotate(-20)">
<text x="0.00" y="0.00" font-size="12.72" fill="#000" text-anchor="start" textLength="16.78" lengthAdjust="spacingAndGlyphs">TO</text>
<text x="16.78" y="-4.80" font-size="8.90" fill="#000" text-anchor="start" textLength="11.20" lengthAdjust="spacingAndGlyphs">Cd</text>
<text x="16.78" y="2.70" font-size="8.90" fill="#000" text-anchor="start" textLength="30.00" lengthAdjust="spacingAndGlyphs">Cd − Te</text>
</g>
<g transform="translate(345.2,249.5) rotate(-20)">
<text x="0.00" y="0.00" font-size="12.72" fill="#000" text-anchor="start" textLength="16.78" lengthAdjust="spacingAndGlyphs">TO</text>
<text x="16.78" y="-4.80" font-size="8.90" fill="#000" text-anchor="start" textLength="10.93" lengthAdjust="spacingAndGlyphs">Be</text>
<text x="16.78" y="2.70" font-size="8.90" fill="#000" text-anchor="start" textLength="30.00" lengthAdjust="spacingAndGlyphs">Cd − Te</text>
</g>
<text x="389.70" y="129.40" font-size="7.63" fill="#111" text-anchor="start" textLength="22.40" lengthAdjust="spacingAndGlyphs">host-iii</text>
<text x="389.70" y="141.80" font-size="7.63" fill="#111" text-anchor="start" textLength="22.10" lengthAdjust="spacingAndGlyphs">host-iv</text>
<text x="411.40" y="155.60" font-size="9.01" fill="#222" text-anchor="start" textLength="2.60" lengthAdjust="spacingAndGlyphs">i</text>
<text x="410.80" y="169.40" font-size="9.01" fill="#222" text-anchor="start" textLength="5.20" lengthAdjust="spacingAndGlyphs">ii</text>
<text x="396.50" y="180.80" font-size="7.63" fill="#111" text-anchor="start" textLength="27.80" lengthAdjust="spacingAndGlyphs">duo-imp</text>
<text x="510.00" y="261.80" font-size="10.60" fill="#000" text-anchor="start" textLength="28.50" lengthAdjust="spacingAndGlyphs">0 GPa</text>
<text x="553.60" y="241.50" font-size="10.60" fill="#000" text-anchor="start" textLength="35.50" lengthAdjust="spacingAndGlyphs">10 GPa</text>
<text x="595.80" y="221.00" font-size="10.60" fill="#000" text-anchor="start" textLength="35.80" lengthAdjust="spacingAndGlyphs">20 GPa</text>
<text x="646.50" y="195.60" font-size="10.60" fill="#000" text-anchor="start" textLength="35.40" lengthAdjust="spacingAndGlyphs">30 GPa</text>
<g transform="translate(490.40,235.80) rotate(-90)">
<text x="0.00" y="0.00" font-size="12.19" fill="#000" text-anchor="start" textLength="16.70" lengthAdjust="spacingAndGlyphs">TO</text>
<text x="16.70" y="-3.70" font-size="8.48" fill="#000" text-anchor="start" textLength="10.66" lengthAdjust="spacingAndGlyphs" font-style="italic">Cd</text>
<text x="16.70" y="3.90" font-size="8.48" fill="#000" text-anchor="start" textLength="28.40" lengthAdjust="spacingAndGlyphs" font-style="italic">Be − Te</text>
</g>
<g transform="translate(509.30,198.00) rotate(-90)">
<text x="0.00" y="0.00" font-size="12.19" fill="#000" text-anchor="start" textLength="14.50" lengthAdjust="spacingAndGlyphs">TO</text>
<text x="14.50" y="-3.70" font-size="8.48" fill="#000" text-anchor="start" textLength="10.41" lengthAdjust="spacingAndGlyphs" font-style="italic">Be</text>
<text x="14.50" y="3.60" font-size="8.48" fill="#000" text-anchor="start" textLength="31.20" lengthAdjust="spacingAndGlyphs" font-style="italic">Be − Te</text>
</g>
<g transform="translate(574.50,152.90) rotate(-90)">
<text x="0.00" y="0.00" font-size="12.19" fill="#000" text-anchor="start" textLength="16.50" lengthAdjust="spacingAndGlyphs">TO</text>
<text x="16.50" y="-4.40" font-size="8.48" fill="#000" text-anchor="start" textLength="6.70" lengthAdjust="spacingAndGlyphs">−</text>
<text x="16.50" y="3.50" font-size="8.48" fill="#000" text-anchor="start" textLength="29.60" lengthAdjust="spacingAndGlyphs" font-style="italic">Be − Te</text>
</g>
<g transform="translate(595.90,152.90) rotate(-90)">
<text x="0.00" y="0.00" font-size="12.19" fill="#000" text-anchor="start" textLength="16.50" lengthAdjust="spacingAndGlyphs">TO</text>
<text x="16.50" y="-4.70" font-size="8.48" fill="#000" text-anchor="start" textLength="6.70" lengthAdjust="spacingAndGlyphs">+</text>
<text x="16.50" y="3.40" font-size="8.48" fill="#000" text-anchor="start" textLength="29.60" lengthAdjust="spacingAndGlyphs" font-style="italic">Be − Te</text>
</g>
<text x="523.30" y="45.50" font-size="10.28" fill="#000" text-anchor="start" textLength="13.10" lengthAdjust="spacingAndGlyphs">TO</text>
<text x="537.20" y="42.00" font-size="6.68" fill="#000" text-anchor="start" textLength="8.00" lengthAdjust="spacingAndGlyphs" font-style="italic">Be</text>
<text x="537.20" y="47.60" font-size="6.89" fill="#000" text-anchor="start" textLength="24.00" lengthAdjust="spacingAndGlyphs" font-style="italic">Be − Te</text>
<text x="565.00" y="45.50" font-size="10.28" fill="#000" text-anchor="start" textLength="47.80" lengthAdjust="spacingAndGlyphs">vs P (GPa)</text>
<text x="523.30" y="61.40" font-size="10.28" fill="#000" text-anchor="start" textLength="13.10" lengthAdjust="spacingAndGlyphs">TO</text>
<text x="537.20" y="57.90" font-size="6.68" fill="#000" text-anchor="start" textLength="8.00" lengthAdjust="spacingAndGlyphs" font-style="italic">Cd</text>
<text x="537.20" y="63.50" font-size="6.89" fill="#000" text-anchor="start" textLength="24.00" lengthAdjust="spacingAndGlyphs" font-style="italic">Be − Te</text>
<text x="565.00" y="61.40" font-size="10.28" fill="#000" text-anchor="start" textLength="47.80" lengthAdjust="spacingAndGlyphs">vs P (GPa)</text>
<text x="106.30" y="578.00" font-size="11.45" fill="#000" text-anchor="start" textLength="31.40" lengthAdjust="spacingAndGlyphs">0 GPa</text>
<text x="187.50" y="495.30" font-size="11.66" fill="#000" text-anchor="start" textLength="32.50" lengthAdjust="spacingAndGlyphs">5 GPa</text>
<text x="37.90" y="457.80" font-size="11.66" fill="#2a8a2a" text-anchor="start" textLength="14.10" lengthAdjust="spacingAndGlyphs">(ii)</text>
<text x="69.70" y="538.00" font-size="11.66" fill="#ff2a2a" text-anchor="start" textLength="10.60" lengthAdjust="spacingAndGlyphs">(i)</text>
<text x="371.30" y="550.90" font-size="11.66" fill="#000" text-anchor="start" textLength="31.00" lengthAdjust="spacingAndGlyphs">0 GPa</text>
<text x="413.40" y="472.30" font-size="11.66" fill="#000" text-anchor="start" textLength="31.50" lengthAdjust="spacingAndGlyphs">5 GPa</text>
<text x="411.00" y="378.70" font-size="11.66" fill="#000" text-anchor="start" textLength="39.40" lengthAdjust="spacingAndGlyphs">10 GPa</text>
<text x="267.00" y="527.40" font-size="11.66" fill="#000" text-anchor="start" textLength="14.80" lengthAdjust="spacingAndGlyphs">TO</text>
<text x="282.40" y="529.60" font-size="8.16" fill="#000" text-anchor="start" textLength="29.60" lengthAdjust="spacingAndGlyphs" font-style="italic">Be − Te</text>
<text x="333.30" y="362.90" font-size="11.66" fill="#000" text-anchor="start" textLength="14.80" lengthAdjust="spacingAndGlyphs">TO</text>
<text x="348.50" y="358.30" font-size="8.16" fill="#000" text-anchor="start" textLength="8.60" lengthAdjust="spacingAndGlyphs" font-style="italic">Cd</text>
<text x="348.50" y="365.40" font-size="8.16" fill="#000" text-anchor="start" textLength="29.60" lengthAdjust="spacingAndGlyphs" font-style="italic">Be − Te</text>
<text x="324.10" y="438.60" font-size="11.66" fill="#000" text-anchor="start" textLength="14.80" lengthAdjust="spacingAndGlyphs">TO</text>
<text x="339.30" y="434.00" font-size="8.16" fill="#000" text-anchor="start" textLength="8.60" lengthAdjust="spacingAndGlyphs" font-style="italic">Be</text>
<text x="339.30" y="441.10" font-size="8.16" fill="#000" text-anchor="start" textLength="29.60" lengthAdjust="spacingAndGlyphs" font-style="italic">Be − Te</text>
<text x="378.70" y="435.50" font-size="11.66" fill="#000" text-anchor="start" textLength="14.80" lengthAdjust="spacingAndGlyphs">TO</text>
<text x="393.90" y="430.90" font-size="8.16" fill="#000" text-anchor="start" textLength="8.60" lengthAdjust="spacingAndGlyphs" font-style="italic">Cd</text>
<text x="393.90" y="438.00" font-size="8.16" fill="#000" text-anchor="start" textLength="29.60" lengthAdjust="spacingAndGlyphs" font-style="italic">Be − Te</text>
<text x="531.50" y="573.60" font-size="11.66" fill="#000" text-anchor="start" textLength="33.10" lengthAdjust="spacingAndGlyphs">0 GPa</text>
<text x="597.80" y="505.40" font-size="11.66" fill="#000" text-anchor="start" textLength="38.60" lengthAdjust="spacingAndGlyphs">10 GPa</text>
<text x="643.60" y="433.50" font-size="11.66" fill="#000" text-anchor="start" textLength="38.90" lengthAdjust="spacingAndGlyphs">20 GPa</text>
<text x="494.50" y="548.50" font-size="11.66" fill="#000" text-anchor="start" textLength="17.90" lengthAdjust="spacingAndGlyphs">(iv)</text>
<text x="520.60" y="421.70" font-size="11.66" fill="#000" text-anchor="start" textLength="17.40" lengthAdjust="spacingAndGlyphs">(iii)</text>
<g transform="translate(532.20,397.50) rotate(-90)">
<text x="0.00" y="0.00" font-size="12.19" fill="#000" text-anchor="start" textLength="16.00" lengthAdjust="spacingAndGlyphs">TO</text>
<text x="16.00" y="-5.10" font-size="8.48" fill="#000" text-anchor="start" textLength="10.41" lengthAdjust="spacingAndGlyphs" font-style="italic">Be</text>
<text x="16.00" y="2.90" font-size="8.48" fill="#000" text-anchor="start" textLength="29.10" lengthAdjust="spacingAndGlyphs" font-style="italic">Be − Te</text>
</g>
<g transform="translate(508.60,537.30) rotate(-90)">
<text x="0.00" y="0.00" font-size="12.19" fill="#000" text-anchor="start" textLength="16.00" lengthAdjust="spacingAndGlyphs">TO</text>
<text x="16.00" y="-5.10" font-size="8.48" fill="#000" text-anchor="start" textLength="10.66" lengthAdjust="spacingAndGlyphs" font-style="italic">Cd</text>
<text x="16.00" y="2.90" font-size="8.48" fill="#000" text-anchor="start" textLength="29.10" lengthAdjust="spacingAndGlyphs" font-style="italic">Be − Te</text>
</g>
<g transform="translate(577.00,445.80) rotate(-90)">
<text x="0.00" y="0.00" font-size="12.19" fill="#000" text-anchor="start" textLength="16.00" lengthAdjust="spacingAndGlyphs">TO</text>
<text x="16.00" y="-5.60" font-size="8.48" fill="#000" text-anchor="start" textLength="6.70" lengthAdjust="spacingAndGlyphs">−</text>
<text x="16.00" y="2.90" font-size="8.48" fill="#000" text-anchor="start" textLength="29.10" lengthAdjust="spacingAndGlyphs" font-style="italic">Be − Te</text>
</g>
<g transform="translate(596.30,376.00) rotate(-90)">
<text x="0.00" y="0.00" font-size="12.19" fill="#000" text-anchor="start" textLength="16.00" lengthAdjust="spacingAndGlyphs">TO</text>
<text x="16.00" y="-5.60" font-size="8.48" fill="#000" text-anchor="start" textLength="6.70" lengthAdjust="spacingAndGlyphs">+</text>
<text x="16.00" y="2.90" font-size="8.48" fill="#000" text-anchor="start" textLength="29.10" lengthAdjust="spacingAndGlyphs" font-style="italic">Be − Te</text>
</g>
<g transform="translate(622.50,370.40) rotate(-90)">
<text x="0.00" y="0.00" font-size="12.19" fill="#000" text-anchor="start" textLength="16.00" lengthAdjust="spacingAndGlyphs">TO</text>
<text x="16.00" y="-5.60" font-size="8.48" fill="#000" text-anchor="start" textLength="6.70" lengthAdjust="spacingAndGlyphs">−</text>
<text x="16.00" y="2.90" font-size="8.48" fill="#000" text-anchor="start" textLength="29.10" lengthAdjust="spacingAndGlyphs" font-style="italic">Be − Te</text>
</g>
<g transform="translate(641.40,369.40) rotate(-90)">
<text x="0.00" y="0.00" font-size="12.19" fill="#000" text-anchor="start" textLength="16.00" lengthAdjust="spacingAndGlyphs">TO</text>
<text x="16.00" y="-5.60" font-size="8.48" fill="#000" text-anchor="start" textLength="6.70" lengthAdjust="spacingAndGlyphs">+</text>
<text x="16.00" y="2.90" font-size="8.48" fill="#000" text-anchor="start" textLength="29.10" lengthAdjust="spacingAndGlyphs" font-style="italic">Be − Te</text>
</g>
<text x="587.70" y="545.40" font-size="11.13" fill="#000" text-anchor="start" textLength="15.00" lengthAdjust="spacingAndGlyphs">TO</text>
<text x="602.90" y="542.20" font-size="7.74" fill="#000" text-anchor="start" textLength="9.10" lengthAdjust="spacingAndGlyphs" font-style="italic">Be</text>
<text x="602.90" y="548.00" font-size="7.74" fill="#000" text-anchor="start" textLength="26.10" lengthAdjust="spacingAndGlyphs" font-style="italic">Be − Te</text>
<text x="633.00" y="545.40" font-size="11.13" fill="#000" text-anchor="start" textLength="52.00" lengthAdjust="spacingAndGlyphs">vs P (GPa)</text>
<g transform="translate(41.5,424.2) rotate(-90)">
<text x="0.00" y="0.00" font-size="13.25" fill="#2a8a2a" text-anchor="start" textLength="17.50" lengthAdjust="spacingAndGlyphs">TO</text>
<text x="20.40" y="-5.80" font-size="7.42" fill="#2a8a2a" text-anchor="start" textLength="9.70" lengthAdjust="spacingAndGlyphs" font-style="italic">Be</text>
<text x="20.40" y="2.90" font-size="7.42" fill="#2a8a2a" text-anchor="start" textLength="30.10" lengthAdjust="spacingAndGlyphs" font-style="italic">Be − Te</text>
</g>
<g transform="translate(78.4,477.6) rotate(-90)">
<text x="0.00" y="0.00" font-size="13.25" fill="#ff2a2a" text-anchor="start" textLength="16.50" lengthAdjust="spacingAndGlyphs">TO</text>
<text x="19.40" y="-4.90" font-size="7.95" fill="#ff2a2a" text-anchor="start" textLength="8.70" lengthAdjust="spacingAndGlyphs" font-style="italic">Cd</text>
<text x="19.40" y="2.90" font-size="7.95" fill="#ff2a2a" text-anchor="start" textLength="31.10" lengthAdjust="spacingAndGlyphs" font-style="italic">Be − Te</text>
</g>
</g>
</svg></body></html>
